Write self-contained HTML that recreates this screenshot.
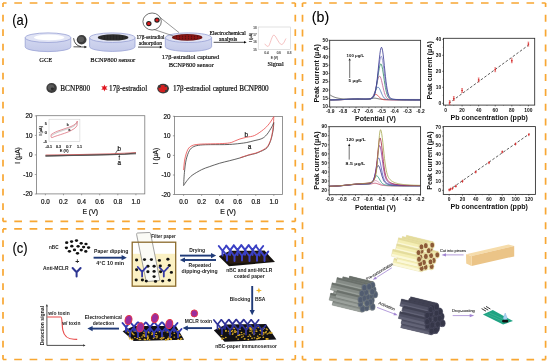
<!DOCTYPE html>
<html><head><meta charset="utf-8"><style>
html,body{margin:0;padding:0;background:#fff;}
body{width:550px;height:363px;overflow:hidden;}
svg{display:block;filter:blur(0.25px);}
.S{font-family:"Liberation Sans", sans-serif;}
.Sb{font-family:"Liberation Sans", sans-serif;font-weight:bold;}
.R{font-family:"Liberation Serif", serif;stroke:#222;stroke-width:0.2px;}
.Rb{font-family:"Liberation Serif", serif;font-weight:bold;}
</style></head><body>
<svg width="550" height="363" viewBox="0 0 550 363">
<defs>
<linearGradient id="side" x1="0" y1="0" x2="0" y2="1">
<stop offset="0" stop-color="#d3d8f0"/><stop offset="1" stop-color="#c3c9e9"/></linearGradient>
<pattern id="grain" width="3" height="2" patternUnits="userSpaceOnUse">
<rect width="3" height="2" fill="#262626"/><circle cx="1" cy="1" r="0.5" fill="#4a4a4a"/></pattern>
<pattern id="redgrain" width="3" height="2" patternUnits="userSpaceOnUse">
<rect width="3" height="2" fill="#7a1212"/><circle cx="1" cy="1" r="0.6" fill="#c01818"/><circle cx="2.4" cy="0.4" r="0.4" fill="#2a0a0a"/></pattern>
</defs>
<rect width="550" height="363" fill="#fff"/>
<line x1="3" y1="3" x2="295.3" y2="3" stroke="#F8A733" stroke-width="1.7" stroke-dasharray="7.7 7.70" stroke-dashoffset="4.1"/>
<line x1="3" y1="221.4" x2="295.3" y2="221.4" stroke="#F8A733" stroke-width="1.7" stroke-dasharray="7.7 7.70" stroke-dashoffset="4.1"/>
<line x1="3" y1="3" x2="3" y2="221.4" stroke="#F8A733" stroke-width="1.7" stroke-dasharray="6.8 7.70" stroke-dashoffset="2.7"/>
<line x1="295.3" y1="3" x2="295.3" y2="221.4" stroke="#F8A733" stroke-width="1.7" stroke-dasharray="6.8 7.70" stroke-dashoffset="2.7"/>
<line x1="3" y1="228.9" x2="295.3" y2="228.9" stroke="#F8A733" stroke-width="1.7" stroke-dasharray="7.7 7.70" stroke-dashoffset="4.2"/>
<line x1="3" y1="359.5" x2="295.3" y2="359.5" stroke="#F8A733" stroke-width="1.7" stroke-dasharray="7.7 7.70" stroke-dashoffset="4.2"/>
<line x1="3" y1="228.9" x2="3" y2="359.5" stroke="#F8A733" stroke-width="1.7" stroke-dasharray="6.8 7.55" stroke-dashoffset="3.05"/>
<line x1="295.3" y1="228.9" x2="295.3" y2="359.5" stroke="#F8A733" stroke-width="1.7" stroke-dasharray="6.8 7.55" stroke-dashoffset="3.05"/>
<line x1="302.5" y1="3" x2="545.6" y2="3" stroke="#F8A733" stroke-width="1.7" stroke-dasharray="7.6 7.58" stroke-dashoffset="3.68"/>
<line x1="302.5" y1="359.6" x2="545.6" y2="359.6" stroke="#F8A733" stroke-width="1.7" stroke-dasharray="7.6 7.58" stroke-dashoffset="3.68"/>
<line x1="302.5" y1="3" x2="302.5" y2="359.6" stroke="#F8A733" stroke-width="1.7" stroke-dasharray="7.0 7.82" stroke-dashoffset="3.02"/>
<line x1="545.6" y1="3" x2="545.6" y2="359.6" stroke="#F8A733" stroke-width="1.7" stroke-dasharray="7.0 7.82" stroke-dashoffset="3.02"/>
<text class="S" x="12.2" y="24.6" font-size="15" textLength="15.8" lengthAdjust="spacingAndGlyphs" stroke="#000" stroke-width="0.12">(a)</text>
<text class="S" x="311.8" y="21.5" font-size="15" textLength="17.4" lengthAdjust="spacingAndGlyphs" stroke="#000" stroke-width="0.12">(b)</text>
<text class="S" x="12.4" y="253.2" font-size="15" textLength="15.2" lengthAdjust="spacingAndGlyphs" stroke="#000" stroke-width="0.12">(c)</text>
<path d="M25.2,37.699999999999996 L25.2,46.800000000000004 A22.799999999999997,4.8 0 0 0 70.8,46.800000000000004 L70.8,37.699999999999996 Z" stroke="#98a1d4" stroke-width="0.8" fill="url(#side)"/>
<ellipse cx="48.00" cy="37.70" rx="22.80" ry="4.80" fill="#e1e4f5" stroke="#98a1d4" stroke-width="0.8"/>
<ellipse cx="49.20" cy="37.40" rx="15.20" ry="2.80" fill="#ffffff" stroke="none" stroke-width="1"/>
<path d="M89.6,37.699999999999996 L89.6,46.6 A22.700000000000003,4.8 0 0 0 135.0,46.6 L135.0,37.699999999999996 Z" stroke="#98a1d4" stroke-width="0.8" fill="url(#side)"/>
<ellipse cx="112.30" cy="37.70" rx="22.70" ry="4.80" fill="#e1e4f5" stroke="#98a1d4" stroke-width="0.8"/>
<ellipse cx="113.10" cy="37.40" rx="15.30" ry="3.20" fill="#2a2a2a" stroke="none" stroke-width="1"/>
<ellipse cx="113.10" cy="37.40" rx="13.00" ry="2.30" fill="url(#grain)" stroke="none" stroke-width="1"/>
<path d="M165.3,37.699999999999996 L165.3,46.6 A23.14999999999999,4.8 0 0 0 211.6,46.6 L211.6,37.699999999999996 Z" stroke="#98a1d4" stroke-width="0.8" fill="url(#side)"/>
<ellipse cx="188.45" cy="37.70" rx="23.15" ry="4.80" fill="#e1e4f5" stroke="#98a1d4" stroke-width="0.8"/>
<ellipse cx="187.20" cy="37.40" rx="15.20" ry="3.30" fill="#6e1414" stroke="none" stroke-width="1"/>
<ellipse cx="187.20" cy="37.40" rx="13.00" ry="2.40" fill="url(#redgrain)" stroke="none" stroke-width="1"/>
<ellipse cx="81.60" cy="39.80" rx="4.90" ry="4.70" fill="#3c3c3c" stroke="none" stroke-width="1"/>
<ellipse cx="81.00" cy="39.30" rx="3.00" ry="2.80" fill="#5a5a5a" stroke="none" stroke-width="1"/>
<path d="M73.6,38.2 Q74.5,45.5 81,46.6" stroke="#000" stroke-width="0.7" fill="none"/>
<line x1="73.50" y1="46.80" x2="84.50" y2="47.00" stroke="#000" stroke-width="0.7"/>
<polygon points="87.00,47.00 84.40,48.30 84.40,45.70" fill="#000" stroke="none" stroke-width="1"/>
<text class="R" x="45.7" y="61.9" font-size="7.0" text-anchor="middle" textLength="13" lengthAdjust="spacingAndGlyphs">GCE</text>
<text class="R" x="112.75" y="61.9" font-size="7.0" text-anchor="middle" textLength="44.9" lengthAdjust="spacingAndGlyphs">BCNP800 sensor</text>
<text class="R" x="190.45" y="59.4" font-size="7.0" text-anchor="middle" textLength="57.3" lengthAdjust="spacingAndGlyphs">17β-estradiol captured</text>
<text class="R" x="191.2" y="66.9" font-size="7.0" text-anchor="middle" textLength="45.1" lengthAdjust="spacingAndGlyphs">BCNP800 sensor</text>
<text class="R" x="150.5" y="39.3" font-size="6.0" text-anchor="middle" textLength="28.2" lengthAdjust="spacingAndGlyphs">17β-estradiol</text>
<text class="R" x="150.35" y="44.9" font-size="6.0" text-anchor="middle" textLength="23.3" lengthAdjust="spacingAndGlyphs">adsorption</text>
<line x1="138.00" y1="47.10" x2="160.00" y2="47.10" stroke="#000" stroke-width="0.7"/>
<polygon points="162.40,47.10 159.80,48.40 159.80,45.80" fill="#000" stroke="none" stroke-width="1"/>
<line x1="153.50" y1="29.30" x2="173.50" y2="36.00" stroke="#333" stroke-width="0.5"/>
<line x1="159.20" y1="16.80" x2="179.00" y2="32.60" stroke="#333" stroke-width="0.5"/>
<ellipse cx="152.10" cy="21.50" rx="9.20" ry="8.50" fill="#ffffff" stroke="#333" stroke-width="0.7"/>
<ellipse cx="148.80" cy="23.60" rx="2.70" ry="2.60" fill="#202020" stroke="none" stroke-width="1"/>
<ellipse cx="148.80" cy="23.60" rx="1.70" ry="1.60" fill="#e0191b" stroke="none" stroke-width="1"/>
<ellipse cx="157.00" cy="20.10" rx="2.70" ry="2.60" fill="#202020" stroke="none" stroke-width="1"/>
<ellipse cx="157.00" cy="20.10" rx="1.60" ry="1.50" fill="#e0191b" stroke="none" stroke-width="1"/>
<text class="R" x="227.7" y="35.2" font-size="5.6" text-anchor="middle" textLength="36.3" lengthAdjust="spacingAndGlyphs">Electrochemical</text>
<text class="R" x="228.2" y="41.4" font-size="5.8" text-anchor="middle" textLength="18.2" lengthAdjust="spacingAndGlyphs">analysis</text>
<line x1="213.60" y1="42.30" x2="244.00" y2="42.30" stroke="#000" stroke-width="0.7"/>
<polygon points="246.60,42.30 244.00,43.60 244.00,41.00" fill="#000" stroke="none" stroke-width="1"/>
<rect x="258.20" y="27.00" width="32.50" height="22.60" fill="#fff" stroke="#c4c4c4" stroke-width="0.5"/>
<path d="M264.8,43.8 C266,45.5 267,46.8 268.4,46.2 C270,45 271.5,37 273.4,35.2 C275.5,34 278.5,44 281.4,44.5 C283.5,44.8 285,40 286,38.5" stroke="#f0a6a6" stroke-width="0.7" fill="none"/>
<text class="S" x="256.6" y="28.5" font-size="3.0" text-anchor="end" fill="#666" stroke="#666" stroke-width="0.2">18</text>
<text class="S" x="256.6" y="35.9" font-size="3.0" text-anchor="end" fill="#666" stroke="#666" stroke-width="0.2">17</text>
<text class="S" x="256.6" y="43.300000000000004" font-size="3.0" text-anchor="end" fill="#666" stroke="#666" stroke-width="0.2">16</text>
<text class="S" x="256.6" y="50.7" font-size="3.0" text-anchor="end" fill="#666" stroke="#666" stroke-width="0.2">15</text>
<text class="S" x="266.5" y="54.2" font-size="3.0" text-anchor="middle" fill="#666" stroke="#666" stroke-width="0.2">0.4</text>
<text class="S" x="278.8" y="54.2" font-size="3.0" text-anchor="middle" fill="#666" stroke="#666" stroke-width="0.2">0.6</text>
<text class="S" x="289.3" y="54.2" font-size="3.0" text-anchor="middle" fill="#666" stroke="#666" stroke-width="0.2">0.8</text>
<text class="S" x="274.4" y="59.0" font-size="3.2" text-anchor="middle" fill="#555" stroke="#555" stroke-width="0.2">E (V)</text>
<text class="S" x="252.3" y="37.4" font-size="3.6" text-anchor="middle" transform="rotate(-90 252.3 37.4)" fill="#333" stroke="#333" stroke-width="0.2">I (μA)</text>
<text class="R" x="275.6" y="65.8" font-size="6.5" text-anchor="middle" textLength="16.1" lengthAdjust="spacingAndGlyphs">Signal</text>
<ellipse cx="51.60" cy="88.00" rx="5.20" ry="5.00" fill="#3c3c3c" stroke="none" stroke-width="1"/>
<ellipse cx="51.00" cy="87.40" rx="3.20" ry="3.00" fill="#5a5a5a" stroke="none" stroke-width="1"/>
<ellipse cx="52.40" cy="88.80" rx="1.60" ry="1.40" fill="#2a2a2a" stroke="none" stroke-width="1"/>
<text class="R" x="60.3" y="90.5" font-size="7.2" textLength="29.7" lengthAdjust="spacingAndGlyphs">BCNP800</text>
<polygon points="104.40,84.40 105.20,86.61 107.52,86.20 106.00,88.00 107.52,89.80 105.20,89.39 104.40,91.60 103.60,89.39 101.28,89.80 102.80,88.00 101.28,86.20 103.60,86.61" fill="#e0141e" stroke="none" stroke-width="1"/>
<text class="R" x="109.1" y="90.9" font-size="7.2" textLength="38.1" lengthAdjust="spacingAndGlyphs">17β-estradiol</text>
<ellipse cx="163.10" cy="88.60" rx="5.90" ry="4.80" fill="#3a3a3a" stroke="none" stroke-width="1"/>
<ellipse cx="162.80" cy="88.60" rx="4.40" ry="3.70" fill="#d42020" stroke="none" stroke-width="1"/>
<ellipse cx="159.50" cy="86.60" rx="1.40" ry="1.30" fill="#3a3a3a" stroke="none" stroke-width="1"/>
<ellipse cx="166.30" cy="91.00" rx="1.40" ry="1.20" fill="#3a3a3a" stroke="none" stroke-width="1"/>
<ellipse cx="165.50" cy="86.00" rx="1.00" ry="0.90" fill="#3a3a3a" stroke="none" stroke-width="1"/>
<text class="R" x="172.9" y="90.9" font-size="7.2" textLength="95.8" lengthAdjust="spacingAndGlyphs">17β-estradiol captured BCNP800</text>
<rect x="36.40" y="115.70" width="108.40" height="78.20" fill="none" stroke="#7a7a7a" stroke-width="0.8"/>
<line x1="34.80" y1="115.90" x2="36.40" y2="115.90" stroke="#7a7a7a" stroke-width="0.7"/>
<text class="S" x="32.4" y="118.15" font-size="6.3" text-anchor="end" fill="#111" stroke="#111" stroke-width="0.2">20</text>
<line x1="34.80" y1="135.40" x2="36.40" y2="135.40" stroke="#7a7a7a" stroke-width="0.7"/>
<text class="S" x="32.4" y="137.65" font-size="6.3" text-anchor="end" fill="#111" stroke="#111" stroke-width="0.2">10</text>
<line x1="34.80" y1="154.90" x2="36.40" y2="154.90" stroke="#7a7a7a" stroke-width="0.7"/>
<text class="S" x="32.4" y="157.15" font-size="6.3" text-anchor="end" fill="#111" stroke="#111" stroke-width="0.2">0</text>
<line x1="34.80" y1="174.50" x2="36.40" y2="174.50" stroke="#7a7a7a" stroke-width="0.7"/>
<text class="S" x="32.4" y="176.75" font-size="6.3" text-anchor="end" fill="#111" stroke="#111" stroke-width="0.2">-10</text>
<line x1="34.80" y1="194.00" x2="36.40" y2="194.00" stroke="#7a7a7a" stroke-width="0.7"/>
<text class="S" x="32.4" y="196.25" font-size="6.3" text-anchor="end" fill="#111" stroke="#111" stroke-width="0.2">-20</text>
<line x1="45.40" y1="193.90" x2="45.40" y2="195.30" stroke="#7a7a7a" stroke-width="0.7"/>
<text class="S" x="45.4" y="203.6" font-size="6.3" text-anchor="middle" fill="#111" stroke="#111" stroke-width="0.2">0.0</text>
<line x1="63.50" y1="193.90" x2="63.50" y2="195.30" stroke="#7a7a7a" stroke-width="0.7"/>
<text class="S" x="63.5" y="203.6" font-size="6.3" text-anchor="middle" fill="#111" stroke="#111" stroke-width="0.2">0.2</text>
<line x1="81.60" y1="193.90" x2="81.60" y2="195.30" stroke="#7a7a7a" stroke-width="0.7"/>
<text class="S" x="81.6" y="203.6" font-size="6.3" text-anchor="middle" fill="#111" stroke="#111" stroke-width="0.2">0.4</text>
<line x1="99.70" y1="193.90" x2="99.70" y2="195.30" stroke="#7a7a7a" stroke-width="0.7"/>
<text class="S" x="99.7" y="203.6" font-size="6.3" text-anchor="middle" fill="#111" stroke="#111" stroke-width="0.2">0.6</text>
<line x1="117.80" y1="193.90" x2="117.80" y2="195.30" stroke="#7a7a7a" stroke-width="0.7"/>
<text class="S" x="117.80000000000001" y="203.6" font-size="6.3" text-anchor="middle" fill="#111" stroke="#111" stroke-width="0.2">0.8</text>
<line x1="135.90" y1="193.90" x2="135.90" y2="195.30" stroke="#7a7a7a" stroke-width="0.7"/>
<text class="S" x="135.9" y="203.6" font-size="6.3" text-anchor="middle" fill="#111" stroke="#111" stroke-width="0.2">1.0</text>
<text class="S" x="90.2" y="214.2" font-size="6.8" text-anchor="middle" fill="#111" stroke="#111" stroke-width="0.2">E (V)</text>
<text class="S" x="20.2" y="155.4" font-size="6.7" text-anchor="middle" transform="rotate(-90 20.2 155.4)" fill="#111" stroke="#111" stroke-width="0.2">I (μA)</text>
<rect x="174.50" y="116.40" width="108.00" height="78.10" fill="none" stroke="#7a7a7a" stroke-width="0.8"/>
<line x1="172.90" y1="116.30" x2="174.50" y2="116.30" stroke="#7a7a7a" stroke-width="0.7"/>
<text class="S" x="170.6" y="118.55" font-size="6.3" text-anchor="end" fill="#111" stroke="#111" stroke-width="0.2">20</text>
<line x1="172.90" y1="135.80" x2="174.50" y2="135.80" stroke="#7a7a7a" stroke-width="0.7"/>
<text class="S" x="170.6" y="138.05" font-size="6.3" text-anchor="end" fill="#111" stroke="#111" stroke-width="0.2">10</text>
<line x1="172.90" y1="155.40" x2="174.50" y2="155.40" stroke="#7a7a7a" stroke-width="0.7"/>
<text class="S" x="170.6" y="157.65" font-size="6.3" text-anchor="end" fill="#111" stroke="#111" stroke-width="0.2">0</text>
<line x1="172.90" y1="175.00" x2="174.50" y2="175.00" stroke="#7a7a7a" stroke-width="0.7"/>
<text class="S" x="170.6" y="177.25" font-size="6.3" text-anchor="end" fill="#111" stroke="#111" stroke-width="0.2">-10</text>
<line x1="172.90" y1="194.50" x2="174.50" y2="194.50" stroke="#7a7a7a" stroke-width="0.7"/>
<text class="S" x="170.6" y="196.75" font-size="6.3" text-anchor="end" fill="#111" stroke="#111" stroke-width="0.2">-20</text>
<line x1="183.60" y1="194.50" x2="183.60" y2="195.90" stroke="#7a7a7a" stroke-width="0.7"/>
<text class="S" x="183.6" y="203.6" font-size="6.3" text-anchor="middle" fill="#111" stroke="#111" stroke-width="0.2">0.0</text>
<line x1="201.64" y1="194.50" x2="201.64" y2="195.90" stroke="#7a7a7a" stroke-width="0.7"/>
<text class="S" x="201.64" y="203.6" font-size="6.3" text-anchor="middle" fill="#111" stroke="#111" stroke-width="0.2">0.2</text>
<line x1="219.68" y1="194.50" x2="219.68" y2="195.90" stroke="#7a7a7a" stroke-width="0.7"/>
<text class="S" x="219.68" y="203.6" font-size="6.3" text-anchor="middle" fill="#111" stroke="#111" stroke-width="0.2">0.4</text>
<line x1="237.72" y1="194.50" x2="237.72" y2="195.90" stroke="#7a7a7a" stroke-width="0.7"/>
<text class="S" x="237.72" y="203.6" font-size="6.3" text-anchor="middle" fill="#111" stroke="#111" stroke-width="0.2">0.6</text>
<line x1="255.76" y1="194.50" x2="255.76" y2="195.90" stroke="#7a7a7a" stroke-width="0.7"/>
<text class="S" x="255.76" y="203.6" font-size="6.3" text-anchor="middle" fill="#111" stroke="#111" stroke-width="0.2">0.8</text>
<line x1="273.80" y1="194.50" x2="273.80" y2="195.90" stroke="#7a7a7a" stroke-width="0.7"/>
<text class="S" x="273.79999999999995" y="203.6" font-size="6.3" text-anchor="middle" fill="#111" stroke="#111" stroke-width="0.2">1.0</text>
<text class="S" x="228.1" y="214.2" font-size="6.8" text-anchor="middle" fill="#111" stroke="#111" stroke-width="0.2">E (V)</text>
<text class="S" x="158.2" y="156.04999999999998" font-size="6.7" text-anchor="middle" transform="rotate(-90 158.2 156.04999999999998)" fill="#111" stroke="#111" stroke-width="0.2">I (μA)</text>
<path d="M45.5,155.8 L80,155.2 L110,154.5 L125,154.0 L136,153.0" stroke="#3a3a3a" stroke-width="1.2" fill="none"/>
<path d="M45.5,155.0 L80,154.5 L110,153.8 L125,153.2 L136,152.6" stroke="#c85050" stroke-width="0.8" fill="none"/>
<path d="M136,153.8 L110,154.8 L80,155.4 L45.5,156.0" stroke="#555" stroke-width="0.9" fill="none"/>
<text class="S" x="119.3" y="150.8" font-size="6.3" text-anchor="middle" fill="#111" stroke="#111" stroke-width="0.2">b</text>
<path d="M117.8,149.8 L115.5,153.3" stroke="#111" stroke-width="0.6" fill="none"/>
<text class="S" x="119.3" y="165.0" font-size="6.3" text-anchor="middle" fill="#111" stroke="#111" stroke-width="0.2">a</text>
<line x1="119.30" y1="160.00" x2="119.30" y2="156.40" stroke="#111" stroke-width="0.6"/>
<polygon points="119.30,155.00 120.30,156.80 118.30,156.80" fill="#111" stroke="none" stroke-width="1"/>
<rect x="49.00" y="119.20" width="30.90" height="22.40" fill="#fff" stroke="#c8c8c8" stroke-width="0.5"/>
<path d="M51.2,134.5 C54,132.5 57,131.3 60,130.3 C64,129 68,127.6 71,126.5 C74,125.3 76.5,123.5 77.3,121.1 L77.0,125.5 C76,128 73,129.6 68.3,131.9 C63,134 58,135.3 54.2,136.7 C52.5,137.4 51.4,138.2 51.1,137 C51,136 51.1,135 51.2,134.5 Z" stroke="#d8606e" stroke-width="0.7" fill="none"/>
<path d="M51.6,135.6 C54.5,133.6 57.5,132.3 60.5,131.3 C64.5,130 68.5,128.6 71.5,127.4 C74.5,126.2 76.5,124.3 77.1,122.5" stroke="#6a6a6a" stroke-width="0.35" fill="none"/>
<text class="S" x="46.8" y="124.9" font-size="3.7" text-anchor="end" fill="#222" stroke="#222" stroke-width="0.2">5</text>
<text class="S" x="46.8" y="134.0" font-size="3.7" text-anchor="end" fill="#222" stroke="#222" stroke-width="0.2">0</text>
<text class="S" x="46.8" y="143.0" font-size="3.7" text-anchor="end" fill="#222" stroke="#222" stroke-width="0.2">-5</text>
<text class="S" x="48.8" y="147.5" font-size="3.7" text-anchor="middle" fill="#222" stroke="#222" stroke-width="0.2">-0.1</text>
<text class="S" x="58.6" y="147.5" font-size="3.7" text-anchor="middle" fill="#222" stroke="#222" stroke-width="0.2">0.3</text>
<text class="S" x="68.9" y="147.5" font-size="3.7" text-anchor="middle" fill="#222" stroke="#222" stroke-width="0.2">0.7</text>
<text class="S" x="79.5" y="147.5" font-size="3.7" text-anchor="middle" fill="#222" stroke="#222" stroke-width="0.2">1.1</text>
<text class="S" x="64.2" y="151.6" font-size="3.9" text-anchor="middle" fill="#222" stroke="#222" stroke-width="0.2">E (V)</text>
<text class="S" x="42.2" y="130.8" font-size="3.9" text-anchor="middle" transform="rotate(-90 42.2 130.8)" fill="#222" stroke="#222" stroke-width="0.2">I (μA)</text>
<text class="S" x="67.6" y="126.0" font-size="3.3" text-anchor="middle" fill="#222" stroke="#222" stroke-width="0.2">b</text>
<text class="S" x="69.4" y="131.2" font-size="3.3" text-anchor="middle" fill="#222" stroke="#222" stroke-width="0.2">a</text>
<path d="M273.80,122.56 C273.69,123.79 273.57,127.35 273.17,129.99 C272.76,132.62 272.01,136.05 271.36,138.39 C270.72,140.74 270.01,142.50 269.29,144.06 C268.57,145.62 267.94,146.80 267.03,147.78 C266.13,148.75 264.96,149.31 263.88,149.93 C262.80,150.55 261.89,150.90 260.54,151.49 C259.19,152.08 257.71,152.84 255.76,153.44 C253.81,154.05 251.45,154.36 248.81,155.11 C246.18,155.86 243.16,157.01 239.97,157.94 C236.79,158.87 233.07,159.80 229.69,160.68 C226.31,161.56 223.09,162.21 219.68,163.22 C216.27,164.23 212.22,165.66 209.22,166.74 C206.21,167.81 204.50,168.24 201.64,169.67 C198.78,171.11 194.48,173.55 192.08,175.34 C189.67,177.13 188.62,178.73 187.21,180.42 C185.79,182.12 184.20,184.66 183.60,185.51" stroke="#3a3a3a" stroke-width="0.8" fill="none"/>
<path d="M273.80,116.69 C273.69,118.42 273.57,123.60 273.17,127.05 C272.76,130.51 272.01,134.71 271.36,137.41 C270.72,140.12 270.01,141.68 269.29,143.28 C268.57,144.88 267.94,145.98 267.03,146.99 C266.13,148.00 264.96,148.66 263.88,149.34 C262.80,150.02 261.89,150.48 260.54,151.10 C259.19,151.72 257.71,152.43 255.76,153.05 C253.81,153.67 251.45,154.03 248.81,154.81 C246.18,155.60 241.45,157.26 239.97,157.75" stroke="#e05050" stroke-width="0.8" fill="none"/>
<path d="M183.60,185.51 C183.74,183.36 183.99,176.87 184.41,172.60 C184.83,168.34 185.28,163.58 186.13,159.90 C186.97,156.21 188.19,152.73 189.46,150.51 C190.74,148.30 191.94,147.51 193.79,146.60 C195.64,145.69 197.75,145.36 200.56,145.04 C203.37,144.71 207.47,144.71 210.66,144.65 C213.85,144.58 216.51,144.68 219.68,144.65 C222.85,144.61 226.31,144.65 229.69,144.45 C233.07,144.26 237.13,143.80 239.97,143.47 C242.82,143.15 244.41,142.95 246.74,142.50 C249.07,142.04 251.43,141.39 253.96,140.74 C256.48,140.09 259.79,139.56 261.89,138.59 C264.00,137.61 265.28,136.24 266.58,134.87 C267.89,133.50 268.84,131.78 269.74,130.38 C270.64,128.97 271.32,127.77 272.00,126.47 C272.67,125.16 273.50,123.21 273.80,122.56" stroke="#3a3a3a" stroke-width="0.8" fill="none"/>
<path d="M183.60,170.06 C183.81,168.21 184.16,162.34 184.86,158.92 C185.57,155.50 186.64,151.75 187.84,149.53 C189.04,147.32 190.23,146.50 192.08,145.62 C193.93,144.75 195.84,144.55 198.93,144.26 C202.03,143.96 207.20,143.96 210.66,143.87 C214.12,143.77 216.51,143.83 219.68,143.67 C222.85,143.51 226.99,143.41 229.69,142.89 C232.40,142.37 234.20,141.19 235.92,140.54 C237.63,139.89 238.17,139.53 239.97,138.98 C241.78,138.42 244.30,137.81 246.74,137.22 C249.18,136.63 251.81,136.73 254.59,135.46 C257.37,134.19 260.99,131.55 263.43,129.59 C265.86,127.64 267.47,125.88 269.20,123.73 C270.93,121.58 273.03,117.86 273.80,116.69" stroke="#e84848" stroke-width="0.8" fill="none"/>
<text class="S" x="246.2" y="136.6" font-size="6.4" text-anchor="middle" fill="#111" stroke="#111" stroke-width="0.2">b</text>
<text class="S" x="249.5" y="149.0" font-size="6.4" text-anchor="middle" fill="#111" stroke="#111" stroke-width="0.2">a</text>
<polyline points="330.20,95.00 330.84,95.42 331.49,95.81 332.13,96.16 332.78,96.47 333.42,96.76 334.07,97.02 334.71,97.25 335.35,97.46 336.00,97.65 336.64,97.83 337.29,97.98 337.93,98.12 338.58,98.25 339.22,98.37 339.86,98.47 340.51,98.57 341.15,98.66 341.80,98.73 342.44,98.80 343.09,98.87 343.73,98.92 344.37,98.98 345.02,99.02 345.66,99.07 346.31,99.11 346.95,99.14 347.60,99.17 348.24,99.20 348.88,99.23 349.53,99.25 350.17,99.27 350.82,99.29 351.46,99.31 352.11,99.32 352.75,99.34 353.39,99.35 354.04,99.36 354.68,99.37 355.33,99.38 355.97,99.39 356.62,99.40 357.26,99.41 357.90,99.41 358.55,99.42 359.19,99.42 359.84,99.43 360.48,99.43 361.13,99.43 361.77,99.43 362.41,99.43 363.06,99.42 363.70,99.41 364.35,99.39 364.99,99.37 365.64,99.33 366.28,99.28 366.92,99.21 367.57,99.13 368.21,99.03 368.86,98.92 369.50,98.79 370.15,98.66 370.79,98.53 371.43,98.40 372.08,98.30 372.72,98.21 373.37,98.16 374.01,98.14 374.66,98.16 375.30,98.21 375.94,98.30 376.59,98.41 377.23,98.53 377.88,98.67 378.52,98.80 379.17,98.93 379.81,99.04 380.45,99.14 381.10,99.22 381.74,99.29 382.39,99.34 383.03,99.38 383.68,99.41 384.32,99.43 384.96,99.45 385.61,99.46 386.25,99.46 386.90,99.47 387.54,99.47 388.19,99.47 388.83,99.47 389.47,99.47 390.12,99.47 390.76,99.47 391.41,99.47 392.05,99.47 392.70,99.47 393.34,99.47 393.98,99.47 394.63,99.47 395.27,99.47 395.92,99.47 396.56,99.47 397.21,99.47 397.85,99.47 398.49,99.47 399.14,99.47 399.78,99.47 400.43,99.47 401.07,99.47 401.72,99.47 402.36,99.47 403.00,99.47 403.65,99.47 404.29,99.47 404.94,99.47 405.58,99.47 406.23,99.47 406.87,99.47 407.51,99.47 408.16,99.47 408.80,99.47 409.45,99.47 410.09,99.47 410.74,99.47 411.38,99.47 412.02,99.47 412.67,99.47 413.31,99.47 413.96,99.47 414.60,99.47 415.25,99.47 415.89,99.47 416.53,99.47 417.18,99.47 417.82,99.47 418.47,99.47 419.11,99.47 419.76,99.47 420.40,99.47" fill="none" stroke="#333" stroke-width="0.7" stroke-linejoin="round"/>
<polyline points="330.20,99.93 330.76,99.92 331.33,99.92 331.89,99.91 332.45,99.90 333.02,99.89 333.58,99.88 334.15,99.88 334.71,99.86 335.27,99.85 335.84,99.84 336.40,99.83 336.96,99.81 337.53,99.79 338.09,99.78 338.66,99.76 339.22,99.74 339.78,99.72 340.35,99.70 340.91,99.68 341.47,99.65 342.04,99.63 342.60,99.60 343.17,99.58 343.73,99.55 344.29,99.52 344.86,99.50 345.42,99.47 345.98,99.44 346.55,99.41 347.11,99.38 347.68,99.36 348.24,99.33 348.80,99.30 349.37,99.28 349.93,99.26 350.50,99.23 351.06,99.21 351.62,99.19 352.19,99.18 352.75,99.16 353.31,99.15 353.88,99.14 354.44,99.13 355.00,99.12 355.57,99.12 356.13,99.12 356.70,99.12 357.26,99.12 357.82,99.12 358.39,99.13 358.95,99.14 359.51,99.15 360.08,99.16 360.64,99.18 361.21,99.20 361.77,99.21 362.33,99.23 362.90,99.25 363.46,99.27 364.02,99.29 364.59,99.31 365.15,99.33 365.72,99.34 366.28,99.35 366.84,99.36 367.41,99.35 367.97,99.32 368.53,99.27 369.10,99.18 369.66,99.04 370.23,98.84 370.79,98.55 371.35,98.18 371.92,97.73 372.48,97.19 373.04,96.60 373.61,96.00 374.17,95.44 374.74,94.96 375.30,94.64 375.86,94.50 376.43,94.58 376.99,94.86 377.56,95.30 378.12,95.86 378.68,96.48 379.25,97.11 379.81,97.69 380.37,98.21 380.94,98.64 381.50,98.99 382.06,99.25 382.63,99.45 383.19,99.59 383.76,99.68 384.32,99.75 384.88,99.79 385.45,99.82 386.01,99.84 386.57,99.86 387.14,99.87 387.70,99.88 388.27,99.89 388.83,99.90 389.39,99.90 389.96,99.91 390.52,99.91 391.08,99.92 391.65,99.92 392.21,99.92 392.78,99.93 393.34,99.93 393.90,99.93 394.47,99.93 395.03,99.94 395.59,99.94 396.16,99.94 396.72,99.94 397.29,99.94 397.85,99.95 398.41,99.95 398.98,99.95 399.54,99.95 400.11,99.95 400.67,99.95 401.23,99.95 401.80,99.95 402.36,99.95 402.92,99.95 403.49,99.95 404.05,99.95 404.62,99.96 405.18,99.96 405.74,99.96 406.31,99.96 406.87,99.96 407.43,99.96 408.00,99.96 408.56,99.96 409.12,99.96 409.69,99.96 410.25,99.96 410.82,99.96 411.38,99.96 411.94,99.96 412.51,99.96 413.07,99.96 413.63,99.96 414.20,99.96 414.76,99.96 415.33,99.96 415.89,99.96 416.45,99.96 417.02,99.96 417.58,99.96 418.14,99.96 418.71,99.96 419.27,99.96 419.84,99.96 420.40,99.96" fill="none" stroke="#d83434" stroke-width="0.8" stroke-linejoin="round"/>
<polyline points="330.20,99.92 330.76,99.92 331.33,99.91 331.89,99.90 332.45,99.89 333.02,99.89 333.58,99.88 334.15,99.87 334.71,99.86 335.27,99.84 335.84,99.83 336.40,99.82 336.96,99.80 337.53,99.79 338.09,99.77 338.66,99.75 339.22,99.73 339.78,99.71 340.35,99.69 340.91,99.66 341.47,99.64 342.04,99.62 342.60,99.59 343.17,99.56 343.73,99.54 344.29,99.51 344.86,99.48 345.42,99.45 345.98,99.43 346.55,99.40 347.11,99.37 347.68,99.34 348.24,99.31 348.80,99.29 349.37,99.26 349.93,99.24 350.50,99.22 351.06,99.19 351.62,99.17 352.19,99.16 352.75,99.14 353.31,99.13 353.88,99.11 354.44,99.10 355.00,99.10 355.57,99.09 356.13,99.09 356.70,99.09 357.26,99.09 357.82,99.09 358.39,99.10 358.95,99.10 359.51,99.11 360.08,99.12 360.64,99.14 361.21,99.15 361.77,99.17 362.33,99.18 362.90,99.20 363.46,99.21 364.02,99.23 364.59,99.24 365.15,99.26 365.72,99.27 366.28,99.28 366.84,99.28 367.41,99.28 367.97,99.26 368.53,99.21 369.10,99.14 369.66,99.02 370.23,98.83 370.79,98.56 371.35,98.17 371.92,97.65 372.48,96.96 373.04,96.10 373.61,95.07 374.17,93.88 374.74,92.58 375.30,91.24 375.86,89.94 376.43,88.79 376.99,87.89 377.56,87.35 378.12,87.22 378.68,87.52 379.25,88.22 379.81,89.24 380.37,90.47 380.94,91.82 381.50,93.17 382.06,94.46 382.63,95.61 383.19,96.61 383.76,97.43 384.32,98.08 384.88,98.58 385.45,98.95 386.01,99.22 386.57,99.40 387.14,99.53 387.70,99.62 388.27,99.68 388.83,99.72 389.39,99.76 389.96,99.78 390.52,99.80 391.08,99.81 391.65,99.83 392.21,99.84 392.78,99.85 393.34,99.85 393.90,99.86 394.47,99.87 395.03,99.88 395.59,99.88 396.16,99.89 396.72,99.89 397.29,99.90 397.85,99.90 398.41,99.90 398.98,99.91 399.54,99.91 400.11,99.91 400.67,99.92 401.23,99.92 401.80,99.92 402.36,99.92 402.92,99.92 403.49,99.93 404.05,99.93 404.62,99.93 405.18,99.93 405.74,99.93 406.31,99.93 406.87,99.94 407.43,99.94 408.00,99.94 408.56,99.94 409.12,99.94 409.69,99.94 410.25,99.94 410.82,99.94 411.38,99.94 411.94,99.95 412.51,99.95 413.07,99.95 413.63,99.95 414.20,99.95 414.76,99.95 415.33,99.95 415.89,99.95 416.45,99.95 417.02,99.95 417.58,99.95 418.14,99.95 418.71,99.95 419.27,99.95 419.84,99.95 420.40,99.95" fill="none" stroke="#4a74b4" stroke-width="0.8" stroke-linejoin="round"/>
<polyline points="330.20,99.91 330.76,99.91 331.33,99.90 331.89,99.89 332.45,99.88 333.02,99.88 333.58,99.87 334.15,99.86 334.71,99.84 335.27,99.83 335.84,99.82 336.40,99.80 336.96,99.79 337.53,99.77 338.09,99.76 338.66,99.74 339.22,99.72 339.78,99.70 340.35,99.67 340.91,99.65 341.47,99.63 342.04,99.60 342.60,99.57 343.17,99.55 343.73,99.52 344.29,99.49 344.86,99.46 345.42,99.43 345.98,99.41 346.55,99.38 347.11,99.35 347.68,99.32 348.24,99.29 348.80,99.27 349.37,99.24 349.93,99.21 350.50,99.19 351.06,99.17 351.62,99.15 352.19,99.13 352.75,99.11 353.31,99.09 353.88,99.08 354.44,99.07 355.00,99.06 355.57,99.05 356.13,99.05 356.70,99.05 357.26,99.05 357.82,99.05 358.39,99.05 358.95,99.06 359.51,99.06 360.08,99.07 360.64,99.08 361.21,99.09 361.77,99.11 362.33,99.12 362.90,99.13 363.46,99.14 364.02,99.16 364.59,99.17 365.15,99.18 365.72,99.19 366.28,99.19 366.84,99.19 367.41,99.19 367.97,99.18 368.53,99.15 369.10,99.11 369.66,99.04 370.23,98.92 370.79,98.74 371.35,98.46 371.92,98.04 372.48,97.45 373.04,96.64 373.61,95.55 374.17,94.15 374.74,92.42 375.30,90.38 375.86,88.07 376.43,85.58 376.99,83.05 377.56,80.66 378.12,78.59 378.68,77.06 379.25,76.22 379.81,76.19 380.37,76.96 380.94,78.44 381.50,80.47 382.06,82.86 382.63,85.40 383.19,87.91 383.76,90.26 384.32,92.35 384.88,94.13 385.45,95.58 386.01,96.72 386.57,97.59 387.14,98.22 387.70,98.68 388.27,98.99 388.83,99.21 389.39,99.36 389.96,99.46 390.52,99.53 391.08,99.59 391.65,99.63 392.21,99.66 392.78,99.68 393.34,99.71 393.90,99.73 394.47,99.74 395.03,99.76 395.59,99.77 396.16,99.79 396.72,99.80 397.29,99.81 397.85,99.82 398.41,99.83 398.98,99.83 399.54,99.84 400.11,99.85 400.67,99.85 401.23,99.86 401.80,99.86 402.36,99.87 402.92,99.87 403.49,99.88 404.05,99.88 404.62,99.89 405.18,99.89 405.74,99.89 406.31,99.90 406.87,99.90 407.43,99.90 408.00,99.91 408.56,99.91 409.12,99.91 409.69,99.91 410.25,99.91 410.82,99.92 411.38,99.92 411.94,99.92 412.51,99.92 413.07,99.92 413.63,99.92 414.20,99.93 414.76,99.93 415.33,99.93 415.89,99.93 416.45,99.93 417.02,99.93 417.58,99.93 418.14,99.93 418.71,99.94 419.27,99.94 419.84,99.94 420.40,99.94" fill="none" stroke="#c0608e" stroke-width="0.8" stroke-linejoin="round"/>
<polyline points="330.20,99.90 330.76,99.90 331.33,99.89 331.89,99.88 332.45,99.87 333.02,99.87 333.58,99.86 334.15,99.85 334.71,99.83 335.27,99.82 335.84,99.81 336.40,99.79 336.96,99.78 337.53,99.76 338.09,99.74 338.66,99.72 339.22,99.70 339.78,99.68 340.35,99.66 340.91,99.63 341.47,99.61 342.04,99.58 342.60,99.56 343.17,99.53 343.73,99.50 344.29,99.47 344.86,99.45 345.42,99.42 345.98,99.39 346.55,99.36 347.11,99.33 347.68,99.30 348.24,99.27 348.80,99.24 349.37,99.22 349.93,99.19 350.50,99.17 351.06,99.14 351.62,99.12 352.19,99.10 352.75,99.08 353.31,99.07 353.88,99.05 354.44,99.04 355.00,99.03 355.57,99.02 356.13,99.01 356.70,99.01 357.26,99.01 357.82,99.01 358.39,99.01 358.95,99.01 359.51,99.02 360.08,99.03 360.64,99.03 361.21,99.04 361.77,99.05 362.33,99.06 362.90,99.07 363.46,99.08 364.02,99.09 364.59,99.10 365.15,99.11 365.72,99.11 366.28,99.11 366.84,99.11 367.41,99.11 367.97,99.10 368.53,99.08 369.10,99.05 369.66,99.01 370.23,98.94 370.79,98.83 371.35,98.66 371.92,98.39 372.48,98.00 373.04,97.42 373.61,96.60 374.17,95.45 374.74,93.91 375.30,91.91 375.86,89.43 376.43,86.45 376.99,83.04 377.56,79.32 378.12,75.47 378.68,71.75 379.25,68.44 379.81,65.85 380.37,64.26 380.94,63.85 381.50,64.68 382.06,66.64 382.63,69.51 383.19,73.01 383.76,76.81 384.32,80.65 384.88,84.30 385.45,87.59 386.01,90.43 386.57,92.76 387.14,94.62 387.70,96.04 388.27,97.09 388.83,97.85 389.39,98.38 389.96,98.74 390.52,98.99 391.08,99.16 391.65,99.28 392.21,99.37 392.78,99.44 393.34,99.49 393.90,99.53 394.47,99.56 395.03,99.59 395.59,99.62 396.16,99.64 396.72,99.67 397.29,99.69 397.85,99.70 398.41,99.72 398.98,99.73 399.54,99.75 400.11,99.76 400.67,99.77 401.23,99.78 401.80,99.79 402.36,99.80 402.92,99.81 403.49,99.82 404.05,99.82 404.62,99.83 405.18,99.84 405.74,99.84 406.31,99.85 406.87,99.85 407.43,99.86 408.00,99.86 408.56,99.87 409.12,99.87 409.69,99.87 410.25,99.88 410.82,99.88 411.38,99.88 411.94,99.89 412.51,99.89 413.07,99.89 413.63,99.90 414.20,99.90 414.76,99.90 415.33,99.90 415.89,99.90 416.45,99.91 417.02,99.91 417.58,99.91 418.14,99.91 418.71,99.91 419.27,99.92 419.84,99.92 420.40,99.92" fill="none" stroke="#2b8a5a" stroke-width="0.8" stroke-linejoin="round"/>
<polyline points="330.20,99.90 330.76,99.89 331.33,99.88 331.89,99.88 332.45,99.87 333.02,99.86 333.58,99.85 334.15,99.84 334.71,99.83 335.27,99.81 335.84,99.80 336.40,99.78 336.96,99.77 337.53,99.75 338.09,99.73 338.66,99.71 339.22,99.69 339.78,99.67 340.35,99.65 340.91,99.63 341.47,99.60 342.04,99.57 342.60,99.55 343.17,99.52 343.73,99.49 344.29,99.46 344.86,99.43 345.42,99.40 345.98,99.37 346.55,99.34 347.11,99.32 347.68,99.29 348.24,99.26 348.80,99.23 349.37,99.20 349.93,99.17 350.50,99.15 351.06,99.13 351.62,99.10 352.19,99.08 352.75,99.06 353.31,99.05 353.88,99.03 354.44,99.02 355.00,99.01 355.57,99.00 356.13,98.99 356.70,98.99 357.26,98.98 357.82,98.98 358.39,98.98 358.95,98.99 359.51,98.99 360.08,99.00 360.64,99.00 361.21,99.01 361.77,99.02 362.33,99.03 362.90,99.03 363.46,99.04 364.02,99.05 364.59,99.05 365.15,99.06 365.72,99.06 366.28,99.06 366.84,99.06 367.41,99.05 367.97,99.04 368.53,99.02 369.10,98.98 369.66,98.94 370.23,98.87 370.79,98.76 371.35,98.60 371.92,98.36 372.48,97.99 373.04,97.45 373.61,96.66 374.17,95.54 374.74,94.00 375.30,91.97 375.86,89.36 376.43,86.16 376.99,82.37 377.56,78.10 378.12,73.51 378.68,68.86 379.25,64.47 379.81,60.69 380.37,57.91 380.94,56.41 381.50,56.39 382.06,57.84 382.63,60.60 383.19,64.35 383.76,68.74 384.32,73.40 384.88,78.01 385.45,82.31 386.01,86.13 386.57,89.37 387.14,92.01 387.70,94.08 388.27,95.65 388.83,96.80 389.39,97.63 389.96,98.20 390.52,98.59 391.08,98.86 391.65,99.05 392.21,99.18 392.78,99.27 393.34,99.34 393.90,99.40 394.47,99.45 395.03,99.49 395.59,99.53 396.16,99.56 396.72,99.58 397.29,99.61 397.85,99.63 398.41,99.65 398.98,99.67 399.54,99.69 400.11,99.71 400.67,99.72 401.23,99.73 401.80,99.75 402.36,99.76 402.92,99.77 403.49,99.78 404.05,99.79 404.62,99.80 405.18,99.80 405.74,99.81 406.31,99.82 406.87,99.82 407.43,99.83 408.00,99.84 408.56,99.84 409.12,99.85 409.69,99.85 410.25,99.86 410.82,99.86 411.38,99.86 411.94,99.87 412.51,99.87 413.07,99.87 413.63,99.88 414.20,99.88 414.76,99.88 415.33,99.89 415.89,99.89 416.45,99.89 417.02,99.89 417.58,99.90 418.14,99.90 418.71,99.90 419.27,99.90 419.84,99.90 420.40,99.91" fill="none" stroke="#8282c4" stroke-width="0.8" stroke-linejoin="round"/>
<polyline points="330.20,99.89 330.76,99.88 331.33,99.88 331.89,99.87 332.45,99.86 333.02,99.85 333.58,99.84 334.15,99.83 334.71,99.82 335.27,99.80 335.84,99.79 336.40,99.78 336.96,99.76 337.53,99.74 338.09,99.72 338.66,99.70 339.22,99.68 339.78,99.66 340.35,99.64 340.91,99.61 341.47,99.59 342.04,99.56 342.60,99.54 343.17,99.51 343.73,99.48 344.29,99.45 344.86,99.42 345.42,99.39 345.98,99.36 346.55,99.33 347.11,99.30 347.68,99.27 348.24,99.24 348.80,99.21 349.37,99.18 349.93,99.16 350.50,99.13 351.06,99.11 351.62,99.08 352.19,99.06 352.75,99.04 353.31,99.02 353.88,99.01 354.44,98.99 355.00,98.98 355.57,98.97 356.13,98.96 356.70,98.96 357.26,98.95 357.82,98.95 358.39,98.95 358.95,98.95 359.51,98.95 360.08,98.96 360.64,98.96 361.21,98.97 361.77,98.97 362.33,98.98 362.90,98.99 363.46,98.99 364.02,98.99 364.59,99.00 365.15,99.00 365.72,99.00 366.28,98.99 366.84,98.98 367.41,98.97 367.97,98.95 368.53,98.93 369.10,98.89 369.66,98.84 370.23,98.76 370.79,98.65 371.35,98.49 371.92,98.24 372.48,97.87 373.04,97.32 373.61,96.51 374.17,95.35 374.74,93.74 375.30,91.57 375.86,88.74 376.43,85.21 376.99,80.95 377.56,76.05 378.12,70.66 378.68,65.05 379.25,59.56 379.81,54.62 380.37,50.66 380.94,48.11 381.50,47.26 382.06,48.22 382.63,50.86 383.19,54.88 383.76,59.87 384.32,65.39 384.88,71.01 385.45,76.39 386.01,81.28 386.57,85.51 387.14,89.02 387.70,91.82 388.27,93.98 388.83,95.58 389.39,96.74 389.96,97.55 390.52,98.12 391.08,98.50 391.65,98.77 392.21,98.95 392.78,99.08 393.34,99.18 393.90,99.26 394.47,99.32 395.03,99.37 395.59,99.42 396.16,99.46 396.72,99.49 397.29,99.52 397.85,99.55 398.41,99.58 398.98,99.60 399.54,99.62 400.11,99.64 400.67,99.66 401.23,99.68 401.80,99.69 402.36,99.71 402.92,99.72 403.49,99.73 404.05,99.74 404.62,99.76 405.18,99.76 405.74,99.77 406.31,99.78 406.87,99.79 407.43,99.80 408.00,99.81 408.56,99.81 409.12,99.82 409.69,99.82 410.25,99.83 410.82,99.84 411.38,99.84 411.94,99.84 412.51,99.85 413.07,99.85 413.63,99.86 414.20,99.86 414.76,99.86 415.33,99.87 415.89,99.87 416.45,99.87 417.02,99.88 417.58,99.88 418.14,99.88 418.71,99.89 419.27,99.89 419.84,99.89 420.40,99.89" fill="none" stroke="#34348e" stroke-width="0.8" stroke-linejoin="round"/>
<rect x="329.70" y="40.30" width="90.90" height="66.70" fill="none" stroke="#2a2a2a" stroke-width="0.85"/>
<line x1="328.40" y1="106.60" x2="329.70" y2="106.60" stroke="#222" stroke-width="0.6"/>
<text class="Sb" x="327.9" y="108.35" font-size="4.9" text-anchor="end" fill="#111">10</text>
<line x1="328.40" y1="98.31" x2="329.70" y2="98.31" stroke="#222" stroke-width="0.6"/>
<text class="Sb" x="327.9" y="100.0625" font-size="4.9" text-anchor="end" fill="#111">15</text>
<line x1="328.40" y1="90.02" x2="329.70" y2="90.02" stroke="#222" stroke-width="0.6"/>
<text class="Sb" x="327.9" y="91.77499999999999" font-size="4.9" text-anchor="end" fill="#111">20</text>
<line x1="328.40" y1="81.74" x2="329.70" y2="81.74" stroke="#222" stroke-width="0.6"/>
<text class="Sb" x="327.9" y="83.4875" font-size="4.9" text-anchor="end" fill="#111">25</text>
<line x1="328.40" y1="73.45" x2="329.70" y2="73.45" stroke="#222" stroke-width="0.6"/>
<text class="Sb" x="327.9" y="75.19999999999999" font-size="4.9" text-anchor="end" fill="#111">30</text>
<line x1="328.40" y1="65.16" x2="329.70" y2="65.16" stroke="#222" stroke-width="0.6"/>
<text class="Sb" x="327.9" y="66.9125" font-size="4.9" text-anchor="end" fill="#111">35</text>
<line x1="328.40" y1="56.87" x2="329.70" y2="56.87" stroke="#222" stroke-width="0.6"/>
<text class="Sb" x="327.9" y="58.62499999999999" font-size="4.9" text-anchor="end" fill="#111">40</text>
<line x1="328.40" y1="48.59" x2="329.70" y2="48.59" stroke="#222" stroke-width="0.6"/>
<text class="Sb" x="327.9" y="50.3375" font-size="4.9" text-anchor="end" fill="#111">45</text>
<line x1="328.40" y1="40.30" x2="329.70" y2="40.30" stroke="#222" stroke-width="0.6"/>
<text class="Sb" x="327.9" y="42.05" font-size="4.9" text-anchor="end" fill="#111">50</text>
<line x1="330.20" y1="107.00" x2="330.20" y2="108.30" stroke="#222" stroke-width="0.6"/>
<text class="Sb" x="330.2" y="113.35" font-size="4.9" text-anchor="middle" fill="#111">-0.9</text>
<line x1="343.09" y1="107.00" x2="343.09" y2="108.30" stroke="#222" stroke-width="0.6"/>
<text class="Sb" x="343.0857142857143" y="113.35" font-size="4.9" text-anchor="middle" fill="#111">-0.8</text>
<line x1="355.97" y1="107.00" x2="355.97" y2="108.30" stroke="#222" stroke-width="0.6"/>
<text class="Sb" x="355.9714285714286" y="113.35" font-size="4.9" text-anchor="middle" fill="#111">-0.7</text>
<line x1="368.86" y1="107.00" x2="368.86" y2="108.30" stroke="#222" stroke-width="0.6"/>
<text class="Sb" x="368.85714285714283" y="113.35" font-size="4.9" text-anchor="middle" fill="#111">-0.6</text>
<line x1="381.74" y1="107.00" x2="381.74" y2="108.30" stroke="#222" stroke-width="0.6"/>
<text class="Sb" x="381.74285714285713" y="113.35" font-size="4.9" text-anchor="middle" fill="#111">-0.5</text>
<line x1="394.63" y1="107.00" x2="394.63" y2="108.30" stroke="#222" stroke-width="0.6"/>
<text class="Sb" x="394.62857142857143" y="113.35" font-size="4.9" text-anchor="middle" fill="#111">-0.4</text>
<line x1="407.51" y1="107.00" x2="407.51" y2="108.30" stroke="#222" stroke-width="0.6"/>
<text class="Sb" x="407.51428571428573" y="113.35" font-size="4.9" text-anchor="middle" fill="#111">-0.3</text>
<line x1="420.40" y1="107.00" x2="420.40" y2="108.30" stroke="#222" stroke-width="0.6"/>
<text class="Sb" x="420.4" y="113.35" font-size="4.9" text-anchor="middle" fill="#111">-0.2</text>
<line x1="336.64" y1="107.00" x2="336.64" y2="107.80" stroke="#444" stroke-width="0.5"/>
<line x1="349.53" y1="107.00" x2="349.53" y2="107.80" stroke="#444" stroke-width="0.5"/>
<line x1="362.41" y1="107.00" x2="362.41" y2="107.80" stroke="#444" stroke-width="0.5"/>
<line x1="375.30" y1="107.00" x2="375.30" y2="107.80" stroke="#444" stroke-width="0.5"/>
<line x1="388.19" y1="107.00" x2="388.19" y2="107.80" stroke="#444" stroke-width="0.5"/>
<line x1="401.07" y1="107.00" x2="401.07" y2="107.80" stroke="#444" stroke-width="0.5"/>
<line x1="413.96" y1="107.00" x2="413.96" y2="107.80" stroke="#444" stroke-width="0.5"/>
<text class="Sb" x="375.5" y="121.0" font-size="7.0" text-anchor="middle" fill="#111">Potential (V)</text>
<text class="Sb" x="319.0" y="73.4" font-size="7.0" text-anchor="middle" transform="rotate(-90 319.0 73.4)" fill="#111">Peak current (μA)</text>
<text class="Sb" x="346.6" y="57.2" font-size="4.0" textLength="17.6" lengthAdjust="spacingAndGlyphs" fill="#111">100 μg/L</text>
<line x1="349.70" y1="78.00" x2="349.70" y2="60.50" stroke="#111" stroke-width="0.6"/>
<polygon points="349.70,58.20 350.80,60.60 348.60,60.60" fill="#111" stroke="none" stroke-width="1"/>
<text class="Sb" x="348.6" y="82.0" font-size="4.0" textLength="13.4" lengthAdjust="spacingAndGlyphs" fill="#111">5 μg/L</text>
<polyline points="329.60,186.35 330.17,186.34 330.73,186.32 331.30,186.30 331.87,186.28 332.43,186.26 333.00,186.24 333.56,186.21 334.13,186.19 334.70,186.16 335.26,186.13 335.83,186.10 336.40,186.07 336.96,186.04 337.53,186.00 338.09,185.97 338.66,185.93 339.23,185.89 339.79,185.85 340.36,185.81 340.93,185.76 341.49,185.71 342.06,185.67 342.62,185.62 343.19,185.57 343.76,185.51 344.32,185.46 344.89,185.41 345.46,185.35 346.02,185.29 346.59,185.24 347.15,185.18 347.72,185.12 348.29,185.07 348.85,185.01 349.42,184.95 349.99,184.90 350.55,184.84 351.12,184.79 351.68,184.74 352.25,184.69 352.82,184.64 353.38,184.59 353.95,184.55 354.52,184.50 355.08,184.46 355.65,184.43 356.21,184.39 356.78,184.36 357.35,184.33 357.91,184.31 358.48,184.29 359.05,184.27 359.61,184.25 360.18,184.24 360.74,184.24 361.31,184.23 361.88,184.23 362.44,184.23 363.01,184.24 363.58,184.25 364.14,184.26 364.71,184.27 365.27,184.28 365.84,184.30 366.41,184.31 366.97,184.31 367.54,184.31 368.11,184.30 368.67,184.27 369.24,184.23 369.80,184.16 370.37,184.08 370.94,183.97 371.50,183.85 372.07,183.71 372.63,183.57 373.20,183.43 373.77,183.32 374.33,183.24 374.90,183.21 375.47,183.24 376.03,183.32 376.60,183.45 377.17,183.62 377.73,183.82 378.30,184.04 378.86,184.26 379.43,184.47 380.00,184.67 380.56,184.85 381.13,185.00 381.69,185.14 382.26,185.25 382.83,185.34 383.39,185.42 383.96,185.48 384.53,185.54 385.09,185.58 385.66,185.62 386.23,185.66 386.79,185.69 387.36,185.72 387.92,185.74 388.49,185.77 389.06,185.79 389.62,185.80 390.19,185.82 390.75,185.84 391.32,185.85 391.89,185.86 392.45,185.87 393.02,185.88 393.59,185.89 394.15,185.90 394.72,185.91 395.29,185.91 395.85,185.92 396.42,185.92 396.98,185.92 397.55,185.93 398.12,185.93 398.68,185.93 399.25,185.93 399.82,185.93 400.38,185.93 400.95,185.93 401.51,185.93 402.08,185.93 402.65,185.93 403.21,185.93 403.78,185.92 404.35,185.92 404.91,185.92 405.48,185.92 406.04,185.91 406.61,185.91 407.18,185.91 407.74,185.91 408.31,185.90 408.88,185.90 409.44,185.90 410.01,185.89 410.57,185.89 411.14,185.89 411.71,185.88 412.27,185.88 412.84,185.88 413.41,185.87 413.97,185.87 414.54,185.87 415.10,185.86 415.67,185.86 416.24,185.86 416.80,185.85 417.37,185.85 417.94,185.85 418.50,185.84 419.07,185.84 419.63,185.84 420.20,185.83" fill="none" stroke="#c04060" stroke-width="0.8" stroke-linejoin="round"/>
<polyline points="329.60,186.35 330.17,186.33 330.73,186.32 331.30,186.30 331.87,186.28 332.43,186.26 333.00,186.23 333.56,186.21 334.13,186.18 334.70,186.16 335.26,186.13 335.83,186.10 336.40,186.07 336.96,186.03 337.53,186.00 338.09,185.96 338.66,185.92 339.23,185.88 339.79,185.84 340.36,185.80 340.93,185.75 341.49,185.70 342.06,185.66 342.62,185.61 343.19,185.56 343.76,185.50 344.32,185.45 344.89,185.39 345.46,185.34 346.02,185.28 346.59,185.23 347.15,185.17 347.72,185.11 348.29,185.05 348.85,185.00 349.42,184.94 349.99,184.88 350.55,184.83 351.12,184.77 351.68,184.72 352.25,184.67 352.82,184.62 353.38,184.57 353.95,184.52 354.52,184.48 355.08,184.44 355.65,184.40 356.21,184.36 356.78,184.33 357.35,184.30 357.91,184.27 358.48,184.25 359.05,184.23 359.61,184.21 360.18,184.20 360.74,184.18 361.31,184.18 361.88,184.17 362.44,184.17 363.01,184.17 363.58,184.18 364.14,184.18 364.71,184.19 365.27,184.19 365.84,184.20 366.41,184.20 366.97,184.20 367.54,184.18 368.11,184.15 368.67,184.09 369.24,183.99 369.80,183.85 370.37,183.66 370.94,183.39 371.50,183.07 372.07,182.67 372.63,182.24 373.20,181.78 373.77,181.34 374.33,180.96 374.90,180.70 375.47,180.59 376.03,180.64 376.60,180.82 377.17,181.13 377.73,181.52 378.30,181.98 378.86,182.47 379.43,182.95 380.00,183.40 380.56,183.81 381.13,184.17 381.69,184.46 382.26,184.71 382.83,184.91 383.39,185.06 383.96,185.19 384.53,185.29 385.09,185.37 385.66,185.43 386.23,185.49 386.79,185.54 387.36,185.58 387.92,185.61 388.49,185.65 389.06,185.68 389.62,185.70 390.19,185.73 390.75,185.75 391.32,185.77 391.89,185.79 392.45,185.80 393.02,185.81 393.59,185.83 394.15,185.84 394.72,185.85 395.29,185.86 395.85,185.86 396.42,185.87 396.98,185.88 397.55,185.88 398.12,185.89 398.68,185.89 399.25,185.89 399.82,185.89 400.38,185.90 400.95,185.90 401.51,185.90 402.08,185.90 402.65,185.90 403.21,185.90 403.78,185.90 404.35,185.90 404.91,185.89 405.48,185.89 406.04,185.89 406.61,185.89 407.18,185.89 407.74,185.89 408.31,185.88 408.88,185.88 409.44,185.88 410.01,185.88 410.57,185.87 411.14,185.87 411.71,185.87 412.27,185.87 412.84,185.86 413.41,185.86 413.97,185.86 414.54,185.85 415.10,185.85 415.67,185.85 416.24,185.84 416.80,185.84 417.37,185.84 417.94,185.83 418.50,185.83 419.07,185.83 419.63,185.82 420.20,185.82" fill="none" stroke="#d08cb0" stroke-width="0.8" stroke-linejoin="round"/>
<polyline points="329.60,186.34 330.17,186.33 330.73,186.31 331.30,186.29 331.87,186.27 332.43,186.25 333.00,186.22 333.56,186.20 334.13,186.17 334.70,186.15 335.26,186.12 335.83,186.09 336.40,186.06 336.96,186.02 337.53,185.99 338.09,185.95 338.66,185.91 339.23,185.87 339.79,185.83 340.36,185.78 340.93,185.74 341.49,185.69 342.06,185.64 342.62,185.59 343.19,185.54 343.76,185.49 344.32,185.43 344.89,185.38 345.46,185.32 346.02,185.26 346.59,185.21 347.15,185.15 347.72,185.09 348.29,185.03 348.85,184.97 349.42,184.92 349.99,184.86 350.55,184.80 351.12,184.75 351.68,184.69 352.25,184.64 352.82,184.59 353.38,184.54 353.95,184.49 354.52,184.44 355.08,184.40 355.65,184.36 356.21,184.32 356.78,184.28 357.35,184.25 357.91,184.22 358.48,184.20 359.05,184.17 359.61,184.15 360.18,184.14 360.74,184.12 361.31,184.11 361.88,184.10 362.44,184.09 363.01,184.09 363.58,184.09 364.14,184.08 364.71,184.08 365.27,184.08 365.84,184.08 366.41,184.08 366.97,184.07 367.54,184.06 368.11,184.03 368.67,183.99 369.24,183.91 369.80,183.78 370.37,183.59 370.94,183.29 371.50,182.87 372.07,182.29 372.63,181.55 373.20,180.64 373.77,179.61 374.33,178.51 374.90,177.46 375.47,176.58 376.03,175.99 376.60,175.79 377.17,175.96 377.73,176.44 378.30,177.18 378.86,178.10 379.43,179.11 380.00,180.14 380.56,181.11 381.13,181.98 381.69,182.72 382.26,183.33 382.83,183.82 383.39,184.19 383.96,184.48 384.53,184.70 385.09,184.86 385.66,185.00 386.23,185.10 386.79,185.19 387.36,185.26 387.92,185.33 388.49,185.38 389.06,185.43 389.62,185.48 390.19,185.52 390.75,185.56 391.32,185.59 391.89,185.62 392.45,185.65 393.02,185.67 393.59,185.69 394.15,185.71 394.72,185.73 395.29,185.74 395.85,185.76 396.42,185.77 396.98,185.78 397.55,185.79 398.12,185.80 398.68,185.81 399.25,185.81 399.82,185.82 400.38,185.82 400.95,185.83 401.51,185.83 402.08,185.84 402.65,185.84 403.21,185.84 403.78,185.84 404.35,185.84 404.91,185.84 405.48,185.85 406.04,185.85 406.61,185.85 407.18,185.85 407.74,185.84 408.31,185.84 408.88,185.84 409.44,185.84 410.01,185.84 410.57,185.84 411.14,185.84 411.71,185.84 412.27,185.83 412.84,185.83 413.41,185.83 413.97,185.83 414.54,185.83 415.10,185.82 415.67,185.82 416.24,185.82 416.80,185.82 417.37,185.81 417.94,185.81 418.50,185.81 419.07,185.81 419.63,185.80 420.20,185.80" fill="none" stroke="#2a9a80" stroke-width="0.8" stroke-linejoin="round"/>
<polyline points="329.60,186.32 330.17,186.30 330.73,186.28 331.30,186.26 331.87,186.24 332.43,186.22 333.00,186.20 333.56,186.17 334.13,186.14 334.70,186.12 335.26,186.09 335.83,186.06 336.40,186.02 336.96,185.99 337.53,185.95 338.09,185.91 338.66,185.87 339.23,185.83 339.79,185.79 340.36,185.74 340.93,185.70 341.49,185.65 342.06,185.60 342.62,185.55 343.19,185.49 343.76,185.44 344.32,185.38 344.89,185.33 345.46,185.27 346.02,185.21 346.59,185.15 347.15,185.09 347.72,185.03 348.29,184.97 348.85,184.91 349.42,184.85 349.99,184.79 350.55,184.73 351.12,184.67 351.68,184.61 352.25,184.56 352.82,184.50 353.38,184.45 353.95,184.40 354.52,184.35 355.08,184.30 355.65,184.25 356.21,184.21 356.78,184.17 357.35,184.13 357.91,184.10 358.48,184.06 359.05,184.03 359.61,184.00 360.18,183.98 360.74,183.95 361.31,183.93 361.88,183.91 362.44,183.89 363.01,183.88 363.58,183.86 364.14,183.84 364.71,183.82 365.27,183.81 365.84,183.78 366.41,183.76 366.97,183.73 367.54,183.69 368.11,183.64 368.67,183.58 369.24,183.50 369.80,183.38 370.37,183.21 370.94,182.96 371.50,182.59 372.07,182.06 372.63,181.31 373.20,180.28 373.77,178.93 374.33,177.24 374.90,175.23 375.47,172.99 376.03,170.69 376.60,168.55 377.17,166.82 377.73,165.78 378.30,165.57 378.86,166.10 379.43,167.23 380.00,168.83 380.56,170.76 381.13,172.82 381.69,174.86 382.26,176.75 382.83,178.42 383.39,179.83 383.96,180.97 384.53,181.87 385.09,182.57 385.66,183.10 386.23,183.50 386.79,183.82 387.36,184.06 387.92,184.26 388.49,184.43 389.06,184.57 389.62,184.69 390.19,184.79 390.75,184.89 391.32,184.97 391.89,185.05 392.45,185.11 393.02,185.17 393.59,185.23 394.15,185.28 394.72,185.32 395.29,185.36 395.85,185.40 396.42,185.43 396.98,185.46 397.55,185.49 398.12,185.52 398.68,185.54 399.25,185.56 399.82,185.58 400.38,185.60 400.95,185.61 401.51,185.62 402.08,185.64 402.65,185.65 403.21,185.66 403.78,185.67 404.35,185.68 404.91,185.69 405.48,185.69 406.04,185.70 406.61,185.70 407.18,185.71 407.74,185.71 408.31,185.72 408.88,185.72 409.44,185.73 410.01,185.73 410.57,185.73 411.14,185.73 411.71,185.73 412.27,185.74 412.84,185.74 413.41,185.74 413.97,185.74 414.54,185.74 415.10,185.74 415.67,185.74 416.24,185.74 416.80,185.74 417.37,185.74 417.94,185.74 418.50,185.74 419.07,185.74 419.63,185.74 420.20,185.74" fill="none" stroke="#2e2e7e" stroke-width="0.8" stroke-linejoin="round"/>
<polyline points="329.60,186.31 330.17,186.29 330.73,186.27 331.30,186.25 331.87,186.23 332.43,186.21 333.00,186.19 333.56,186.16 334.13,186.13 334.70,186.11 335.26,186.08 335.83,186.05 336.40,186.01 336.96,185.98 337.53,185.94 338.09,185.90 338.66,185.86 339.23,185.82 339.79,185.78 340.36,185.73 340.93,185.68 341.49,185.63 342.06,185.58 342.62,185.53 343.19,185.48 343.76,185.42 344.32,185.37 344.89,185.31 345.46,185.25 346.02,185.19 346.59,185.13 347.15,185.07 347.72,185.01 348.29,184.95 348.85,184.89 349.42,184.83 349.99,184.76 350.55,184.70 351.12,184.64 351.68,184.59 352.25,184.53 352.82,184.47 353.38,184.42 353.95,184.36 354.52,184.31 355.08,184.26 355.65,184.22 356.21,184.17 356.78,184.13 357.35,184.09 357.91,184.05 358.48,184.02 359.05,183.98 359.61,183.95 360.18,183.92 360.74,183.90 361.31,183.87 361.88,183.85 362.44,183.82 363.01,183.80 363.58,183.78 364.14,183.76 364.71,183.74 365.27,183.71 365.84,183.68 366.41,183.65 366.97,183.61 367.54,183.56 368.11,183.51 368.67,183.44 369.24,183.35 369.80,183.24 370.37,183.10 370.94,182.90 371.50,182.61 372.07,182.19 372.63,181.56 373.20,180.63 373.77,179.29 374.33,177.45 374.90,175.03 375.47,172.05 376.03,168.65 376.60,165.10 377.17,161.82 377.73,159.29 378.30,157.97 378.86,158.04 379.43,159.20 380.00,161.25 380.56,163.94 381.13,166.96 381.69,170.01 382.26,172.86 382.83,175.35 383.39,177.42 383.96,179.07 384.53,180.33 385.09,181.28 385.66,182.00 386.23,182.53 386.79,182.95 387.36,183.28 387.92,183.54 388.49,183.77 389.06,183.97 389.62,184.14 390.19,184.29 390.75,184.42 391.32,184.54 391.89,184.65 392.45,184.75 393.02,184.83 393.59,184.91 394.15,184.98 394.72,185.05 395.29,185.10 395.85,185.16 396.42,185.20 396.98,185.25 397.55,185.29 398.12,185.32 398.68,185.36 399.25,185.39 399.82,185.41 400.38,185.44 400.95,185.46 401.51,185.48 402.08,185.50 402.65,185.52 403.21,185.54 403.78,185.55 404.35,185.57 404.91,185.58 405.48,185.59 406.04,185.60 406.61,185.61 407.18,185.62 407.74,185.63 408.31,185.63 408.88,185.64 409.44,185.65 410.01,185.65 410.57,185.66 411.14,185.66 411.71,185.67 412.27,185.67 412.84,185.67 413.41,185.68 413.97,185.68 414.54,185.68 415.10,185.68 415.67,185.69 416.24,185.69 416.80,185.69 417.37,185.69 417.94,185.69 418.50,185.69 419.07,185.69 419.63,185.69 420.20,185.69" fill="none" stroke="#5a5ac0" stroke-width="0.8" stroke-linejoin="round"/>
<polyline points="329.60,186.29 330.17,186.27 330.73,186.25 331.30,186.23 331.87,186.21 332.43,186.19 333.00,186.16 333.56,186.14 334.13,186.11 334.70,186.08 335.26,186.05 335.83,186.02 336.40,185.99 336.96,185.95 337.53,185.91 338.09,185.87 338.66,185.83 339.23,185.79 339.79,185.75 340.36,185.70 340.93,185.65 341.49,185.60 342.06,185.55 342.62,185.50 343.19,185.44 343.76,185.39 344.32,185.33 344.89,185.27 345.46,185.21 346.02,185.15 346.59,185.09 347.15,185.03 347.72,184.96 348.29,184.90 348.85,184.84 349.42,184.77 349.99,184.71 350.55,184.65 351.12,184.59 351.68,184.53 352.25,184.47 352.82,184.41 353.38,184.35 353.95,184.30 354.52,184.24 355.08,184.19 355.65,184.14 356.21,184.09 356.78,184.04 357.35,184.00 357.91,183.96 358.48,183.92 359.05,183.88 359.61,183.85 360.18,183.81 360.74,183.78 361.31,183.75 361.88,183.72 362.44,183.69 363.01,183.66 363.58,183.63 364.14,183.60 364.71,183.57 365.27,183.53 365.84,183.50 366.41,183.45 366.97,183.40 367.54,183.34 368.11,183.28 368.67,183.19 369.24,183.10 369.80,182.98 370.37,182.83 370.94,182.65 371.50,182.40 372.07,182.07 372.63,181.61 373.20,180.92 373.77,179.92 374.33,178.46 374.90,176.37 375.47,173.53 376.03,169.85 376.60,165.38 377.17,160.35 377.73,155.20 378.30,150.56 378.86,147.15 379.43,145.58 380.00,145.99 380.56,147.91 381.13,151.07 381.69,155.07 382.26,159.47 382.83,163.85 383.39,167.89 383.96,171.38 384.53,174.25 385.09,176.52 385.66,178.25 386.23,179.54 386.79,180.51 387.36,181.24 387.92,181.80 388.49,182.25 389.06,182.61 389.62,182.92 390.19,183.19 390.75,183.42 391.32,183.63 391.89,183.81 392.45,183.97 393.02,184.12 393.59,184.25 394.15,184.37 394.72,184.48 395.29,184.58 395.85,184.66 396.42,184.74 396.98,184.82 397.55,184.88 398.12,184.94 398.68,185.00 399.25,185.05 399.82,185.10 400.38,185.14 400.95,185.18 401.51,185.21 402.08,185.25 402.65,185.28 403.21,185.30 403.78,185.33 404.35,185.35 404.91,185.38 405.48,185.40 406.04,185.42 406.61,185.43 407.18,185.45 407.74,185.46 408.31,185.48 408.88,185.49 409.44,185.50 410.01,185.51 410.57,185.52 411.14,185.53 411.71,185.54 412.27,185.55 412.84,185.56 413.41,185.57 413.97,185.57 414.54,185.58 415.10,185.58 415.67,185.59 416.24,185.59 416.80,185.60 417.37,185.60 417.94,185.61 418.50,185.61 419.07,185.61 419.63,185.61 420.20,185.62" fill="none" stroke="#8c3ca4" stroke-width="0.8" stroke-linejoin="round"/>
<polyline points="329.60,186.28 330.17,186.26 330.73,186.24 331.30,186.22 331.87,186.20 332.43,186.17 333.00,186.15 333.56,186.12 334.13,186.10 334.70,186.07 335.26,186.04 335.83,186.00 336.40,185.97 336.96,185.93 337.53,185.90 338.09,185.86 338.66,185.81 339.23,185.77 339.79,185.73 340.36,185.68 340.93,185.63 341.49,185.58 342.06,185.53 342.62,185.47 343.19,185.42 343.76,185.36 344.32,185.30 344.89,185.24 345.46,185.18 346.02,185.12 346.59,185.06 347.15,185.00 347.72,184.93 348.29,184.87 348.85,184.81 349.42,184.74 349.99,184.68 350.55,184.61 351.12,184.55 351.68,184.49 352.25,184.43 352.82,184.37 353.38,184.31 353.95,184.25 354.52,184.20 355.08,184.14 355.65,184.09 356.21,184.04 356.78,183.99 357.35,183.95 357.91,183.90 358.48,183.86 359.05,183.82 359.61,183.78 360.18,183.74 360.74,183.71 361.31,183.67 361.88,183.64 362.44,183.60 363.01,183.57 363.58,183.54 364.14,183.50 364.71,183.46 365.27,183.42 365.84,183.38 366.41,183.32 366.97,183.27 367.54,183.20 368.11,183.12 368.67,183.03 369.24,182.92 369.80,182.79 370.37,182.63 370.94,182.44 371.50,182.21 372.07,181.91 372.63,181.51 373.20,180.96 373.77,180.17 374.33,178.99 374.90,177.25 375.47,174.73 376.03,171.23 376.60,166.63 377.17,161.00 377.73,154.69 378.30,148.32 378.86,142.81 379.43,139.09 380.00,137.92 380.56,139.01 381.13,141.80 381.69,145.93 382.26,150.90 382.83,156.18 383.39,161.29 383.96,165.91 384.53,169.83 385.09,173.01 385.66,175.49 386.23,177.37 386.79,178.77 387.36,179.81 387.92,180.61 388.49,181.22 389.06,181.72 389.62,182.13 390.19,182.47 390.75,182.77 391.32,183.04 391.89,183.27 392.45,183.48 393.02,183.67 393.59,183.83 394.15,183.98 394.72,184.12 395.29,184.24 395.85,184.35 396.42,184.45 396.98,184.54 397.55,184.63 398.12,184.70 398.68,184.77 399.25,184.84 399.82,184.89 400.38,184.95 400.95,185.00 401.51,185.04 402.08,185.08 402.65,185.12 403.21,185.16 403.78,185.19 404.35,185.22 404.91,185.25 405.48,185.28 406.04,185.30 406.61,185.32 407.18,185.34 407.74,185.36 408.31,185.38 408.88,185.40 409.44,185.41 410.01,185.43 410.57,185.44 411.14,185.45 411.71,185.47 412.27,185.48 412.84,185.49 413.41,185.50 413.97,185.51 414.54,185.51 415.10,185.52 415.67,185.53 416.24,185.53 416.80,185.54 417.37,185.55 417.94,185.55 418.50,185.56 419.07,185.56 419.63,185.56 420.20,185.57" fill="none" stroke="#a0203e" stroke-width="0.8" stroke-linejoin="round"/>
<polyline points="329.60,186.26 330.17,186.25 330.73,186.23 331.30,186.20 331.87,186.18 332.43,186.16 333.00,186.13 333.56,186.11 334.13,186.08 334.70,186.05 335.26,186.02 335.83,185.99 336.40,185.95 336.96,185.92 337.53,185.88 338.09,185.84 338.66,185.80 339.23,185.75 339.79,185.71 340.36,185.66 340.93,185.61 341.49,185.56 342.06,185.51 342.62,185.45 343.19,185.40 343.76,185.34 344.32,185.28 344.89,185.22 345.46,185.16 346.02,185.10 346.59,185.03 347.15,184.97 347.72,184.91 348.29,184.84 348.85,184.78 349.42,184.71 349.99,184.65 350.55,184.58 351.12,184.52 351.68,184.45 352.25,184.39 352.82,184.33 353.38,184.27 353.95,184.21 354.52,184.15 355.08,184.10 355.65,184.04 356.21,183.99 356.78,183.94 357.35,183.89 357.91,183.85 358.48,183.80 359.05,183.76 359.61,183.72 360.18,183.68 360.74,183.64 361.31,183.60 361.88,183.57 362.44,183.53 363.01,183.49 363.58,183.45 364.14,183.41 364.71,183.37 365.27,183.33 365.84,183.27 366.41,183.22 366.97,183.15 367.54,183.08 368.11,183.00 368.67,182.90 369.24,182.78 369.80,182.65 370.37,182.49 370.94,182.30 371.50,182.07 372.07,181.79 372.63,181.44 373.20,180.99 373.77,180.40 374.33,179.56 374.90,178.32 375.47,176.48 376.03,173.74 376.60,169.81 377.17,164.48 377.73,157.77 378.30,150.07 378.86,142.22 379.43,135.40 380.00,130.91 380.56,129.70 381.13,130.85 381.69,133.59 382.26,137.63 382.83,142.56 383.39,147.95 383.96,153.37 384.53,158.47 385.09,163.03 385.66,166.92 386.23,170.12 386.79,172.67 387.36,174.67 387.92,176.22 388.49,177.43 389.06,178.37 389.62,179.13 390.19,179.75 390.75,180.28 391.32,180.74 391.89,181.13 392.45,181.49 393.02,181.81 393.59,182.09 394.15,182.35 394.72,182.59 395.29,182.81 395.85,183.00 396.42,183.18 396.98,183.34 397.55,183.49 398.12,183.63 398.68,183.76 399.25,183.87 399.82,183.98 400.38,184.08 400.95,184.17 401.51,184.26 402.08,184.34 402.65,184.41 403.21,184.48 403.78,184.54 404.35,184.60 404.91,184.65 405.48,184.70 406.04,184.75 406.61,184.80 407.18,184.84 407.74,184.88 408.31,184.91 408.88,184.95 409.44,184.98 410.01,185.01 410.57,185.04 411.14,185.07 411.71,185.09 412.27,185.11 412.84,185.14 413.41,185.16 413.97,185.18 414.54,185.20 415.10,185.21 415.67,185.23 416.24,185.25 416.80,185.26 417.37,185.27 417.94,185.29 418.50,185.30 419.07,185.31 419.63,185.32 420.20,185.33" fill="none" stroke="#a6a64c" stroke-width="0.8" stroke-linejoin="round"/>
<rect x="329.10" y="126.70" width="91.50" height="68.00" fill="none" stroke="#2a2a2a" stroke-width="0.85"/>
<line x1="327.80" y1="190.10" x2="329.10" y2="190.10" stroke="#222" stroke-width="0.6"/>
<text class="Sb" x="327.0" y="191.85" font-size="4.9" text-anchor="end" fill="#111">20</text>
<line x1="327.80" y1="181.04" x2="329.10" y2="181.04" stroke="#222" stroke-width="0.6"/>
<text class="Sb" x="327.0" y="182.79" font-size="4.9" text-anchor="end" fill="#111">30</text>
<line x1="327.80" y1="171.98" x2="329.10" y2="171.98" stroke="#222" stroke-width="0.6"/>
<text class="Sb" x="327.0" y="173.73" font-size="4.9" text-anchor="end" fill="#111">40</text>
<line x1="327.80" y1="162.92" x2="329.10" y2="162.92" stroke="#222" stroke-width="0.6"/>
<text class="Sb" x="327.0" y="164.67" font-size="4.9" text-anchor="end" fill="#111">50</text>
<line x1="327.80" y1="153.86" x2="329.10" y2="153.86" stroke="#222" stroke-width="0.6"/>
<text class="Sb" x="327.0" y="155.60999999999999" font-size="4.9" text-anchor="end" fill="#111">60</text>
<line x1="327.80" y1="144.80" x2="329.10" y2="144.80" stroke="#222" stroke-width="0.6"/>
<text class="Sb" x="327.0" y="146.54999999999998" font-size="4.9" text-anchor="end" fill="#111">70</text>
<line x1="327.80" y1="135.74" x2="329.10" y2="135.74" stroke="#222" stroke-width="0.6"/>
<text class="Sb" x="327.0" y="137.49" font-size="4.9" text-anchor="end" fill="#111">80</text>
<line x1="327.80" y1="126.68" x2="329.10" y2="126.68" stroke="#222" stroke-width="0.6"/>
<text class="Sb" x="327.0" y="128.43" font-size="4.9" text-anchor="end" fill="#111">90</text>
<line x1="328.30" y1="185.57" x2="329.10" y2="185.57" stroke="#444" stroke-width="0.5"/>
<line x1="328.30" y1="176.51" x2="329.10" y2="176.51" stroke="#444" stroke-width="0.5"/>
<line x1="328.30" y1="167.45" x2="329.10" y2="167.45" stroke="#444" stroke-width="0.5"/>
<line x1="328.30" y1="158.39" x2="329.10" y2="158.39" stroke="#444" stroke-width="0.5"/>
<line x1="328.30" y1="149.33" x2="329.10" y2="149.33" stroke="#444" stroke-width="0.5"/>
<line x1="328.30" y1="140.27" x2="329.10" y2="140.27" stroke="#444" stroke-width="0.5"/>
<line x1="328.30" y1="131.21" x2="329.10" y2="131.21" stroke="#444" stroke-width="0.5"/>
<line x1="329.60" y1="194.70" x2="329.60" y2="196.00" stroke="#222" stroke-width="0.6"/>
<text class="Sb" x="329.6" y="200.85" font-size="4.9" text-anchor="middle" fill="#111">-0.9</text>
<line x1="342.54" y1="194.70" x2="342.54" y2="196.00" stroke="#222" stroke-width="0.6"/>
<text class="Sb" x="342.54285714285714" y="200.85" font-size="4.9" text-anchor="middle" fill="#111">-0.8</text>
<line x1="355.49" y1="194.70" x2="355.49" y2="196.00" stroke="#222" stroke-width="0.6"/>
<text class="Sb" x="355.4857142857143" y="200.85" font-size="4.9" text-anchor="middle" fill="#111">-0.7</text>
<line x1="368.43" y1="194.70" x2="368.43" y2="196.00" stroke="#222" stroke-width="0.6"/>
<text class="Sb" x="368.42857142857144" y="200.85" font-size="4.9" text-anchor="middle" fill="#111">-0.6</text>
<line x1="381.37" y1="194.70" x2="381.37" y2="196.00" stroke="#222" stroke-width="0.6"/>
<text class="Sb" x="381.3714285714286" y="200.85" font-size="4.9" text-anchor="middle" fill="#111">-0.5</text>
<line x1="394.31" y1="194.70" x2="394.31" y2="196.00" stroke="#222" stroke-width="0.6"/>
<text class="Sb" x="394.31428571428575" y="200.85" font-size="4.9" text-anchor="middle" fill="#111">-0.4</text>
<line x1="407.26" y1="194.70" x2="407.26" y2="196.00" stroke="#222" stroke-width="0.6"/>
<text class="Sb" x="407.25714285714287" y="200.85" font-size="4.9" text-anchor="middle" fill="#111">-0.3</text>
<line x1="420.20" y1="194.70" x2="420.20" y2="196.00" stroke="#222" stroke-width="0.6"/>
<text class="Sb" x="420.20000000000005" y="200.85" font-size="4.9" text-anchor="middle" fill="#111">-0.2</text>
<line x1="336.07" y1="194.70" x2="336.07" y2="195.50" stroke="#444" stroke-width="0.5"/>
<line x1="349.01" y1="194.70" x2="349.01" y2="195.50" stroke="#444" stroke-width="0.5"/>
<line x1="361.96" y1="194.70" x2="361.96" y2="195.50" stroke="#444" stroke-width="0.5"/>
<line x1="374.90" y1="194.70" x2="374.90" y2="195.50" stroke="#444" stroke-width="0.5"/>
<line x1="387.84" y1="194.70" x2="387.84" y2="195.50" stroke="#444" stroke-width="0.5"/>
<line x1="400.79" y1="194.70" x2="400.79" y2="195.50" stroke="#444" stroke-width="0.5"/>
<line x1="413.73" y1="194.70" x2="413.73" y2="195.50" stroke="#444" stroke-width="0.5"/>
<text class="Sb" x="375.5" y="210.0" font-size="7.0" text-anchor="middle" fill="#111">Potential (V)</text>
<text class="Sb" x="319.0" y="160.6" font-size="7.0" text-anchor="middle" transform="rotate(-90 319.0 160.6)" fill="#111">Peak current (μA)</text>
<text class="Sb" x="346.0" y="140.8" font-size="4.0" textLength="19.6" lengthAdjust="spacingAndGlyphs" fill="#111">120 μg/L</text>
<line x1="349.20" y1="159.60" x2="349.20" y2="146.00" stroke="#111" stroke-width="0.6"/>
<polygon points="349.20,143.60 350.30,146.00 348.10,146.00" fill="#111" stroke="none" stroke-width="1"/>
<text class="Sb" x="345.6" y="164.8" font-size="4.0" textLength="19.6" lengthAdjust="spacingAndGlyphs" fill="#111">8.5 μg/L</text>
<rect x="443.50" y="38.30" width="91.20" height="66.80" fill="none" stroke="#2a2a2a" stroke-width="0.85"/>
<line x1="442.20" y1="103.30" x2="443.50" y2="103.30" stroke="#222" stroke-width="0.6"/>
<text class="Sb" x="441.3" y="105.05" font-size="4.9" text-anchor="end" fill="#111">0</text>
<line x1="442.20" y1="87.30" x2="443.50" y2="87.30" stroke="#222" stroke-width="0.6"/>
<text class="Sb" x="441.3" y="89.05" font-size="4.9" text-anchor="end" fill="#111">10</text>
<line x1="442.20" y1="71.30" x2="443.50" y2="71.30" stroke="#222" stroke-width="0.6"/>
<text class="Sb" x="441.3" y="73.05" font-size="4.9" text-anchor="end" fill="#111">20</text>
<line x1="442.20" y1="55.30" x2="443.50" y2="55.30" stroke="#222" stroke-width="0.6"/>
<text class="Sb" x="441.3" y="57.05" font-size="4.9" text-anchor="end" fill="#111">30</text>
<line x1="442.20" y1="39.30" x2="443.50" y2="39.30" stroke="#222" stroke-width="0.6"/>
<text class="Sb" x="441.3" y="41.05" font-size="4.9" text-anchor="end" fill="#111">40</text>
<line x1="442.70" y1="95.30" x2="443.50" y2="95.30" stroke="#444" stroke-width="0.5"/>
<line x1="442.70" y1="79.30" x2="443.50" y2="79.30" stroke="#444" stroke-width="0.5"/>
<line x1="442.70" y1="63.30" x2="443.50" y2="63.30" stroke="#444" stroke-width="0.5"/>
<line x1="442.70" y1="47.30" x2="443.50" y2="47.30" stroke="#444" stroke-width="0.5"/>
<line x1="445.50" y1="105.10" x2="445.50" y2="106.40" stroke="#222" stroke-width="0.6"/>
<text class="Sb" x="445.5" y="111.65" font-size="4.9" text-anchor="middle" fill="#111">0</text>
<line x1="462.08" y1="105.10" x2="462.08" y2="106.40" stroke="#222" stroke-width="0.6"/>
<text class="Sb" x="462.08" y="111.65" font-size="4.9" text-anchor="middle" fill="#111">20</text>
<line x1="478.66" y1="105.10" x2="478.66" y2="106.40" stroke="#222" stroke-width="0.6"/>
<text class="Sb" x="478.65999999999997" y="111.65" font-size="4.9" text-anchor="middle" fill="#111">40</text>
<line x1="495.24" y1="105.10" x2="495.24" y2="106.40" stroke="#222" stroke-width="0.6"/>
<text class="Sb" x="495.24" y="111.65" font-size="4.9" text-anchor="middle" fill="#111">60</text>
<line x1="511.82" y1="105.10" x2="511.82" y2="106.40" stroke="#222" stroke-width="0.6"/>
<text class="Sb" x="511.82" y="111.65" font-size="4.9" text-anchor="middle" fill="#111">80</text>
<line x1="528.40" y1="105.10" x2="528.40" y2="106.40" stroke="#222" stroke-width="0.6"/>
<text class="Sb" x="528.4" y="111.65" font-size="4.9" text-anchor="middle" fill="#111">100</text>
<line x1="453.79" y1="105.10" x2="453.79" y2="105.90" stroke="#444" stroke-width="0.5"/>
<line x1="470.37" y1="105.10" x2="470.37" y2="105.90" stroke="#444" stroke-width="0.5"/>
<line x1="486.95" y1="105.10" x2="486.95" y2="105.90" stroke="#444" stroke-width="0.5"/>
<line x1="503.53" y1="105.10" x2="503.53" y2="105.90" stroke="#444" stroke-width="0.5"/>
<line x1="520.11" y1="105.10" x2="520.11" y2="105.90" stroke="#444" stroke-width="0.5"/>
<line x1="448.82" y1="103.30" x2="528.40" y2="45.22" stroke="#333" stroke-width="0.8" stroke-dasharray="2.6 1.8"/>
<line x1="449.64" y1="100.50" x2="449.64" y2="104.50" stroke="#d83030" stroke-width="0.6"/>
<line x1="448.75" y1="100.50" x2="450.54" y2="100.50" stroke="#d83030" stroke-width="0.5"/>
<line x1="448.75" y1="104.50" x2="450.54" y2="104.50" stroke="#d83030" stroke-width="0.5"/>
<ellipse cx="449.64" cy="102.50" rx="0.90" ry="0.90" fill="#d83030" stroke="none" stroke-width="1"/>
<line x1="453.79" y1="96.50" x2="453.79" y2="100.50" stroke="#d83030" stroke-width="0.6"/>
<line x1="452.89" y1="96.50" x2="454.69" y2="96.50" stroke="#d83030" stroke-width="0.5"/>
<line x1="452.89" y1="100.50" x2="454.69" y2="100.50" stroke="#d83030" stroke-width="0.5"/>
<ellipse cx="453.79" cy="98.50" rx="0.90" ry="0.90" fill="#d83030" stroke="none" stroke-width="1"/>
<line x1="462.08" y1="88.50" x2="462.08" y2="92.50" stroke="#d83030" stroke-width="0.6"/>
<line x1="461.18" y1="88.50" x2="462.98" y2="88.50" stroke="#d83030" stroke-width="0.5"/>
<line x1="461.18" y1="92.50" x2="462.98" y2="92.50" stroke="#d83030" stroke-width="0.5"/>
<ellipse cx="462.08" cy="90.50" rx="0.90" ry="0.90" fill="#d83030" stroke="none" stroke-width="1"/>
<line x1="478.66" y1="77.94" x2="478.66" y2="81.94" stroke="#d83030" stroke-width="0.6"/>
<line x1="477.76" y1="77.94" x2="479.56" y2="77.94" stroke="#d83030" stroke-width="0.5"/>
<line x1="477.76" y1="81.94" x2="479.56" y2="81.94" stroke="#d83030" stroke-width="0.5"/>
<ellipse cx="478.66" cy="79.94" rx="0.90" ry="0.90" fill="#d83030" stroke="none" stroke-width="1"/>
<line x1="495.24" y1="67.70" x2="495.24" y2="71.70" stroke="#d83030" stroke-width="0.6"/>
<line x1="494.34" y1="67.70" x2="496.14" y2="67.70" stroke="#d83030" stroke-width="0.5"/>
<line x1="494.34" y1="71.70" x2="496.14" y2="71.70" stroke="#d83030" stroke-width="0.5"/>
<ellipse cx="495.24" cy="69.70" rx="0.90" ry="0.90" fill="#d83030" stroke="none" stroke-width="1"/>
<line x1="511.82" y1="58.74" x2="511.82" y2="62.74" stroke="#d83030" stroke-width="0.6"/>
<line x1="510.92" y1="58.74" x2="512.72" y2="58.74" stroke="#d83030" stroke-width="0.5"/>
<line x1="510.92" y1="62.74" x2="512.72" y2="62.74" stroke="#d83030" stroke-width="0.5"/>
<ellipse cx="511.82" cy="60.74" rx="0.90" ry="0.90" fill="#d83030" stroke="none" stroke-width="1"/>
<line x1="528.40" y1="42.10" x2="528.40" y2="46.10" stroke="#d83030" stroke-width="0.6"/>
<line x1="527.50" y1="42.10" x2="529.30" y2="42.10" stroke="#d83030" stroke-width="0.5"/>
<line x1="527.50" y1="46.10" x2="529.30" y2="46.10" stroke="#d83030" stroke-width="0.5"/>
<ellipse cx="528.40" cy="44.10" rx="0.90" ry="0.90" fill="#d83030" stroke="none" stroke-width="1"/>
<text class="Sb" x="489.2" y="120.3" font-size="7.0" text-anchor="middle" textLength="77.4" lengthAdjust="spacingAndGlyphs" fill="#111">Pb concentration (ppb)</text>
<text class="Sb" x="432.2" y="70.4" font-size="7.0" text-anchor="middle" transform="rotate(-90 432.2 70.4)" fill="#111">Peak current (μA)</text>
<rect x="443.30" y="126.60" width="92.10" height="67.80" fill="none" stroke="#2a2a2a" stroke-width="0.85"/>
<line x1="442.00" y1="190.30" x2="443.30" y2="190.30" stroke="#222" stroke-width="0.6"/>
<text class="Sb" x="441.0" y="192.05" font-size="4.9" text-anchor="end" fill="#111">0</text>
<line x1="442.00" y1="181.26" x2="443.30" y2="181.26" stroke="#222" stroke-width="0.6"/>
<text class="Sb" x="441.0" y="183.01000000000002" font-size="4.9" text-anchor="end" fill="#111">10</text>
<line x1="442.00" y1="172.22" x2="443.30" y2="172.22" stroke="#222" stroke-width="0.6"/>
<text class="Sb" x="441.0" y="173.97" font-size="4.9" text-anchor="end" fill="#111">20</text>
<line x1="442.00" y1="163.18" x2="443.30" y2="163.18" stroke="#222" stroke-width="0.6"/>
<text class="Sb" x="441.0" y="164.93" font-size="4.9" text-anchor="end" fill="#111">30</text>
<line x1="442.00" y1="154.14" x2="443.30" y2="154.14" stroke="#222" stroke-width="0.6"/>
<text class="Sb" x="441.0" y="155.89000000000001" font-size="4.9" text-anchor="end" fill="#111">40</text>
<line x1="442.00" y1="145.10" x2="443.30" y2="145.10" stroke="#222" stroke-width="0.6"/>
<text class="Sb" x="441.0" y="146.85000000000002" font-size="4.9" text-anchor="end" fill="#111">50</text>
<line x1="442.00" y1="136.06" x2="443.30" y2="136.06" stroke="#222" stroke-width="0.6"/>
<text class="Sb" x="441.0" y="137.81" font-size="4.9" text-anchor="end" fill="#111">60</text>
<line x1="442.00" y1="127.02" x2="443.30" y2="127.02" stroke="#222" stroke-width="0.6"/>
<text class="Sb" x="441.0" y="128.77" font-size="4.9" text-anchor="end" fill="#111">70</text>
<line x1="442.50" y1="185.78" x2="443.30" y2="185.78" stroke="#444" stroke-width="0.5"/>
<line x1="442.50" y1="176.74" x2="443.30" y2="176.74" stroke="#444" stroke-width="0.5"/>
<line x1="442.50" y1="167.70" x2="443.30" y2="167.70" stroke="#444" stroke-width="0.5"/>
<line x1="442.50" y1="158.66" x2="443.30" y2="158.66" stroke="#444" stroke-width="0.5"/>
<line x1="442.50" y1="149.62" x2="443.30" y2="149.62" stroke="#444" stroke-width="0.5"/>
<line x1="442.50" y1="140.58" x2="443.30" y2="140.58" stroke="#444" stroke-width="0.5"/>
<line x1="442.50" y1="131.54" x2="443.30" y2="131.54" stroke="#444" stroke-width="0.5"/>
<line x1="449.20" y1="194.40" x2="449.20" y2="195.70" stroke="#222" stroke-width="0.6"/>
<text class="Sb" x="449.2" y="200.95" font-size="4.9" text-anchor="middle" fill="#111">0</text>
<line x1="462.47" y1="194.40" x2="462.47" y2="195.70" stroke="#222" stroke-width="0.6"/>
<text class="Sb" x="462.466" y="200.95" font-size="4.9" text-anchor="middle" fill="#111">20</text>
<line x1="475.73" y1="194.40" x2="475.73" y2="195.70" stroke="#222" stroke-width="0.6"/>
<text class="Sb" x="475.73199999999997" y="200.95" font-size="4.9" text-anchor="middle" fill="#111">40</text>
<line x1="489.00" y1="194.40" x2="489.00" y2="195.70" stroke="#222" stroke-width="0.6"/>
<text class="Sb" x="488.998" y="200.95" font-size="4.9" text-anchor="middle" fill="#111">60</text>
<line x1="502.26" y1="194.40" x2="502.26" y2="195.70" stroke="#222" stroke-width="0.6"/>
<text class="Sb" x="502.264" y="200.95" font-size="4.9" text-anchor="middle" fill="#111">80</text>
<line x1="515.53" y1="194.40" x2="515.53" y2="195.70" stroke="#222" stroke-width="0.6"/>
<text class="Sb" x="515.53" y="200.95" font-size="4.9" text-anchor="middle" fill="#111">100</text>
<line x1="528.80" y1="194.40" x2="528.80" y2="195.70" stroke="#222" stroke-width="0.6"/>
<text class="Sb" x="528.796" y="200.95" font-size="4.9" text-anchor="middle" fill="#111">120</text>
<line x1="455.83" y1="194.40" x2="455.83" y2="195.20" stroke="#444" stroke-width="0.5"/>
<line x1="469.10" y1="194.40" x2="469.10" y2="195.20" stroke="#444" stroke-width="0.5"/>
<line x1="482.37" y1="194.40" x2="482.37" y2="195.20" stroke="#444" stroke-width="0.5"/>
<line x1="495.63" y1="194.40" x2="495.63" y2="195.20" stroke="#444" stroke-width="0.5"/>
<line x1="508.90" y1="194.40" x2="508.90" y2="195.20" stroke="#444" stroke-width="0.5"/>
<line x1="522.16" y1="194.40" x2="522.16" y2="195.20" stroke="#444" stroke-width="0.5"/>
<line x1="449.20" y1="190.03" x2="529.46" y2="133.80" stroke="#333" stroke-width="0.8" stroke-dasharray="2.6 1.8"/>
<line x1="449.20" y1="188.25" x2="449.20" y2="191.45" stroke="#d83030" stroke-width="0.6"/>
<ellipse cx="449.20" cy="189.85" rx="0.90" ry="0.90" fill="#d83030" stroke="none" stroke-width="1"/>
<line x1="450.53" y1="187.62" x2="450.53" y2="190.82" stroke="#d83030" stroke-width="0.6"/>
<ellipse cx="450.53" cy="189.22" rx="0.90" ry="0.90" fill="#d83030" stroke="none" stroke-width="1"/>
<line x1="452.52" y1="186.71" x2="452.52" y2="189.91" stroke="#d83030" stroke-width="0.6"/>
<ellipse cx="452.52" cy="188.31" rx="0.90" ry="0.90" fill="#d83030" stroke="none" stroke-width="1"/>
<line x1="455.83" y1="184.54" x2="455.83" y2="187.74" stroke="#d83030" stroke-width="0.6"/>
<ellipse cx="455.83" cy="186.14" rx="0.90" ry="0.90" fill="#d83030" stroke="none" stroke-width="1"/>
<line x1="462.47" y1="179.66" x2="462.47" y2="182.86" stroke="#d83030" stroke-width="0.6"/>
<ellipse cx="462.47" cy="181.26" rx="0.90" ry="0.90" fill="#d83030" stroke="none" stroke-width="1"/>
<line x1="475.73" y1="170.35" x2="475.73" y2="173.55" stroke="#d83030" stroke-width="0.6"/>
<ellipse cx="475.73" cy="171.95" rx="0.90" ry="0.90" fill="#d83030" stroke="none" stroke-width="1"/>
<line x1="489.00" y1="161.04" x2="489.00" y2="164.24" stroke="#d83030" stroke-width="0.6"/>
<ellipse cx="489.00" cy="162.64" rx="0.90" ry="0.90" fill="#d83030" stroke="none" stroke-width="1"/>
<line x1="502.26" y1="150.28" x2="502.26" y2="153.48" stroke="#d83030" stroke-width="0.6"/>
<ellipse cx="502.26" cy="151.88" rx="0.90" ry="0.90" fill="#d83030" stroke="none" stroke-width="1"/>
<line x1="515.53" y1="142.42" x2="515.53" y2="145.62" stroke="#d83030" stroke-width="0.6"/>
<ellipse cx="515.53" cy="144.02" rx="0.90" ry="0.90" fill="#d83030" stroke="none" stroke-width="1"/>
<line x1="528.80" y1="133.01" x2="528.80" y2="136.21" stroke="#d83030" stroke-width="0.6"/>
<ellipse cx="528.80" cy="134.61" rx="0.90" ry="0.90" fill="#d83030" stroke="none" stroke-width="1"/>
<text class="Sb" x="489.2" y="209.2" font-size="7.0" text-anchor="middle" textLength="77.4" lengthAdjust="spacingAndGlyphs" fill="#111">Pb concentration (ppb)</text>
<text class="Sb" x="432.2" y="160.5" font-size="7.0" text-anchor="middle" transform="rotate(-90 432.2 160.5)" fill="#111">Peak current (μA)</text>
<ellipse cx="66.70" cy="242.70" rx="1.65" ry="1.35" fill="#111" stroke="none" stroke-width="1"/>
<ellipse cx="71.60" cy="241.60" rx="1.65" ry="1.35" fill="#111" stroke="none" stroke-width="1"/>
<ellipse cx="76.50" cy="240.60" rx="1.65" ry="1.35" fill="#111" stroke="none" stroke-width="1"/>
<ellipse cx="81.20" cy="243.30" rx="1.65" ry="1.35" fill="#111" stroke="none" stroke-width="1"/>
<ellipse cx="86.00" cy="244.00" rx="1.65" ry="1.35" fill="#111" stroke="none" stroke-width="1"/>
<ellipse cx="66.40" cy="247.80" rx="1.65" ry="1.35" fill="#111" stroke="none" stroke-width="1"/>
<ellipse cx="71.80" cy="246.20" rx="1.65" ry="1.35" fill="#111" stroke="none" stroke-width="1"/>
<ellipse cx="78.10" cy="246.30" rx="1.65" ry="1.35" fill="#111" stroke="none" stroke-width="1"/>
<ellipse cx="83.60" cy="247.10" rx="1.65" ry="1.35" fill="#111" stroke="none" stroke-width="1"/>
<ellipse cx="88.60" cy="247.60" rx="1.65" ry="1.35" fill="#111" stroke="none" stroke-width="1"/>
<ellipse cx="69.40" cy="251.30" rx="1.65" ry="1.35" fill="#111" stroke="none" stroke-width="1"/>
<ellipse cx="74.50" cy="249.90" rx="1.65" ry="1.35" fill="#111" stroke="none" stroke-width="1"/>
<ellipse cx="81.30" cy="250.10" rx="1.65" ry="1.35" fill="#111" stroke="none" stroke-width="1"/>
<ellipse cx="85.80" cy="251.40" rx="1.65" ry="1.35" fill="#111" stroke="none" stroke-width="1"/>
<ellipse cx="77.50" cy="253.30" rx="1.65" ry="1.35" fill="#111" stroke="none" stroke-width="1"/>
<text class="Sb" x="53.8" y="249.0" font-size="5.0" text-anchor="middle" textLength="9.5" lengthAdjust="spacingAndGlyphs" fill="#1a1a1a">nBC</text>
<text class="Sb" x="77.3" y="263.6" font-size="7.0" text-anchor="middle" fill="#222">+</text>
<text class="Sb" x="43.0" y="270.2" font-size="5.0" textLength="25.7" lengthAdjust="spacingAndGlyphs" fill="#1a1a1a">Anti-MCLR</text>
<path d="M72.60,268.00 L76.60,272.30 L80.60,268.00 M76.60,272.30 L76.60,276.60" stroke="#2d3592" stroke-width="2.0" fill="none" stroke-linecap="round" stroke-linejoin="round"/>
<text class="Sb" x="111.2" y="253.2" font-size="5.0" text-anchor="middle" textLength="34.3" lengthAdjust="spacingAndGlyphs" fill="#1a1a1a">Paper dipping</text>
<line x1="93.60" y1="257.70" x2="122.00" y2="257.70" stroke="#1f3a78" stroke-width="1.9"/>
<polygon points="126.80,257.70 121.60,260.30 121.60,255.10" fill="#1f3a78" stroke="none" stroke-width="1"/>
<text class="Sb" x="110.2" y="265.0" font-size="5.0" text-anchor="middle" textLength="27.7" lengthAdjust="spacingAndGlyphs" fill="#1a1a1a">4°C  10 min</text>
<rect x="132.20" y="253.80" width="43.50" height="32.40" fill="#fbf1c4" stroke="none" stroke-width="1"/>
<path d="M137.6,233.0 Q136.4,233.2 136.6,234.5 L146.0,280.6 Q146.3,281.6 147.4,281.5 L158.8,280.6 Q159.9,280.4 159.7,279.3 L150.6,233.6 Q150.3,232.4 149.2,232.5 Z" stroke="#7a7a7a" stroke-width="0.7" fill="#fbfbf6"/>
<rect x="132.20" y="242.20" width="43.50" height="44.00" fill="none" stroke="#8b6a2c" stroke-width="1.3"/>
<text class="Sb" x="163.6" y="238.0" font-size="4.6" text-anchor="middle" textLength="24.5" lengthAdjust="spacingAndGlyphs" fill="#1a1a1a">Filter paper</text>
<ellipse cx="136.60" cy="260.00" rx="1.60" ry="1.45" fill="#111" stroke="none" stroke-width="1"/>
<ellipse cx="144.50" cy="259.60" rx="1.60" ry="1.45" fill="#111" stroke="none" stroke-width="1"/>
<ellipse cx="151.40" cy="259.60" rx="1.60" ry="1.45" fill="#111" stroke="none" stroke-width="1"/>
<ellipse cx="159.40" cy="260.40" rx="1.60" ry="1.45" fill="#111" stroke="none" stroke-width="1"/>
<ellipse cx="167.90" cy="259.30" rx="1.60" ry="1.45" fill="#111" stroke="none" stroke-width="1"/>
<ellipse cx="147.90" cy="266.20" rx="1.60" ry="1.45" fill="#111" stroke="none" stroke-width="1"/>
<ellipse cx="154.10" cy="266.20" rx="1.60" ry="1.45" fill="#111" stroke="none" stroke-width="1"/>
<ellipse cx="160.30" cy="265.90" rx="1.60" ry="1.45" fill="#111" stroke="none" stroke-width="1"/>
<ellipse cx="169.30" cy="265.50" rx="1.60" ry="1.45" fill="#111" stroke="none" stroke-width="1"/>
<ellipse cx="136.60" cy="269.70" rx="1.60" ry="1.45" fill="#111" stroke="none" stroke-width="1"/>
<ellipse cx="147.90" cy="271.70" rx="1.60" ry="1.45" fill="#111" stroke="none" stroke-width="1"/>
<ellipse cx="154.10" cy="271.40" rx="1.60" ry="1.45" fill="#111" stroke="none" stroke-width="1"/>
<ellipse cx="160.60" cy="271.70" rx="1.60" ry="1.45" fill="#111" stroke="none" stroke-width="1"/>
<ellipse cx="171.40" cy="272.40" rx="1.60" ry="1.45" fill="#111" stroke="none" stroke-width="1"/>
<ellipse cx="154.10" cy="276.60" rx="1.60" ry="1.45" fill="#111" stroke="none" stroke-width="1"/>
<ellipse cx="136.20" cy="280.00" rx="1.60" ry="1.45" fill="#111" stroke="none" stroke-width="1"/>
<ellipse cx="142.40" cy="280.00" rx="1.60" ry="1.45" fill="#111" stroke="none" stroke-width="1"/>
<ellipse cx="146.30" cy="281.10" rx="1.60" ry="1.45" fill="#111" stroke="none" stroke-width="1"/>
<ellipse cx="155.50" cy="281.40" rx="1.60" ry="1.45" fill="#111" stroke="none" stroke-width="1"/>
<ellipse cx="162.70" cy="281.10" rx="1.60" ry="1.45" fill="#111" stroke="none" stroke-width="1"/>
<ellipse cx="169.30" cy="280.30" rx="1.60" ry="1.45" fill="#111" stroke="none" stroke-width="1"/>
<path d="M137.80,267.00 L142.10,271.80 L146.40,267.00 M142.10,271.80 L142.10,276.60" stroke="#3438a4" stroke-width="1.8" fill="none" stroke-linecap="round" stroke-linejoin="round"/>
<path d="M159.50,267.40 L163.80,272.00 L168.10,267.40 M163.80,272.00 L163.80,276.60" stroke="#3438a4" stroke-width="1.8" fill="none" stroke-linecap="round" stroke-linejoin="round"/>
<text class="Sb" x="197.2" y="252.2" font-size="5.0" text-anchor="middle" textLength="15.9" lengthAdjust="spacingAndGlyphs" fill="#1a1a1a">Drying</text>
<line x1="180.00" y1="255.60" x2="212.00" y2="255.60" stroke="#1f3a78" stroke-width="1.9"/>
<polygon points="216.20,255.60 211.00,258.20 211.00,253.00" fill="#1f3a78" stroke="none" stroke-width="1"/>
<line x1="184.00" y1="260.00" x2="216.00" y2="260.00" stroke="#1f3a78" stroke-width="1.9"/>
<polygon points="179.80,260.00 185.00,257.40 185.00,262.60" fill="#1f3a78" stroke="none" stroke-width="1"/>
<text class="Sb" x="199.8" y="267.2" font-size="5.0" text-anchor="middle" textLength="22.5" lengthAdjust="spacingAndGlyphs" fill="#1a1a1a">Repeated</text>
<text class="Sb" x="199.6" y="273.3" font-size="5.0" text-anchor="middle" textLength="36.1" lengthAdjust="spacingAndGlyphs" fill="#1a1a1a">dipping-drying</text>
<polygon points="218.80,256.20 230.00,250.80 264.50,250.60 275.00,262.00 229.00,266.20" fill="#15110e" stroke="none" stroke-width="1"/>
<polygon points="222.50,256.00 231.50,252.00 263.00,252.00 270.50,261.00 230.00,263.80" fill="#2c1c12" stroke="none" stroke-width="1"/>
<path d="M218.80,246.00 L222.50,250.75 L226.20,246.00 M222.50,250.75 L222.50,255.50" stroke="#3a40c4" stroke-width="2.0" fill="none" stroke-linecap="round" stroke-linejoin="round"/>
<path d="M226.30,245.60 L230.00,250.35 L233.70,245.60 M230.00,250.35 L230.00,255.10" stroke="#3a40c4" stroke-width="2.0" fill="none" stroke-linecap="round" stroke-linejoin="round"/>
<path d="M233.80,245.40 L237.50,250.15 L241.20,245.40 M237.50,250.15 L237.50,254.90" stroke="#3a40c4" stroke-width="2.0" fill="none" stroke-linecap="round" stroke-linejoin="round"/>
<path d="M241.30,245.20 L245.00,249.95 L248.70,245.20 M245.00,249.95 L245.00,254.70" stroke="#3a40c4" stroke-width="2.0" fill="none" stroke-linecap="round" stroke-linejoin="round"/>
<path d="M248.80,245.40 L252.50,250.15 L256.20,245.40 M252.50,250.15 L252.50,254.90" stroke="#3a40c4" stroke-width="2.0" fill="none" stroke-linecap="round" stroke-linejoin="round"/>
<path d="M255.80,246.00 L259.50,250.75 L263.20,246.00 M259.50,250.75 L259.50,255.50" stroke="#3a40c4" stroke-width="2.0" fill="none" stroke-linecap="round" stroke-linejoin="round"/>
<path d="M223.30,251.00 L227.00,255.75 L230.70,251.00 M227.00,255.75 L227.00,260.50" stroke="#3a40c4" stroke-width="2.0" fill="none" stroke-linecap="round" stroke-linejoin="round"/>
<path d="M230.80,251.50 L234.50,256.25 L238.20,251.50 M234.50,256.25 L234.50,261.00" stroke="#3a40c4" stroke-width="2.0" fill="none" stroke-linecap="round" stroke-linejoin="round"/>
<path d="M238.30,251.00 L242.00,255.75 L245.70,251.00 M242.00,255.75 L242.00,260.50" stroke="#3a40c4" stroke-width="2.0" fill="none" stroke-linecap="round" stroke-linejoin="round"/>
<path d="M245.80,251.50 L249.50,256.25 L253.20,251.50 M249.50,256.25 L249.50,261.00" stroke="#3a40c4" stroke-width="2.0" fill="none" stroke-linecap="round" stroke-linejoin="round"/>
<path d="M253.30,251.20 L257.00,255.95 L260.70,251.20 M257.00,255.95 L257.00,260.70" stroke="#3a40c4" stroke-width="2.0" fill="none" stroke-linecap="round" stroke-linejoin="round"/>
<path d="M260.80,251.60 L264.50,256.35 L268.20,251.60 M264.50,256.35 L264.50,261.10" stroke="#3a40c4" stroke-width="2.0" fill="none" stroke-linecap="round" stroke-linejoin="round"/>
<text class="Sb" x="249.3" y="272.2" font-size="5.0" text-anchor="middle" textLength="45.9" lengthAdjust="spacingAndGlyphs" fill="#1a1a1a">nBC and anti-MCLR</text>
<text class="Sb" x="249.3" y="278.2" font-size="5.0" text-anchor="middle" textLength="30.5" lengthAdjust="spacingAndGlyphs" fill="#1a1a1a">coated paper</text>
<line x1="252.20" y1="286.00" x2="252.20" y2="311.00" stroke="#1f3a78" stroke-width="1.9"/>
<polygon points="252.20,315.30 249.60,310.10 254.80,310.10" fill="#1f3a78" stroke="none" stroke-width="1"/>
<text class="Sb" x="240.0" y="300.6" font-size="5.0" text-anchor="middle" textLength="20.6" lengthAdjust="spacingAndGlyphs" fill="#1a1a1a">Blocking</text>
<text class="Sb" x="260.2" y="301.2" font-size="5.0" text-anchor="middle" textLength="10.6" lengthAdjust="spacingAndGlyphs" fill="#1a1a1a">BSA</text>
<polygon points="258.90,287.40 259.68,289.72 262.00,290.50 259.68,291.28 258.90,293.60 258.12,291.28 255.80,290.50 258.12,289.72" fill="#f0b429" stroke="none" stroke-width="1"/>
<polygon points="213.80,330.30 226.00,324.50 266.00,324.00 276.40,339.60 224.60,341.80" fill="#111014" stroke="none" stroke-width="1"/>
<ellipse cx="232.55" cy="334.29" rx="0.90" ry="0.65" fill="#e0b028" stroke="none" stroke-width="1"/>
<ellipse cx="239.65" cy="334.88" rx="0.90" ry="0.65" fill="#e0b028" stroke="none" stroke-width="1"/>
<ellipse cx="250.80" cy="328.16" rx="0.90" ry="0.65" fill="#e0b028" stroke="none" stroke-width="1"/>
<ellipse cx="222.03" cy="338.04" rx="0.90" ry="0.65" fill="#e0b028" stroke="none" stroke-width="1"/>
<ellipse cx="232.42" cy="330.55" rx="0.90" ry="0.65" fill="#e0b028" stroke="none" stroke-width="1"/>
<ellipse cx="271.65" cy="332.65" rx="0.90" ry="0.65" fill="#e0b028" stroke="none" stroke-width="1"/>
<ellipse cx="263.40" cy="332.88" rx="0.90" ry="0.65" fill="#e0b028" stroke="none" stroke-width="1"/>
<ellipse cx="251.83" cy="329.17" rx="0.90" ry="0.65" fill="#e0b028" stroke="none" stroke-width="1"/>
<ellipse cx="254.48" cy="337.78" rx="0.90" ry="0.65" fill="#e0b028" stroke="none" stroke-width="1"/>
<ellipse cx="248.17" cy="336.37" rx="0.90" ry="0.65" fill="#e0b028" stroke="none" stroke-width="1"/>
<ellipse cx="253.17" cy="328.10" rx="0.90" ry="0.65" fill="#e0b028" stroke="none" stroke-width="1"/>
<ellipse cx="259.79" cy="334.33" rx="0.90" ry="0.65" fill="#e0b028" stroke="none" stroke-width="1"/>
<ellipse cx="233.79" cy="328.07" rx="0.90" ry="0.65" fill="#e0b028" stroke="none" stroke-width="1"/>
<ellipse cx="264.90" cy="332.81" rx="0.90" ry="0.65" fill="#e0b028" stroke="none" stroke-width="1"/>
<ellipse cx="258.89" cy="337.83" rx="0.90" ry="0.65" fill="#e0b028" stroke="none" stroke-width="1"/>
<ellipse cx="258.82" cy="338.34" rx="0.90" ry="0.65" fill="#e0b028" stroke="none" stroke-width="1"/>
<ellipse cx="241.74" cy="337.22" rx="0.90" ry="0.65" fill="#e0b028" stroke="none" stroke-width="1"/>
<ellipse cx="244.86" cy="338.78" rx="0.90" ry="0.65" fill="#e0b028" stroke="none" stroke-width="1"/>
<ellipse cx="264.09" cy="328.29" rx="0.90" ry="0.65" fill="#e0b028" stroke="none" stroke-width="1"/>
<ellipse cx="225.94" cy="330.47" rx="0.90" ry="0.65" fill="#e0b028" stroke="none" stroke-width="1"/>
<ellipse cx="269.95" cy="332.27" rx="0.90" ry="0.65" fill="#e0b028" stroke="none" stroke-width="1"/>
<ellipse cx="251.79" cy="330.99" rx="0.90" ry="0.65" fill="#e0b028" stroke="none" stroke-width="1"/>
<ellipse cx="245.92" cy="332.12" rx="0.90" ry="0.65" fill="#e0b028" stroke="none" stroke-width="1"/>
<ellipse cx="238.59" cy="334.67" rx="0.90" ry="0.65" fill="#e0b028" stroke="none" stroke-width="1"/>
<ellipse cx="252.00" cy="338.27" rx="0.90" ry="0.65" fill="#e0b028" stroke="none" stroke-width="1"/>
<ellipse cx="257.18" cy="338.47" rx="0.90" ry="0.65" fill="#e0b028" stroke="none" stroke-width="1"/>
<ellipse cx="266.50" cy="339.04" rx="0.90" ry="0.65" fill="#e0b028" stroke="none" stroke-width="1"/>
<ellipse cx="253.56" cy="329.29" rx="0.90" ry="0.65" fill="#e0b028" stroke="none" stroke-width="1"/>
<ellipse cx="266.61" cy="338.71" rx="0.90" ry="0.65" fill="#e0b028" stroke="none" stroke-width="1"/>
<ellipse cx="267.32" cy="333.92" rx="0.90" ry="0.65" fill="#e0b028" stroke="none" stroke-width="1"/>
<ellipse cx="255.96" cy="329.82" rx="0.90" ry="0.65" fill="#e0b028" stroke="none" stroke-width="1"/>
<ellipse cx="263.54" cy="334.05" rx="0.90" ry="0.65" fill="#e0b028" stroke="none" stroke-width="1"/>
<ellipse cx="233.07" cy="328.48" rx="0.90" ry="0.65" fill="#e0b028" stroke="none" stroke-width="1"/>
<ellipse cx="266.36" cy="339.02" rx="0.90" ry="0.65" fill="#e0b028" stroke="none" stroke-width="1"/>
<ellipse cx="225.81" cy="337.52" rx="0.90" ry="0.65" fill="#e0b028" stroke="none" stroke-width="1"/>
<ellipse cx="239.95" cy="329.40" rx="0.90" ry="0.65" fill="#e0b028" stroke="none" stroke-width="1"/>
<ellipse cx="236.36" cy="336.93" rx="0.90" ry="0.65" fill="#e0b028" stroke="none" stroke-width="1"/>
<ellipse cx="263.56" cy="327.66" rx="0.90" ry="0.65" fill="#e0b028" stroke="none" stroke-width="1"/>
<ellipse cx="250.14" cy="327.92" rx="0.90" ry="0.65" fill="#e0b028" stroke="none" stroke-width="1"/>
<ellipse cx="256.68" cy="331.25" rx="0.90" ry="0.65" fill="#e0b028" stroke="none" stroke-width="1"/>
<ellipse cx="267.73" cy="338.89" rx="0.90" ry="0.65" fill="#e0b028" stroke="none" stroke-width="1"/>
<ellipse cx="248.28" cy="339.48" rx="0.90" ry="0.65" fill="#e0b028" stroke="none" stroke-width="1"/>
<ellipse cx="234.41" cy="328.61" rx="0.90" ry="0.65" fill="#e0b028" stroke="none" stroke-width="1"/>
<ellipse cx="249.31" cy="327.78" rx="0.90" ry="0.65" fill="#e0b028" stroke="none" stroke-width="1"/>
<ellipse cx="229.90" cy="332.70" rx="0.90" ry="0.65" fill="#e0b028" stroke="none" stroke-width="1"/>
<ellipse cx="250.37" cy="329.26" rx="0.90" ry="0.65" fill="#e0b028" stroke="none" stroke-width="1"/>
<ellipse cx="223.68" cy="338.37" rx="0.90" ry="0.65" fill="#e0b028" stroke="none" stroke-width="1"/>
<ellipse cx="238.15" cy="339.19" rx="0.90" ry="0.65" fill="#e0b028" stroke="none" stroke-width="1"/>
<ellipse cx="266.14" cy="331.64" rx="0.90" ry="0.65" fill="#e0b028" stroke="none" stroke-width="1"/>
<ellipse cx="244.02" cy="333.78" rx="0.90" ry="0.65" fill="#e0b028" stroke="none" stroke-width="1"/>
<ellipse cx="253.86" cy="334.50" rx="0.90" ry="0.65" fill="#e0b028" stroke="none" stroke-width="1"/>
<ellipse cx="249.56" cy="334.88" rx="0.90" ry="0.65" fill="#e0b028" stroke="none" stroke-width="1"/>
<ellipse cx="268.94" cy="333.14" rx="0.90" ry="0.65" fill="#e0b028" stroke="none" stroke-width="1"/>
<ellipse cx="243.30" cy="336.21" rx="0.90" ry="0.65" fill="#e0b028" stroke="none" stroke-width="1"/>
<ellipse cx="231.56" cy="331.38" rx="0.90" ry="0.65" fill="#e0b028" stroke="none" stroke-width="1"/>
<ellipse cx="270.93" cy="333.28" rx="0.90" ry="0.65" fill="#e0b028" stroke="none" stroke-width="1"/>
<ellipse cx="246.56" cy="327.59" rx="0.90" ry="0.65" fill="#e0b028" stroke="none" stroke-width="1"/>
<ellipse cx="241.91" cy="334.54" rx="0.90" ry="0.65" fill="#e0b028" stroke="none" stroke-width="1"/>
<ellipse cx="221.51" cy="335.37" rx="0.90" ry="0.65" fill="#e0b028" stroke="none" stroke-width="1"/>
<ellipse cx="251.11" cy="328.09" rx="0.90" ry="0.65" fill="#e0b028" stroke="none" stroke-width="1"/>
<ellipse cx="252.49" cy="332.97" rx="0.90" ry="0.65" fill="#e0b028" stroke="none" stroke-width="1"/>
<ellipse cx="254.73" cy="331.55" rx="0.90" ry="0.65" fill="#e0b028" stroke="none" stroke-width="1"/>
<ellipse cx="257.71" cy="336.15" rx="0.90" ry="0.65" fill="#e0b028" stroke="none" stroke-width="1"/>
<ellipse cx="219.40" cy="328.70" rx="0.90" ry="0.65" fill="#e0b028" stroke="none" stroke-width="1"/>
<ellipse cx="257.01" cy="338.88" rx="0.90" ry="0.65" fill="#e0b028" stroke="none" stroke-width="1"/>
<ellipse cx="232.88" cy="333.22" rx="0.90" ry="0.65" fill="#e0b028" stroke="none" stroke-width="1"/>
<ellipse cx="250.10" cy="331.25" rx="0.90" ry="0.65" fill="#e0b028" stroke="none" stroke-width="1"/>
<ellipse cx="238.18" cy="331.39" rx="0.90" ry="0.65" fill="#e0b028" stroke="none" stroke-width="1"/>
<ellipse cx="239.58" cy="334.78" rx="0.90" ry="0.65" fill="#e0b028" stroke="none" stroke-width="1"/>
<ellipse cx="235.13" cy="332.23" rx="0.90" ry="0.65" fill="#e0b028" stroke="none" stroke-width="1"/>
<ellipse cx="258.27" cy="327.55" rx="0.90" ry="0.65" fill="#e0b028" stroke="none" stroke-width="1"/>
<ellipse cx="250.54" cy="336.25" rx="0.90" ry="0.65" fill="#e0b028" stroke="none" stroke-width="1"/>
<ellipse cx="235.01" cy="330.36" rx="0.90" ry="0.65" fill="#e0b028" stroke="none" stroke-width="1"/>
<ellipse cx="260.75" cy="330.06" rx="0.90" ry="0.65" fill="#e0b028" stroke="none" stroke-width="1"/>
<ellipse cx="229.49" cy="333.04" rx="0.90" ry="0.65" fill="#e0b028" stroke="none" stroke-width="1"/>
<ellipse cx="254.71" cy="328.52" rx="0.90" ry="0.65" fill="#e0b028" stroke="none" stroke-width="1"/>
<ellipse cx="236.08" cy="331.68" rx="0.90" ry="0.65" fill="#e0b028" stroke="none" stroke-width="1"/>
<ellipse cx="263.10" cy="332.43" rx="0.90" ry="0.65" fill="#e0b028" stroke="none" stroke-width="1"/>
<ellipse cx="263.16" cy="329.18" rx="0.90" ry="0.65" fill="#e0b028" stroke="none" stroke-width="1"/>
<ellipse cx="238.11" cy="335.47" rx="0.90" ry="0.65" fill="#e0b028" stroke="none" stroke-width="1"/>
<ellipse cx="265.82" cy="332.53" rx="0.90" ry="0.65" fill="#e0b028" stroke="none" stroke-width="1"/>
<ellipse cx="230.19" cy="329.23" rx="0.90" ry="0.65" fill="#e0b028" stroke="none" stroke-width="1"/>
<ellipse cx="246.30" cy="329.76" rx="0.90" ry="0.65" fill="#e0b028" stroke="none" stroke-width="1"/>
<ellipse cx="263.31" cy="337.25" rx="0.90" ry="0.65" fill="#e0b028" stroke="none" stroke-width="1"/>
<ellipse cx="228.66" cy="331.16" rx="0.90" ry="0.65" fill="#e0b028" stroke="none" stroke-width="1"/>
<ellipse cx="262.54" cy="334.90" rx="0.90" ry="0.65" fill="#e0b028" stroke="none" stroke-width="1"/>
<ellipse cx="261.31" cy="331.34" rx="0.90" ry="0.65" fill="#e0b028" stroke="none" stroke-width="1"/>
<ellipse cx="225.91" cy="331.37" rx="0.90" ry="0.65" fill="#e0b028" stroke="none" stroke-width="1"/>
<ellipse cx="260.37" cy="330.46" rx="0.90" ry="0.65" fill="#e0b028" stroke="none" stroke-width="1"/>
<ellipse cx="237.68" cy="332.66" rx="0.90" ry="0.65" fill="#e0b028" stroke="none" stroke-width="1"/>
<ellipse cx="241.47" cy="332.49" rx="0.90" ry="0.65" fill="#e0b028" stroke="none" stroke-width="1"/>
<ellipse cx="266.50" cy="328.95" rx="0.90" ry="0.65" fill="#e0b028" stroke="none" stroke-width="1"/>
<ellipse cx="222.02" cy="339.31" rx="0.90" ry="0.65" fill="#e0b028" stroke="none" stroke-width="1"/>
<ellipse cx="267.71" cy="338.96" rx="0.90" ry="0.65" fill="#e0b028" stroke="none" stroke-width="1"/>
<ellipse cx="244.39" cy="338.97" rx="0.90" ry="0.65" fill="#e0b028" stroke="none" stroke-width="1"/>
<ellipse cx="267.11" cy="329.74" rx="0.90" ry="0.65" fill="#e0b028" stroke="none" stroke-width="1"/>
<ellipse cx="260.11" cy="337.29" rx="0.90" ry="0.65" fill="#e0b028" stroke="none" stroke-width="1"/>
<ellipse cx="254.55" cy="333.57" rx="0.90" ry="0.65" fill="#e0b028" stroke="none" stroke-width="1"/>
<ellipse cx="234.39" cy="331.80" rx="0.90" ry="0.65" fill="#e0b028" stroke="none" stroke-width="1"/>
<ellipse cx="230.10" cy="328.59" rx="0.90" ry="0.65" fill="#e0b028" stroke="none" stroke-width="1"/>
<path d="M213.90,320.00 L217.50,324.50 L221.10,320.00 M217.50,324.50 L217.50,329.00" stroke="#2e3298" stroke-width="1.7" fill="none" stroke-linecap="round" stroke-linejoin="round"/>
<path d="M221.40,319.80 L225.00,324.30 L228.60,319.80 M225.00,324.30 L225.00,328.80" stroke="#2e3298" stroke-width="1.7" fill="none" stroke-linecap="round" stroke-linejoin="round"/>
<path d="M228.90,319.60 L232.50,324.10 L236.10,319.60 M232.50,324.10 L232.50,328.60" stroke="#2e3298" stroke-width="1.7" fill="none" stroke-linecap="round" stroke-linejoin="round"/>
<path d="M236.40,319.60 L240.00,324.10 L243.60,319.60 M240.00,324.10 L240.00,328.60" stroke="#2e3298" stroke-width="1.7" fill="none" stroke-linecap="round" stroke-linejoin="round"/>
<path d="M243.90,319.80 L247.50,324.30 L251.10,319.80 M247.50,324.30 L247.50,328.80" stroke="#2e3298" stroke-width="1.7" fill="none" stroke-linecap="round" stroke-linejoin="round"/>
<path d="M251.40,320.00 L255.00,324.50 L258.60,320.00 M255.00,324.50 L255.00,329.00" stroke="#2e3298" stroke-width="1.7" fill="none" stroke-linecap="round" stroke-linejoin="round"/>
<path d="M218.40,325.00 L222.00,329.50 L225.60,325.00 M222.00,329.50 L222.00,334.00" stroke="#2e3298" stroke-width="1.7" fill="none" stroke-linecap="round" stroke-linejoin="round"/>
<path d="M226.40,325.50 L230.00,330.00 L233.60,325.50 M230.00,330.00 L230.00,334.50" stroke="#2e3298" stroke-width="1.7" fill="none" stroke-linecap="round" stroke-linejoin="round"/>
<path d="M234.40,325.20 L238.00,329.70 L241.60,325.20 M238.00,329.70 L238.00,334.20" stroke="#2e3298" stroke-width="1.7" fill="none" stroke-linecap="round" stroke-linejoin="round"/>
<path d="M242.40,325.50 L246.00,330.00 L249.60,325.50 M246.00,330.00 L246.00,334.50" stroke="#2e3298" stroke-width="1.7" fill="none" stroke-linecap="round" stroke-linejoin="round"/>
<path d="M250.40,325.20 L254.00,329.70 L257.60,325.20 M254.00,329.70 L254.00,334.20" stroke="#2e3298" stroke-width="1.7" fill="none" stroke-linecap="round" stroke-linejoin="round"/>
<path d="M258.40,325.50 L262.00,330.00 L265.60,325.50 M262.00,330.00 L262.00,334.50" stroke="#2e3298" stroke-width="1.7" fill="none" stroke-linecap="round" stroke-linejoin="round"/>
<text class="Sb" x="246.1" y="348.1" font-size="5.0" text-anchor="middle" textLength="61.5" lengthAdjust="spacingAndGlyphs" fill="#1a1a1a">nBC-paper immunosensor</text>
<ellipse cx="194.30" cy="313.40" rx="3.30" ry="3.50" fill="#9c2c9c" stroke="#e23848" stroke-width="1.0"/>
<text class="Sb" x="198.35" y="323.0" font-size="5.0" text-anchor="middle" textLength="27.3" lengthAdjust="spacingAndGlyphs" fill="#1a1a1a">MCLR toxin</text>
<line x1="187.00" y1="328.10" x2="212.00" y2="328.10" stroke="#1f3a78" stroke-width="1.9"/>
<polygon points="182.60,328.10 187.80,325.50 187.80,330.70" fill="#1f3a78" stroke="none" stroke-width="1"/>
<polygon points="122.60,331.20 134.00,326.00 176.00,326.00 184.10,339.70 133.70,341.00" fill="#111014" stroke="none" stroke-width="1"/>
<ellipse cx="161.62" cy="337.55" rx="0.90" ry="0.65" fill="#e0b028" stroke="none" stroke-width="1"/>
<ellipse cx="171.18" cy="339.45" rx="0.90" ry="0.65" fill="#e0b028" stroke="none" stroke-width="1"/>
<ellipse cx="168.24" cy="339.26" rx="0.90" ry="0.65" fill="#e0b028" stroke="none" stroke-width="1"/>
<ellipse cx="129.91" cy="334.92" rx="0.90" ry="0.65" fill="#e0b028" stroke="none" stroke-width="1"/>
<ellipse cx="178.00" cy="336.67" rx="0.90" ry="0.65" fill="#e0b028" stroke="none" stroke-width="1"/>
<ellipse cx="174.19" cy="331.58" rx="0.90" ry="0.65" fill="#e0b028" stroke="none" stroke-width="1"/>
<ellipse cx="152.13" cy="332.84" rx="0.90" ry="0.65" fill="#e0b028" stroke="none" stroke-width="1"/>
<ellipse cx="157.00" cy="335.95" rx="0.90" ry="0.65" fill="#e0b028" stroke="none" stroke-width="1"/>
<ellipse cx="128.33" cy="332.56" rx="0.90" ry="0.65" fill="#e0b028" stroke="none" stroke-width="1"/>
<ellipse cx="144.28" cy="339.21" rx="0.90" ry="0.65" fill="#e0b028" stroke="none" stroke-width="1"/>
<ellipse cx="167.30" cy="332.02" rx="0.90" ry="0.65" fill="#e0b028" stroke="none" stroke-width="1"/>
<ellipse cx="168.87" cy="331.82" rx="0.90" ry="0.65" fill="#e0b028" stroke="none" stroke-width="1"/>
<ellipse cx="159.49" cy="331.70" rx="0.90" ry="0.65" fill="#e0b028" stroke="none" stroke-width="1"/>
<ellipse cx="129.71" cy="338.78" rx="0.90" ry="0.65" fill="#e0b028" stroke="none" stroke-width="1"/>
<ellipse cx="138.54" cy="332.55" rx="0.90" ry="0.65" fill="#e0b028" stroke="none" stroke-width="1"/>
<ellipse cx="180.70" cy="338.79" rx="0.90" ry="0.65" fill="#e0b028" stroke="none" stroke-width="1"/>
<ellipse cx="144.93" cy="339.63" rx="0.90" ry="0.65" fill="#e0b028" stroke="none" stroke-width="1"/>
<ellipse cx="157.07" cy="336.94" rx="0.90" ry="0.65" fill="#e0b028" stroke="none" stroke-width="1"/>
<ellipse cx="140.47" cy="339.44" rx="0.90" ry="0.65" fill="#e0b028" stroke="none" stroke-width="1"/>
<ellipse cx="165.81" cy="339.68" rx="0.90" ry="0.65" fill="#e0b028" stroke="none" stroke-width="1"/>
<ellipse cx="174.37" cy="333.34" rx="0.90" ry="0.65" fill="#e0b028" stroke="none" stroke-width="1"/>
<ellipse cx="146.28" cy="332.08" rx="0.90" ry="0.65" fill="#e0b028" stroke="none" stroke-width="1"/>
<ellipse cx="134.77" cy="331.12" rx="0.90" ry="0.65" fill="#e0b028" stroke="none" stroke-width="1"/>
<ellipse cx="144.48" cy="336.23" rx="0.90" ry="0.65" fill="#e0b028" stroke="none" stroke-width="1"/>
<ellipse cx="129.21" cy="336.94" rx="0.90" ry="0.65" fill="#e0b028" stroke="none" stroke-width="1"/>
<ellipse cx="145.50" cy="333.44" rx="0.90" ry="0.65" fill="#e0b028" stroke="none" stroke-width="1"/>
<ellipse cx="171.01" cy="335.07" rx="0.90" ry="0.65" fill="#e0b028" stroke="none" stroke-width="1"/>
<ellipse cx="144.86" cy="335.07" rx="0.90" ry="0.65" fill="#e0b028" stroke="none" stroke-width="1"/>
<ellipse cx="163.81" cy="331.04" rx="0.90" ry="0.65" fill="#e0b028" stroke="none" stroke-width="1"/>
<ellipse cx="177.77" cy="330.72" rx="0.90" ry="0.65" fill="#e0b028" stroke="none" stroke-width="1"/>
<ellipse cx="168.52" cy="338.53" rx="0.90" ry="0.65" fill="#e0b028" stroke="none" stroke-width="1"/>
<ellipse cx="130.30" cy="337.98" rx="0.90" ry="0.65" fill="#e0b028" stroke="none" stroke-width="1"/>
<ellipse cx="147.78" cy="336.00" rx="0.90" ry="0.65" fill="#e0b028" stroke="none" stroke-width="1"/>
<ellipse cx="127.61" cy="330.94" rx="0.90" ry="0.65" fill="#e0b028" stroke="none" stroke-width="1"/>
<ellipse cx="139.27" cy="339.57" rx="0.90" ry="0.65" fill="#e0b028" stroke="none" stroke-width="1"/>
<ellipse cx="139.49" cy="337.68" rx="0.90" ry="0.65" fill="#e0b028" stroke="none" stroke-width="1"/>
<ellipse cx="178.17" cy="339.45" rx="0.90" ry="0.65" fill="#e0b028" stroke="none" stroke-width="1"/>
<ellipse cx="145.97" cy="333.87" rx="0.90" ry="0.65" fill="#e0b028" stroke="none" stroke-width="1"/>
<ellipse cx="156.61" cy="337.87" rx="0.90" ry="0.65" fill="#e0b028" stroke="none" stroke-width="1"/>
<ellipse cx="134.86" cy="337.61" rx="0.90" ry="0.65" fill="#e0b028" stroke="none" stroke-width="1"/>
<ellipse cx="171.03" cy="338.67" rx="0.90" ry="0.65" fill="#e0b028" stroke="none" stroke-width="1"/>
<ellipse cx="131.74" cy="339.49" rx="0.90" ry="0.65" fill="#e0b028" stroke="none" stroke-width="1"/>
<ellipse cx="132.76" cy="333.74" rx="0.90" ry="0.65" fill="#e0b028" stroke="none" stroke-width="1"/>
<ellipse cx="161.52" cy="339.22" rx="0.90" ry="0.65" fill="#e0b028" stroke="none" stroke-width="1"/>
<ellipse cx="147.45" cy="339.28" rx="0.90" ry="0.65" fill="#e0b028" stroke="none" stroke-width="1"/>
<ellipse cx="156.28" cy="333.47" rx="0.90" ry="0.65" fill="#e0b028" stroke="none" stroke-width="1"/>
<ellipse cx="144.01" cy="332.19" rx="0.90" ry="0.65" fill="#e0b028" stroke="none" stroke-width="1"/>
<ellipse cx="131.51" cy="331.91" rx="0.90" ry="0.65" fill="#e0b028" stroke="none" stroke-width="1"/>
<ellipse cx="165.83" cy="339.97" rx="0.90" ry="0.65" fill="#e0b028" stroke="none" stroke-width="1"/>
<ellipse cx="135.55" cy="330.96" rx="0.90" ry="0.65" fill="#e0b028" stroke="none" stroke-width="1"/>
<ellipse cx="179.91" cy="335.57" rx="0.90" ry="0.65" fill="#e0b028" stroke="none" stroke-width="1"/>
<ellipse cx="148.82" cy="332.75" rx="0.90" ry="0.65" fill="#e0b028" stroke="none" stroke-width="1"/>
<ellipse cx="160.36" cy="338.35" rx="0.90" ry="0.65" fill="#e0b028" stroke="none" stroke-width="1"/>
<ellipse cx="151.96" cy="334.51" rx="0.90" ry="0.65" fill="#e0b028" stroke="none" stroke-width="1"/>
<ellipse cx="132.64" cy="339.20" rx="0.90" ry="0.65" fill="#e0b028" stroke="none" stroke-width="1"/>
<ellipse cx="130.18" cy="335.19" rx="0.90" ry="0.65" fill="#e0b028" stroke="none" stroke-width="1"/>
<ellipse cx="170.99" cy="331.74" rx="0.90" ry="0.65" fill="#e0b028" stroke="none" stroke-width="1"/>
<ellipse cx="167.90" cy="339.52" rx="0.90" ry="0.65" fill="#e0b028" stroke="none" stroke-width="1"/>
<ellipse cx="162.14" cy="337.99" rx="0.90" ry="0.65" fill="#e0b028" stroke="none" stroke-width="1"/>
<ellipse cx="133.85" cy="334.63" rx="0.90" ry="0.65" fill="#e0b028" stroke="none" stroke-width="1"/>
<ellipse cx="137.29" cy="338.52" rx="0.90" ry="0.65" fill="#e0b028" stroke="none" stroke-width="1"/>
<ellipse cx="143.69" cy="334.80" rx="0.90" ry="0.65" fill="#e0b028" stroke="none" stroke-width="1"/>
<ellipse cx="181.52" cy="338.60" rx="0.90" ry="0.65" fill="#e0b028" stroke="none" stroke-width="1"/>
<ellipse cx="179.11" cy="334.81" rx="0.90" ry="0.65" fill="#e0b028" stroke="none" stroke-width="1"/>
<ellipse cx="154.57" cy="337.43" rx="0.90" ry="0.65" fill="#e0b028" stroke="none" stroke-width="1"/>
<ellipse cx="152.78" cy="333.26" rx="0.90" ry="0.65" fill="#e0b028" stroke="none" stroke-width="1"/>
<ellipse cx="148.44" cy="331.89" rx="0.90" ry="0.65" fill="#e0b028" stroke="none" stroke-width="1"/>
<ellipse cx="149.57" cy="339.89" rx="0.90" ry="0.65" fill="#e0b028" stroke="none" stroke-width="1"/>
<ellipse cx="178.79" cy="336.46" rx="0.90" ry="0.65" fill="#e0b028" stroke="none" stroke-width="1"/>
<ellipse cx="153.98" cy="333.72" rx="0.90" ry="0.65" fill="#e0b028" stroke="none" stroke-width="1"/>
<ellipse cx="132.45" cy="333.09" rx="0.90" ry="0.65" fill="#e0b028" stroke="none" stroke-width="1"/>
<ellipse cx="170.27" cy="338.74" rx="0.90" ry="0.65" fill="#e0b028" stroke="none" stroke-width="1"/>
<ellipse cx="148.15" cy="337.97" rx="0.90" ry="0.65" fill="#e0b028" stroke="none" stroke-width="1"/>
<ellipse cx="169.38" cy="337.10" rx="0.90" ry="0.65" fill="#e0b028" stroke="none" stroke-width="1"/>
<ellipse cx="163.81" cy="337.72" rx="0.90" ry="0.65" fill="#e0b028" stroke="none" stroke-width="1"/>
<ellipse cx="148.01" cy="337.19" rx="0.90" ry="0.65" fill="#e0b028" stroke="none" stroke-width="1"/>
<ellipse cx="143.06" cy="335.11" rx="0.90" ry="0.65" fill="#e0b028" stroke="none" stroke-width="1"/>
<ellipse cx="169.10" cy="337.06" rx="0.90" ry="0.65" fill="#e0b028" stroke="none" stroke-width="1"/>
<ellipse cx="145.12" cy="339.48" rx="0.90" ry="0.65" fill="#e0b028" stroke="none" stroke-width="1"/>
<ellipse cx="162.53" cy="336.02" rx="0.90" ry="0.65" fill="#e0b028" stroke="none" stroke-width="1"/>
<ellipse cx="129.24" cy="335.70" rx="0.90" ry="0.65" fill="#e0b028" stroke="none" stroke-width="1"/>
<ellipse cx="142.05" cy="336.88" rx="0.90" ry="0.65" fill="#e0b028" stroke="none" stroke-width="1"/>
<ellipse cx="153.52" cy="338.26" rx="0.90" ry="0.65" fill="#e0b028" stroke="none" stroke-width="1"/>
<ellipse cx="163.06" cy="338.08" rx="0.90" ry="0.65" fill="#e0b028" stroke="none" stroke-width="1"/>
<ellipse cx="147.02" cy="336.62" rx="0.90" ry="0.65" fill="#e0b028" stroke="none" stroke-width="1"/>
<ellipse cx="167.85" cy="338.37" rx="0.90" ry="0.65" fill="#e0b028" stroke="none" stroke-width="1"/>
<ellipse cx="147.73" cy="338.51" rx="0.90" ry="0.65" fill="#e0b028" stroke="none" stroke-width="1"/>
<ellipse cx="174.30" cy="337.04" rx="0.90" ry="0.65" fill="#e0b028" stroke="none" stroke-width="1"/>
<ellipse cx="180.63" cy="339.59" rx="0.90" ry="0.65" fill="#e0b028" stroke="none" stroke-width="1"/>
<ellipse cx="155.53" cy="335.53" rx="0.90" ry="0.65" fill="#e0b028" stroke="none" stroke-width="1"/>
<path d="M122.50,323.00 L126.00,327.20 L129.50,323.00 M126.00,327.20 L126.00,331.40" stroke="#3238b0" stroke-width="1.9" fill="none" stroke-linecap="round" stroke-linejoin="round"/>
<path d="M130.50,322.50 L134.00,326.70 L137.50,322.50 M134.00,326.70 L134.00,330.90" stroke="#3238b0" stroke-width="1.9" fill="none" stroke-linecap="round" stroke-linejoin="round"/>
<path d="M138.50,322.50 L142.00,326.70 L145.50,322.50 M142.00,326.70 L142.00,330.90" stroke="#3238b0" stroke-width="1.9" fill="none" stroke-linecap="round" stroke-linejoin="round"/>
<path d="M146.50,322.80 L150.00,327.00 L153.50,322.80 M150.00,327.00 L150.00,331.20" stroke="#3238b0" stroke-width="1.9" fill="none" stroke-linecap="round" stroke-linejoin="round"/>
<path d="M154.50,322.50 L158.00,326.70 L161.50,322.50 M158.00,326.70 L158.00,330.90" stroke="#3238b0" stroke-width="1.9" fill="none" stroke-linecap="round" stroke-linejoin="round"/>
<path d="M162.50,322.50 L166.00,326.70 L169.50,322.50 M166.00,326.70 L166.00,330.90" stroke="#3238b0" stroke-width="1.9" fill="none" stroke-linecap="round" stroke-linejoin="round"/>
<path d="M170.50,323.00 L174.00,327.20 L177.50,323.00 M174.00,327.20 L174.00,331.40" stroke="#3238b0" stroke-width="1.9" fill="none" stroke-linecap="round" stroke-linejoin="round"/>
<path d="M126.50,328.00 L130.00,332.20 L133.50,328.00 M130.00,332.20 L130.00,336.40" stroke="#3238b0" stroke-width="1.9" fill="none" stroke-linecap="round" stroke-linejoin="round"/>
<path d="M134.50,328.50 L138.00,332.70 L141.50,328.50 M138.00,332.70 L138.00,336.90" stroke="#3238b0" stroke-width="1.9" fill="none" stroke-linecap="round" stroke-linejoin="round"/>
<path d="M142.50,328.00 L146.00,332.20 L149.50,328.00 M146.00,332.20 L146.00,336.40" stroke="#3238b0" stroke-width="1.9" fill="none" stroke-linecap="round" stroke-linejoin="round"/>
<path d="M150.50,328.50 L154.00,332.70 L157.50,328.50 M154.00,332.70 L154.00,336.90" stroke="#3238b0" stroke-width="1.9" fill="none" stroke-linecap="round" stroke-linejoin="round"/>
<path d="M158.50,328.00 L162.00,332.20 L165.50,328.00 M162.00,332.20 L162.00,336.40" stroke="#3238b0" stroke-width="1.9" fill="none" stroke-linecap="round" stroke-linejoin="round"/>
<path d="M166.50,328.50 L170.00,332.70 L173.50,328.50 M170.00,332.70 L170.00,336.90" stroke="#3238b0" stroke-width="1.9" fill="none" stroke-linecap="round" stroke-linejoin="round"/>
<path d="M174.50,329.00 L178.00,333.20 L181.50,329.00 M178.00,333.20 L178.00,337.40" stroke="#3238b0" stroke-width="1.9" fill="none" stroke-linecap="round" stroke-linejoin="round"/>
<ellipse cx="128.5" cy="320.0" rx="3.4" ry="4.6" transform="rotate(15 128.5 320.0)" fill="#9c2c9c" stroke="#e23848" stroke-width="1.0"/>
<ellipse cx="140.3" cy="327.3" rx="3.4" ry="4.6" transform="rotate(15 140.3 327.3)" fill="#9c2c9c" stroke="#e23848" stroke-width="1.0"/>
<ellipse cx="154.9" cy="318.1" rx="3.4" ry="4.6" transform="rotate(15 154.9 318.1)" fill="#9c2c9c" stroke="#e23848" stroke-width="1.0"/>
<ellipse cx="169.3" cy="324.0" rx="3.4" ry="4.6" transform="rotate(15 169.3 324.0)" fill="#9c2c9c" stroke="#e23848" stroke-width="1.0"/>
<text class="Sb" x="103.4" y="319.0" font-size="5.0" text-anchor="middle" textLength="37.1" lengthAdjust="spacingAndGlyphs" fill="#1a1a1a">Electrochemical</text>
<text class="Sb" x="103.5" y="324.9" font-size="5.0" text-anchor="middle" textLength="21.7" lengthAdjust="spacingAndGlyphs" fill="#1a1a1a">detection</text>
<line x1="92.00" y1="328.60" x2="119.00" y2="328.60" stroke="#1f3a78" stroke-width="1.9"/>
<polygon points="87.40,328.60 92.60,326.00 92.60,331.20" fill="#1f3a78" stroke="none" stroke-width="1"/>
<line x1="46.90" y1="306.50" x2="46.90" y2="345.40" stroke="#222" stroke-width="0.8"/>
<polygon points="46.90,304.00 48.00,306.40 45.80,306.40" fill="#222" stroke="none" stroke-width="1"/>
<line x1="46.90" y1="345.40" x2="83.00" y2="345.40" stroke="#222" stroke-width="0.8"/>
<polygon points="85.50,345.40 83.10,346.50 83.10,344.30" fill="#222" stroke="none" stroke-width="1"/>
<path d="M47.2,317.0 L61.0,317.0 C62.2,317.0 62.0,326 62.8,330 C64,336 68,339.2 74,339.3 L77.2,339.3" stroke="#e84848" stroke-width="1.15" fill="none"/>
<text class="Sb" x="59.0" y="314.8" font-size="4.6" text-anchor="middle" textLength="21.5" lengthAdjust="spacingAndGlyphs" fill="#1a1a1a">w/o toxin</text>
<text class="Sb" x="71.3" y="325.0" font-size="4.6" text-anchor="middle" textLength="18.2" lengthAdjust="spacingAndGlyphs" fill="#1a1a1a">w/ toxin</text>
<text class="Sb" x="43.6" y="325.6" font-size="4.8" text-anchor="middle" textLength="39.5" lengthAdjust="spacingAndGlyphs" transform="rotate(-90 43.6 325.6)" fill="#1a1a1a">Detection signal</text>
<polygon points="466.00,254.20 508.50,244.60 514.20,246.00 471.60,256.00" fill="#f6dcaa" stroke="none" stroke-width="1"/>
<polygon points="471.60,256.00 514.20,246.00 514.20,256.40 471.60,266.00" fill="#ebc487" stroke="none" stroke-width="1"/>
<polygon points="466.00,254.20 471.60,256.00 471.60,266.00 466.20,263.60" fill="#f2d29a" stroke="none" stroke-width="1"/>
<text class="S" x="440.0" y="251.8" font-size="4.1" textLength="25.9" lengthAdjust="spacingAndGlyphs" fill="#222" stroke="#444" stroke-width="0.12">Cut into pieces</text>
<line x1="463.60" y1="254.90" x2="445.00" y2="254.90" stroke="#a184d2" stroke-width="0.8"/>
<polygon points="441.50,254.90 446.00,253.30 446.00,256.50" fill="#a184d2" stroke="none" stroke-width="1"/>
<polygon points="436.35,258.27 408.51,251.59 410.14,244.78 437.99,251.46" fill="#f4eeb4" stroke="#cfc38a" stroke-width="0.3"/>
<polygon points="436.35,258.27 408.51,251.59 409.08,249.20 436.93,255.89" fill="#fbf8d8" stroke="none" stroke-width="1"/>
<polygon points="437.54,253.33 409.70,246.65 410.14,244.78 437.99,251.46" fill="#e4dc9c" stroke="none" stroke-width="1"/>
<ellipse cx="437.17" cy="254.87" rx="2.52" ry="3.50" fill="#f2eab0" stroke="#cfc38a" stroke-width="0.3"/>
<ellipse cx="437.27" cy="254.87" rx="1.96" ry="2.66" fill="#8c5a38" stroke="none" stroke-width="1"/>
<polygon points="432.73,263.85 409.24,258.21 410.87,251.40 434.36,257.04" fill="#f4eeb4" stroke="#cfc38a" stroke-width="0.3"/>
<polygon points="432.73,263.85 409.24,258.21 409.81,255.83 433.30,261.46" fill="#fbf8d8" stroke="none" stroke-width="1"/>
<polygon points="433.91,258.91 410.42,253.27 410.87,251.40 434.36,257.04" fill="#e4dc9c" stroke="none" stroke-width="1"/>
<ellipse cx="433.54" cy="260.44" rx="2.52" ry="3.50" fill="#f2eab0" stroke="#cfc38a" stroke-width="0.3"/>
<ellipse cx="433.64" cy="260.44" rx="1.96" ry="2.66" fill="#8c5a38" stroke="none" stroke-width="1"/>
<polygon points="430.74,269.83 402.58,263.07 404.21,256.27 432.38,263.03" fill="#f4eeb4" stroke="#cfc38a" stroke-width="0.3"/>
<polygon points="430.74,269.83 402.58,263.07 403.15,260.69 431.32,267.45" fill="#fbf8d8" stroke="none" stroke-width="1"/>
<polygon points="431.93,264.90 403.77,258.14 404.21,256.27 432.38,263.03" fill="#e4dc9c" stroke="none" stroke-width="1"/>
<ellipse cx="431.56" cy="266.43" rx="2.52" ry="3.50" fill="#f2eab0" stroke="#cfc38a" stroke-width="0.3"/>
<ellipse cx="431.66" cy="266.43" rx="1.96" ry="2.66" fill="#8c5a38" stroke="none" stroke-width="1"/>
<polygon points="429.75,252.36 407.78,247.09 409.42,240.28 431.39,245.55" fill="#f4eeb4" stroke="#cfc38a" stroke-width="0.3"/>
<polygon points="429.75,252.36 407.78,247.09 408.35,244.70 430.32,249.98" fill="#fbf8d8" stroke="none" stroke-width="1"/>
<polygon points="430.94,247.42 408.97,242.15 409.42,240.28 431.39,245.55" fill="#e4dc9c" stroke="none" stroke-width="1"/>
<ellipse cx="430.57" cy="248.96" rx="2.52" ry="3.50" fill="#f2eab0" stroke="#cfc38a" stroke-width="0.3"/>
<ellipse cx="430.67" cy="248.96" rx="1.96" ry="2.66" fill="#8c5a38" stroke="none" stroke-width="1"/>
<polygon points="430.18,258.94 404.65,252.81 406.29,246.01 431.81,252.13" fill="#f4eeb4" stroke="#cfc38a" stroke-width="0.3"/>
<polygon points="430.18,258.94 404.65,252.81 405.23,250.43 430.75,256.56" fill="#fbf8d8" stroke="none" stroke-width="1"/>
<polygon points="431.36,254.01 405.84,247.88 406.29,246.01 431.81,252.13" fill="#e4dc9c" stroke="none" stroke-width="1"/>
<ellipse cx="430.99" cy="255.54" rx="2.52" ry="3.50" fill="#f2eab0" stroke="#cfc38a" stroke-width="0.3"/>
<ellipse cx="431.09" cy="255.54" rx="1.96" ry="2.66" fill="#8c5a38" stroke="none" stroke-width="1"/>
<polygon points="429.60,265.27 404.51,259.25 406.14,252.44 431.24,258.47" fill="#f4eeb4" stroke="#cfc38a" stroke-width="0.3"/>
<polygon points="429.60,265.27 404.51,259.25 405.08,256.87 430.17,262.89" fill="#fbf8d8" stroke="none" stroke-width="1"/>
<polygon points="430.79,260.34 405.69,254.32 406.14,252.44 431.24,258.47" fill="#e4dc9c" stroke="none" stroke-width="1"/>
<ellipse cx="430.42" cy="261.87" rx="2.52" ry="3.50" fill="#f2eab0" stroke="#cfc38a" stroke-width="0.3"/>
<ellipse cx="430.52" cy="261.87" rx="1.96" ry="2.66" fill="#8c5a38" stroke="none" stroke-width="1"/>
<polygon points="424.60,270.51 397.14,263.92 398.77,257.11 426.23,263.70" fill="#f4eeb4" stroke="#cfc38a" stroke-width="0.3"/>
<polygon points="424.60,270.51 397.14,263.92 397.71,261.54 425.17,268.13" fill="#fbf8d8" stroke="none" stroke-width="1"/>
<polygon points="425.79,265.58 398.32,258.99 398.77,257.11 426.23,263.70" fill="#e4dc9c" stroke="none" stroke-width="1"/>
<ellipse cx="425.42" cy="267.11" rx="2.52" ry="3.50" fill="#f2eab0" stroke="#cfc38a" stroke-width="0.3"/>
<ellipse cx="425.52" cy="267.11" rx="1.96" ry="2.66" fill="#8c5a38" stroke="none" stroke-width="1"/>
<polygon points="431.29,248.46 404.89,242.13 406.52,235.32 432.92,241.66" fill="#f4eeb4" stroke="#cfc38a" stroke-width="0.3"/>
<polygon points="431.29,248.46 404.89,242.13 405.46,239.74 431.86,246.08" fill="#fbf8d8" stroke="none" stroke-width="1"/>
<polygon points="432.47,243.53 406.07,237.19 406.52,235.32 432.92,241.66" fill="#e4dc9c" stroke="none" stroke-width="1"/>
<ellipse cx="432.11" cy="245.06" rx="2.52" ry="3.50" fill="#f2eab0" stroke="#cfc38a" stroke-width="0.3"/>
<ellipse cx="432.21" cy="245.06" rx="1.96" ry="2.66" fill="#8c5a38" stroke="none" stroke-width="1"/>
<polygon points="427.82,254.08 405.35,248.69 406.98,241.88 429.45,247.27" fill="#f4eeb4" stroke="#cfc38a" stroke-width="0.3"/>
<polygon points="427.82,254.08 405.35,248.69 405.92,246.30 428.39,251.70" fill="#fbf8d8" stroke="none" stroke-width="1"/>
<polygon points="429.00,249.14 406.53,243.75 406.98,241.88 429.45,247.27" fill="#e4dc9c" stroke="none" stroke-width="1"/>
<ellipse cx="428.63" cy="250.68" rx="2.52" ry="3.50" fill="#f2eab0" stroke="#cfc38a" stroke-width="0.3"/>
<ellipse cx="428.73" cy="250.68" rx="1.96" ry="2.66" fill="#8c5a38" stroke="none" stroke-width="1"/>
<polygon points="424.92,259.84 401.70,254.26 403.33,247.46 426.55,253.03" fill="#f4eeb4" stroke="#cfc38a" stroke-width="0.3"/>
<polygon points="424.92,259.84 401.70,254.26 402.27,251.88 425.49,257.45" fill="#fbf8d8" stroke="none" stroke-width="1"/>
<polygon points="426.10,254.90 402.88,249.33 403.33,247.46 426.55,253.03" fill="#e4dc9c" stroke="none" stroke-width="1"/>
<ellipse cx="425.73" cy="256.43" rx="2.52" ry="3.50" fill="#f2eab0" stroke="#cfc38a" stroke-width="0.3"/>
<ellipse cx="425.83" cy="256.43" rx="1.96" ry="2.66" fill="#8c5a38" stroke="none" stroke-width="1"/>
<polygon points="423.07,265.86 397.86,259.81 399.49,253.00 424.70,259.05" fill="#f4eeb4" stroke="#cfc38a" stroke-width="0.3"/>
<polygon points="423.07,265.86 397.86,259.81 398.43,257.42 423.64,263.47" fill="#fbf8d8" stroke="none" stroke-width="1"/>
<polygon points="424.25,260.92 399.04,254.87 399.49,253.00 424.70,259.05" fill="#e4dc9c" stroke="none" stroke-width="1"/>
<ellipse cx="423.88" cy="262.45" rx="2.52" ry="3.50" fill="#f2eab0" stroke="#cfc38a" stroke-width="0.3"/>
<ellipse cx="423.98" cy="262.45" rx="1.96" ry="2.66" fill="#8c5a38" stroke="none" stroke-width="1"/>
<polygon points="420.75,271.76 392.56,264.99 394.20,258.19 422.39,264.95" fill="#f4eeb4" stroke="#cfc38a" stroke-width="0.3"/>
<polygon points="420.75,271.76 392.56,264.99 393.13,262.61 421.32,269.38" fill="#fbf8d8" stroke="none" stroke-width="1"/>
<polygon points="421.94,266.82 393.75,260.06 394.20,258.19 422.39,264.95" fill="#e4dc9c" stroke="none" stroke-width="1"/>
<ellipse cx="421.57" cy="268.36" rx="2.52" ry="3.50" fill="#f2eab0" stroke="#cfc38a" stroke-width="0.3"/>
<ellipse cx="421.67" cy="268.36" rx="1.96" ry="2.66" fill="#8c5a38" stroke="none" stroke-width="1"/>
<polygon points="424.85,249.07 400.78,243.29 402.41,236.48 426.48,242.26" fill="#f4eeb4" stroke="#cfc38a" stroke-width="0.3"/>
<polygon points="424.85,249.07 400.78,243.29 401.35,240.91 425.42,246.69" fill="#fbf8d8" stroke="none" stroke-width="1"/>
<polygon points="426.03,244.13 401.96,238.36 402.41,236.48 426.48,242.26" fill="#e4dc9c" stroke="none" stroke-width="1"/>
<ellipse cx="425.66" cy="245.66" rx="2.52" ry="3.50" fill="#f2eab0" stroke="#cfc38a" stroke-width="0.3"/>
<ellipse cx="425.76" cy="245.66" rx="1.96" ry="2.66" fill="#8c5a38" stroke="none" stroke-width="1"/>
<polygon points="420.69,254.52 399.11,249.34 400.75,242.53 422.33,247.71" fill="#f4eeb4" stroke="#cfc38a" stroke-width="0.3"/>
<polygon points="420.69,254.52 399.11,249.34 399.68,246.95 421.26,252.13" fill="#fbf8d8" stroke="none" stroke-width="1"/>
<polygon points="421.88,249.58 400.30,244.40 400.75,242.53 422.33,247.71" fill="#e4dc9c" stroke="none" stroke-width="1"/>
<ellipse cx="421.51" cy="251.11" rx="2.52" ry="3.50" fill="#f2eab0" stroke="#cfc38a" stroke-width="0.3"/>
<ellipse cx="421.61" cy="251.11" rx="1.96" ry="2.66" fill="#8c5a38" stroke="none" stroke-width="1"/>
<polygon points="419.42,260.68 397.87,255.50 399.50,248.70 421.06,253.87" fill="#f4eeb4" stroke="#cfc38a" stroke-width="0.3"/>
<polygon points="419.42,260.68 397.87,255.50 398.44,253.12 420.00,258.29" fill="#fbf8d8" stroke="none" stroke-width="1"/>
<polygon points="420.61,255.74 399.05,250.57 399.50,248.70 421.06,253.87" fill="#e4dc9c" stroke="none" stroke-width="1"/>
<ellipse cx="420.24" cy="257.27" rx="2.52" ry="3.50" fill="#f2eab0" stroke="#cfc38a" stroke-width="0.3"/>
<ellipse cx="420.34" cy="257.27" rx="1.96" ry="2.66" fill="#8c5a38" stroke="none" stroke-width="1"/>
<polygon points="419.31,267.12 396.68,261.69 398.31,254.89 420.94,260.32" fill="#f4eeb4" stroke="#cfc38a" stroke-width="0.3"/>
<polygon points="419.31,267.12 396.68,261.69 397.25,259.31 419.88,264.74" fill="#fbf8d8" stroke="none" stroke-width="1"/>
<polygon points="420.49,262.19 397.86,256.76 398.31,254.89 420.94,260.32" fill="#e4dc9c" stroke="none" stroke-width="1"/>
<ellipse cx="420.13" cy="263.72" rx="2.52" ry="3.50" fill="#f2eab0" stroke="#cfc38a" stroke-width="0.3"/>
<ellipse cx="420.23" cy="263.72" rx="1.96" ry="2.66" fill="#8c5a38" stroke="none" stroke-width="1"/>
<polygon points="420.53,250.20 396.97,244.55 398.61,237.74 422.17,243.39" fill="#f4eeb4" stroke="#cfc38a" stroke-width="0.3"/>
<polygon points="420.53,250.20 396.97,244.55 397.54,242.16 421.10,247.82" fill="#fbf8d8" stroke="none" stroke-width="1"/>
<polygon points="421.72,245.26 398.16,239.61 398.61,237.74 422.17,243.39" fill="#e4dc9c" stroke="none" stroke-width="1"/>
<ellipse cx="421.35" cy="246.80" rx="2.52" ry="3.50" fill="#f2eab0" stroke="#cfc38a" stroke-width="0.3"/>
<ellipse cx="421.45" cy="246.80" rx="1.96" ry="2.66" fill="#8c5a38" stroke="none" stroke-width="1"/>
<polygon points="417.62,255.95 395.29,250.60 396.93,243.79 419.25,249.15" fill="#f4eeb4" stroke="#cfc38a" stroke-width="0.3"/>
<polygon points="417.62,255.95 395.29,250.60 395.86,248.21 418.19,253.57" fill="#fbf8d8" stroke="none" stroke-width="1"/>
<polygon points="418.80,251.02 396.48,245.66 396.93,243.79 419.25,249.15" fill="#e4dc9c" stroke="none" stroke-width="1"/>
<ellipse cx="418.43" cy="252.55" rx="2.52" ry="3.50" fill="#f2eab0" stroke="#cfc38a" stroke-width="0.3"/>
<ellipse cx="418.53" cy="252.55" rx="1.96" ry="2.66" fill="#8c5a38" stroke="none" stroke-width="1"/>
<polygon points="418.13,262.56 391.32,256.12 392.95,249.31 419.77,255.75" fill="#f4eeb4" stroke="#cfc38a" stroke-width="0.3"/>
<polygon points="418.13,262.56 391.32,256.12 391.89,253.74 418.70,260.17" fill="#fbf8d8" stroke="none" stroke-width="1"/>
<polygon points="419.32,257.62 392.50,251.19 392.95,249.31 419.77,255.75" fill="#e4dc9c" stroke="none" stroke-width="1"/>
<ellipse cx="418.95" cy="259.15" rx="2.52" ry="3.50" fill="#f2eab0" stroke="#cfc38a" stroke-width="0.3"/>
<ellipse cx="419.05" cy="259.15" rx="1.96" ry="2.66" fill="#8c5a38" stroke="none" stroke-width="1"/>
<text class="S" x="380.3" y="272.6" font-size="3.9" text-anchor="middle" textLength="30.7" lengthAdjust="spacingAndGlyphs" transform="rotate(-30.7 380.3 272.6)" fill="#2a2a2a" stroke="#444" stroke-width="0.12">Pre-carbonization</text>
<line x1="391.80" y1="267.80" x2="376.50" y2="277.50" stroke="#a184d2" stroke-width="0.8"/>
<polygon points="372.80,279.80 375.38,276.40 376.98,278.94" fill="#a184d2" stroke="none" stroke-width="1"/>
<polygon points="374.35,298.01 346.78,291.39 348.46,284.39 376.03,291.00" fill="#858b86" stroke="#585e59" stroke-width="0.3"/>
<polygon points="374.35,298.01 346.78,291.39 347.37,288.94 374.94,295.55" fill="#9ba19c" stroke="none" stroke-width="1"/>
<polygon points="375.57,292.93 348.00,286.31 348.46,284.39 376.03,291.00" fill="#6a706b" stroke="none" stroke-width="1"/>
<ellipse cx="375.19" cy="294.50" rx="2.59" ry="3.60" fill="#6f7a8c" stroke="#585e59" stroke-width="0.3"/>
<ellipse cx="375.29" cy="294.50" rx="2.02" ry="2.74" fill="#525d70" stroke="none" stroke-width="1"/>
<polygon points="371.02,303.66 341.17,296.49 342.85,289.49 372.70,296.66" fill="#858b86" stroke="#585e59" stroke-width="0.3"/>
<polygon points="371.02,303.66 341.17,296.49 341.75,294.04 371.61,301.21" fill="#9ba19c" stroke="none" stroke-width="1"/>
<polygon points="372.24,298.58 342.38,291.42 342.85,289.49 372.70,296.66" fill="#6a706b" stroke="none" stroke-width="1"/>
<ellipse cx="371.86" cy="300.16" rx="2.59" ry="3.60" fill="#6f7a8c" stroke="#585e59" stroke-width="0.3"/>
<ellipse cx="371.96" cy="300.16" rx="2.02" ry="2.74" fill="#525d70" stroke="none" stroke-width="1"/>
<polygon points="371.81,310.33 347.31,304.45 348.99,297.45 373.49,303.33" fill="#858b86" stroke="#585e59" stroke-width="0.3"/>
<polygon points="371.81,310.33 347.31,304.45 347.89,302.00 372.40,307.88" fill="#9ba19c" stroke="none" stroke-width="1"/>
<polygon points="373.03,305.25 348.52,299.37 348.99,297.45 373.49,303.33" fill="#6a706b" stroke="none" stroke-width="1"/>
<ellipse cx="372.65" cy="306.83" rx="2.59" ry="3.60" fill="#6f7a8c" stroke="#585e59" stroke-width="0.3"/>
<ellipse cx="372.75" cy="306.83" rx="2.02" ry="2.74" fill="#525d70" stroke="none" stroke-width="1"/>
<polygon points="372.75,293.33 344.71,286.60 346.39,279.60 374.43,286.33" fill="#858b86" stroke="#585e59" stroke-width="0.3"/>
<polygon points="372.75,293.33 344.71,286.60 345.30,284.15 373.34,290.88" fill="#9ba19c" stroke="none" stroke-width="1"/>
<polygon points="373.97,288.26 345.93,281.53 346.39,279.60 374.43,286.33" fill="#6a706b" stroke="none" stroke-width="1"/>
<ellipse cx="373.59" cy="289.83" rx="2.59" ry="3.60" fill="#6f7a8c" stroke="#585e59" stroke-width="0.3"/>
<ellipse cx="373.69" cy="289.83" rx="2.02" ry="2.74" fill="#525d70" stroke="none" stroke-width="1"/>
<polygon points="369.97,299.12 344.81,293.08 346.49,286.08 371.65,292.12" fill="#858b86" stroke="#585e59" stroke-width="0.3"/>
<polygon points="369.97,299.12 344.81,293.08 345.40,290.63 370.56,296.67" fill="#9ba19c" stroke="none" stroke-width="1"/>
<polygon points="371.19,294.05 346.03,288.01 346.49,286.08 371.65,292.12" fill="#6a706b" stroke="none" stroke-width="1"/>
<ellipse cx="370.81" cy="295.62" rx="2.59" ry="3.60" fill="#6f7a8c" stroke="#585e59" stroke-width="0.3"/>
<ellipse cx="370.91" cy="295.62" rx="2.02" ry="2.74" fill="#525d70" stroke="none" stroke-width="1"/>
<polygon points="369.55,305.49 339.46,298.27 341.14,291.27 371.23,298.49" fill="#858b86" stroke="#585e59" stroke-width="0.3"/>
<polygon points="369.55,305.49 339.46,298.27 340.05,295.82 370.14,303.04" fill="#9ba19c" stroke="none" stroke-width="1"/>
<polygon points="370.77,300.42 340.68,293.20 341.14,291.27 371.23,298.49" fill="#6a706b" stroke="none" stroke-width="1"/>
<ellipse cx="370.39" cy="301.99" rx="2.59" ry="3.60" fill="#6f7a8c" stroke="#585e59" stroke-width="0.3"/>
<ellipse cx="370.49" cy="301.99" rx="2.02" ry="2.74" fill="#525d70" stroke="none" stroke-width="1"/>
<polygon points="365.70,311.01 342.12,305.36 343.80,298.35 367.38,304.01" fill="#858b86" stroke="#585e59" stroke-width="0.3"/>
<polygon points="365.70,311.01 342.12,305.36 342.71,302.91 366.28,308.56" fill="#9ba19c" stroke="none" stroke-width="1"/>
<polygon points="366.91,305.94 343.34,300.28 343.80,298.35 367.38,304.01" fill="#6a706b" stroke="none" stroke-width="1"/>
<ellipse cx="366.54" cy="307.51" rx="2.59" ry="3.60" fill="#6f7a8c" stroke="#585e59" stroke-width="0.3"/>
<ellipse cx="366.64" cy="307.51" rx="2.02" ry="2.74" fill="#525d70" stroke="none" stroke-width="1"/>
<polygon points="371.75,288.81 347.90,283.09 349.58,276.08 373.43,281.81" fill="#858b86" stroke="#585e59" stroke-width="0.3"/>
<polygon points="371.75,288.81 347.90,283.09 348.49,280.63 372.34,286.36" fill="#9ba19c" stroke="none" stroke-width="1"/>
<polygon points="372.97,283.73 349.12,278.01 349.58,276.08 373.43,281.81" fill="#6a706b" stroke="none" stroke-width="1"/>
<ellipse cx="372.59" cy="285.31" rx="2.59" ry="3.60" fill="#6f7a8c" stroke="#585e59" stroke-width="0.3"/>
<ellipse cx="372.69" cy="285.31" rx="2.02" ry="2.74" fill="#525d70" stroke="none" stroke-width="1"/>
<polygon points="371.30,295.17 344.31,288.70 345.99,281.69 372.98,288.17" fill="#858b86" stroke="#585e59" stroke-width="0.3"/>
<polygon points="371.30,295.17 344.31,288.70 344.90,286.24 371.89,292.72" fill="#9ba19c" stroke="none" stroke-width="1"/>
<polygon points="372.52,290.10 345.53,283.62 345.99,281.69 372.98,288.17" fill="#6a706b" stroke="none" stroke-width="1"/>
<ellipse cx="372.14" cy="291.67" rx="2.59" ry="3.60" fill="#6f7a8c" stroke="#585e59" stroke-width="0.3"/>
<ellipse cx="372.24" cy="291.67" rx="2.02" ry="2.74" fill="#525d70" stroke="none" stroke-width="1"/>
<polygon points="366.77,300.53 337.67,293.54 339.35,286.54 368.45,293.53" fill="#858b86" stroke="#585e59" stroke-width="0.3"/>
<polygon points="366.77,300.53 337.67,293.54 338.26,291.09 367.36,298.08" fill="#9ba19c" stroke="none" stroke-width="1"/>
<polygon points="367.99,295.45 338.89,288.47 339.35,286.54 368.45,293.53" fill="#6a706b" stroke="none" stroke-width="1"/>
<ellipse cx="367.61" cy="297.03" rx="2.59" ry="3.60" fill="#6f7a8c" stroke="#585e59" stroke-width="0.3"/>
<ellipse cx="367.71" cy="297.03" rx="2.02" ry="2.74" fill="#525d70" stroke="none" stroke-width="1"/>
<polygon points="366.19,306.86 339.18,300.38 340.86,293.38 367.87,299.86" fill="#858b86" stroke="#585e59" stroke-width="0.3"/>
<polygon points="366.19,306.86 339.18,300.38 339.77,297.93 366.78,304.41" fill="#9ba19c" stroke="none" stroke-width="1"/>
<polygon points="367.41,301.78 340.40,295.30 340.86,293.38 367.87,299.86" fill="#6a706b" stroke="none" stroke-width="1"/>
<ellipse cx="367.03" cy="303.36" rx="2.59" ry="3.60" fill="#6f7a8c" stroke="#585e59" stroke-width="0.3"/>
<ellipse cx="367.13" cy="303.36" rx="2.02" ry="2.74" fill="#525d70" stroke="none" stroke-width="1"/>
<polygon points="361.67,312.22 332.10,305.12 333.78,298.12 363.35,305.22" fill="#858b86" stroke="#585e59" stroke-width="0.3"/>
<polygon points="361.67,312.22 332.10,305.12 332.69,302.67 362.26,309.77" fill="#9ba19c" stroke="none" stroke-width="1"/>
<polygon points="362.89,307.14 333.32,300.05 333.78,298.12 363.35,305.22" fill="#6a706b" stroke="none" stroke-width="1"/>
<ellipse cx="362.51" cy="308.72" rx="2.59" ry="3.60" fill="#6f7a8c" stroke="#585e59" stroke-width="0.3"/>
<ellipse cx="362.61" cy="308.72" rx="2.02" ry="2.74" fill="#525d70" stroke="none" stroke-width="1"/>
<polygon points="368.29,290.15 341.25,283.66 342.93,276.66 369.97,283.15" fill="#858b86" stroke="#585e59" stroke-width="0.3"/>
<polygon points="368.29,290.15 341.25,283.66 341.84,281.21 368.88,287.70" fill="#9ba19c" stroke="none" stroke-width="1"/>
<polygon points="369.51,285.08 342.47,278.59 342.93,276.66 369.97,283.15" fill="#6a706b" stroke="none" stroke-width="1"/>
<ellipse cx="369.13" cy="286.65" rx="2.59" ry="3.60" fill="#6f7a8c" stroke="#585e59" stroke-width="0.3"/>
<ellipse cx="369.23" cy="286.65" rx="2.02" ry="2.74" fill="#525d70" stroke="none" stroke-width="1"/>
<polygon points="365.25,295.88 341.42,290.15 343.10,283.15 366.93,288.87" fill="#858b86" stroke="#585e59" stroke-width="0.3"/>
<polygon points="365.25,295.88 341.42,290.15 342.00,287.70 365.84,293.43" fill="#9ba19c" stroke="none" stroke-width="1"/>
<polygon points="366.47,290.80 342.63,285.08 343.10,283.15 366.93,288.87" fill="#6a706b" stroke="none" stroke-width="1"/>
<ellipse cx="366.09" cy="292.37" rx="2.59" ry="3.60" fill="#6f7a8c" stroke="#585e59" stroke-width="0.3"/>
<ellipse cx="366.19" cy="292.37" rx="2.02" ry="2.74" fill="#525d70" stroke="none" stroke-width="1"/>
<polygon points="363.24,301.85 333.07,294.61 334.75,287.61 364.92,294.85" fill="#858b86" stroke="#585e59" stroke-width="0.3"/>
<polygon points="363.24,301.85 333.07,294.61 333.66,292.16 363.83,299.40" fill="#9ba19c" stroke="none" stroke-width="1"/>
<polygon points="364.46,296.78 334.29,289.54 334.75,287.61 364.92,294.85" fill="#6a706b" stroke="none" stroke-width="1"/>
<ellipse cx="364.08" cy="298.35" rx="2.59" ry="3.60" fill="#6f7a8c" stroke="#585e59" stroke-width="0.3"/>
<ellipse cx="364.18" cy="298.35" rx="2.02" ry="2.74" fill="#525d70" stroke="none" stroke-width="1"/>
<polygon points="359.67,307.45 329.06,300.10 330.74,293.10 361.35,300.44" fill="#858b86" stroke="#585e59" stroke-width="0.3"/>
<polygon points="359.67,307.45 329.06,300.10 329.64,297.65 360.26,305.00" fill="#9ba19c" stroke="none" stroke-width="1"/>
<polygon points="360.89,302.37 330.27,295.02 330.74,293.10 361.35,300.44" fill="#6a706b" stroke="none" stroke-width="1"/>
<ellipse cx="360.51" cy="303.95" rx="2.59" ry="3.60" fill="#6f7a8c" stroke="#585e59" stroke-width="0.3"/>
<ellipse cx="360.61" cy="303.95" rx="2.02" ry="2.74" fill="#525d70" stroke="none" stroke-width="1"/>
<polygon points="363.43,291.15 335.50,284.44 337.18,277.44 365.11,284.15" fill="#858b86" stroke="#585e59" stroke-width="0.3"/>
<polygon points="363.43,291.15 335.50,284.44 336.08,281.99 364.02,288.70" fill="#9ba19c" stroke="none" stroke-width="1"/>
<polygon points="364.65,286.07 336.71,279.37 337.18,277.44 365.11,284.15" fill="#6a706b" stroke="none" stroke-width="1"/>
<ellipse cx="364.27" cy="287.65" rx="2.59" ry="3.60" fill="#6f7a8c" stroke="#585e59" stroke-width="0.3"/>
<ellipse cx="364.37" cy="287.65" rx="2.02" ry="2.74" fill="#525d70" stroke="none" stroke-width="1"/>
<polygon points="360.98,297.02 330.48,289.70 332.16,282.70 362.66,290.02" fill="#858b86" stroke="#585e59" stroke-width="0.3"/>
<polygon points="360.98,297.02 330.48,289.70 331.06,287.25 361.57,294.57" fill="#9ba19c" stroke="none" stroke-width="1"/>
<polygon points="362.20,291.94 331.69,284.62 332.16,282.70 362.66,290.02" fill="#6a706b" stroke="none" stroke-width="1"/>
<ellipse cx="361.82" cy="293.52" rx="2.59" ry="3.60" fill="#6f7a8c" stroke="#585e59" stroke-width="0.3"/>
<ellipse cx="361.92" cy="293.52" rx="2.02" ry="2.74" fill="#525d70" stroke="none" stroke-width="1"/>
<polygon points="359.54,303.14 335.44,297.35 337.12,290.35 361.22,296.14" fill="#858b86" stroke="#585e59" stroke-width="0.3"/>
<polygon points="359.54,303.14 335.44,297.35 336.03,294.90 360.13,300.69" fill="#9ba19c" stroke="none" stroke-width="1"/>
<polygon points="360.76,298.06 336.66,292.28 337.12,290.35 361.22,296.14" fill="#6a706b" stroke="none" stroke-width="1"/>
<ellipse cx="360.38" cy="299.64" rx="2.59" ry="3.60" fill="#6f7a8c" stroke="#585e59" stroke-width="0.3"/>
<ellipse cx="360.48" cy="299.64" rx="2.02" ry="2.74" fill="#525d70" stroke="none" stroke-width="1"/>
<text class="S" x="386.3" y="307.3" font-size="4.0" text-anchor="middle" textLength="17.4" lengthAdjust="spacingAndGlyphs" transform="rotate(22.3 386.3 307.3)" fill="#2a2a2a" stroke="#444" stroke-width="0.12">Activation</text>
<line x1="377.00" y1="307.40" x2="394.00" y2="313.80" stroke="#a184d2" stroke-width="0.8"/>
<polygon points="397.70,315.20 393.43,315.19 394.49,312.39" fill="#a184d2" stroke="none" stroke-width="1"/>
<polygon points="440.84,320.00 416.70,314.21 418.38,307.21 442.52,313.00" fill="#505164" stroke="#2e2f40" stroke-width="0.3"/>
<polygon points="440.84,320.00 416.70,314.21 417.29,311.76 441.43,317.55" fill="#626376" stroke="none" stroke-width="1"/>
<polygon points="442.06,314.93 417.92,309.13 418.38,307.21 442.52,313.00" fill="#404152" stroke="none" stroke-width="1"/>
<ellipse cx="441.68" cy="316.50" rx="2.59" ry="3.60" fill="#4c4d62" stroke="#2e2f40" stroke-width="0.3"/>
<ellipse cx="441.78" cy="316.50" rx="2.02" ry="2.74" fill="#353648" stroke="none" stroke-width="1"/>
<polygon points="441.91,326.74 412.34,319.65 414.02,312.65 443.59,319.74" fill="#505164" stroke="#2e2f40" stroke-width="0.3"/>
<polygon points="441.91,326.74 412.34,319.65 412.93,317.20 442.50,324.29" fill="#626376" stroke="none" stroke-width="1"/>
<polygon points="443.13,321.67 413.56,314.57 414.02,312.65 443.59,319.74" fill="#404152" stroke="none" stroke-width="1"/>
<ellipse cx="442.75" cy="323.24" rx="2.59" ry="3.60" fill="#4c4d62" stroke="#2e2f40" stroke-width="0.3"/>
<ellipse cx="442.85" cy="323.24" rx="2.02" ry="2.74" fill="#353648" stroke="none" stroke-width="1"/>
<polygon points="436.25,331.82 405.70,324.49 407.38,317.49 437.93,324.82" fill="#505164" stroke="#2e2f40" stroke-width="0.3"/>
<polygon points="436.25,331.82 405.70,324.49 406.29,322.04 436.84,329.37" fill="#626376" stroke="none" stroke-width="1"/>
<polygon points="437.47,326.74 406.92,319.41 407.38,317.49 437.93,324.82" fill="#404152" stroke="none" stroke-width="1"/>
<ellipse cx="437.09" cy="328.32" rx="2.59" ry="3.60" fill="#4c4d62" stroke="#2e2f40" stroke-width="0.3"/>
<ellipse cx="437.19" cy="328.32" rx="2.02" ry="2.74" fill="#353648" stroke="none" stroke-width="1"/>
<polygon points="439.38,315.36 414.83,309.47 416.51,302.47 441.06,308.36" fill="#505164" stroke="#2e2f40" stroke-width="0.3"/>
<polygon points="439.38,315.36 414.83,309.47 415.42,307.02 439.96,312.91" fill="#626376" stroke="none" stroke-width="1"/>
<polygon points="440.59,310.29 416.05,304.40 416.51,302.47 441.06,308.36" fill="#404152" stroke="none" stroke-width="1"/>
<ellipse cx="440.22" cy="311.86" rx="2.59" ry="3.60" fill="#4c4d62" stroke="#2e2f40" stroke-width="0.3"/>
<ellipse cx="440.32" cy="311.86" rx="2.02" ry="2.74" fill="#353648" stroke="none" stroke-width="1"/>
<polygon points="438.93,321.73 413.86,315.71 415.54,308.71 440.61,314.73" fill="#505164" stroke="#2e2f40" stroke-width="0.3"/>
<polygon points="438.93,321.73 413.86,315.71 414.45,313.26 439.51,319.28" fill="#626376" stroke="none" stroke-width="1"/>
<polygon points="440.14,316.65 415.08,310.64 415.54,308.71 440.61,314.73" fill="#404152" stroke="none" stroke-width="1"/>
<ellipse cx="439.77" cy="318.23" rx="2.59" ry="3.60" fill="#4c4d62" stroke="#2e2f40" stroke-width="0.3"/>
<ellipse cx="439.87" cy="318.23" rx="2.02" ry="2.74" fill="#353648" stroke="none" stroke-width="1"/>
<polygon points="437.00,327.73 407.38,320.62 409.06,313.62 438.68,320.72" fill="#505164" stroke="#2e2f40" stroke-width="0.3"/>
<polygon points="437.00,327.73 407.38,320.62 407.97,318.17 437.58,325.28" fill="#626376" stroke="none" stroke-width="1"/>
<polygon points="438.21,322.65 408.60,315.54 409.06,313.62 438.68,320.72" fill="#404152" stroke="none" stroke-width="1"/>
<ellipse cx="437.84" cy="324.23" rx="2.59" ry="3.60" fill="#4c4d62" stroke="#2e2f40" stroke-width="0.3"/>
<ellipse cx="437.94" cy="324.23" rx="2.02" ry="2.74" fill="#353648" stroke="none" stroke-width="1"/>
<polygon points="435.00,333.71 410.99,327.95 412.67,320.94 436.68,326.71" fill="#505164" stroke="#2e2f40" stroke-width="0.3"/>
<polygon points="435.00,333.71 410.99,327.95 411.58,325.50 435.59,331.26" fill="#626376" stroke="none" stroke-width="1"/>
<polygon points="436.22,328.63 412.21,322.87 412.67,320.94 436.68,326.71" fill="#404152" stroke="none" stroke-width="1"/>
<ellipse cx="435.84" cy="330.21" rx="2.59" ry="3.60" fill="#4c4d62" stroke="#2e2f40" stroke-width="0.3"/>
<ellipse cx="435.94" cy="330.21" rx="2.02" ry="2.74" fill="#353648" stroke="none" stroke-width="1"/>
<polygon points="435.54,310.14 409.08,303.79 410.76,296.79 437.22,303.14" fill="#505164" stroke="#2e2f40" stroke-width="0.3"/>
<polygon points="435.54,310.14 409.08,303.79 409.66,301.34 436.13,307.69" fill="#626376" stroke="none" stroke-width="1"/>
<polygon points="436.76,305.06 410.29,298.71 410.76,296.79 437.22,303.14" fill="#404152" stroke="none" stroke-width="1"/>
<ellipse cx="436.38" cy="306.64" rx="2.59" ry="3.60" fill="#4c4d62" stroke="#2e2f40" stroke-width="0.3"/>
<ellipse cx="436.48" cy="306.64" rx="2.02" ry="2.74" fill="#353648" stroke="none" stroke-width="1"/>
<polygon points="435.58,316.62 410.09,310.51 411.77,303.50 437.26,309.62" fill="#505164" stroke="#2e2f40" stroke-width="0.3"/>
<polygon points="435.58,316.62 410.09,310.51 410.68,308.06 436.17,314.17" fill="#626376" stroke="none" stroke-width="1"/>
<polygon points="436.80,311.55 411.31,305.43 411.77,303.50 437.26,309.62" fill="#404152" stroke="none" stroke-width="1"/>
<ellipse cx="436.42" cy="313.12" rx="2.59" ry="3.60" fill="#4c4d62" stroke="#2e2f40" stroke-width="0.3"/>
<ellipse cx="436.52" cy="313.12" rx="2.02" ry="2.74" fill="#353648" stroke="none" stroke-width="1"/>
<polygon points="434.62,322.86 409.77,316.90 411.46,309.90 436.30,315.86" fill="#505164" stroke="#2e2f40" stroke-width="0.3"/>
<polygon points="434.62,322.86 409.77,316.90 410.36,314.45 435.21,320.41" fill="#626376" stroke="none" stroke-width="1"/>
<polygon points="435.84,317.79 410.99,311.82 411.46,309.90 436.30,315.86" fill="#404152" stroke="none" stroke-width="1"/>
<ellipse cx="435.46" cy="319.36" rx="2.59" ry="3.60" fill="#4c4d62" stroke="#2e2f40" stroke-width="0.3"/>
<ellipse cx="435.56" cy="319.36" rx="2.02" ry="2.74" fill="#353648" stroke="none" stroke-width="1"/>
<polygon points="431.43,328.55 402.87,321.69 404.55,314.69 433.11,321.55" fill="#505164" stroke="#2e2f40" stroke-width="0.3"/>
<polygon points="431.43,328.55 402.87,321.69 403.46,319.24 432.02,326.10" fill="#626376" stroke="none" stroke-width="1"/>
<polygon points="432.65,323.47 404.09,316.62 404.55,314.69 433.11,321.55" fill="#404152" stroke="none" stroke-width="1"/>
<ellipse cx="432.27" cy="325.05" rx="2.59" ry="3.60" fill="#4c4d62" stroke="#2e2f40" stroke-width="0.3"/>
<ellipse cx="432.37" cy="325.05" rx="2.02" ry="2.74" fill="#353648" stroke="none" stroke-width="1"/>
<polygon points="430.79,334.86 400.72,327.65 402.40,320.65 432.47,327.86" fill="#505164" stroke="#2e2f40" stroke-width="0.3"/>
<polygon points="430.79,334.86 400.72,327.65 401.31,325.20 431.38,332.41" fill="#626376" stroke="none" stroke-width="1"/>
<polygon points="432.01,329.79 401.94,322.57 402.40,320.65 432.47,327.86" fill="#404152" stroke="none" stroke-width="1"/>
<ellipse cx="431.63" cy="331.36" rx="2.59" ry="3.60" fill="#4c4d62" stroke="#2e2f40" stroke-width="0.3"/>
<ellipse cx="431.73" cy="331.36" rx="2.02" ry="2.74" fill="#353648" stroke="none" stroke-width="1"/>
<polygon points="431.57,311.36 407.41,305.56 409.09,298.56 433.25,304.35" fill="#505164" stroke="#2e2f40" stroke-width="0.3"/>
<polygon points="431.57,311.36 407.41,305.56 408.00,303.11 432.16,308.91" fill="#626376" stroke="none" stroke-width="1"/>
<polygon points="432.79,306.28 408.63,300.48 409.09,298.56 433.25,304.35" fill="#404152" stroke="none" stroke-width="1"/>
<ellipse cx="432.41" cy="307.85" rx="2.59" ry="3.60" fill="#4c4d62" stroke="#2e2f40" stroke-width="0.3"/>
<ellipse cx="432.51" cy="307.85" rx="2.02" ry="2.74" fill="#353648" stroke="none" stroke-width="1"/>
<polygon points="430.00,317.44 401.78,310.67 403.46,303.67 431.68,310.44" fill="#505164" stroke="#2e2f40" stroke-width="0.3"/>
<polygon points="430.00,317.44 401.78,310.67 402.37,308.22 430.59,314.99" fill="#626376" stroke="none" stroke-width="1"/>
<polygon points="431.22,312.37 403.00,305.59 403.46,303.67 431.68,310.44" fill="#404152" stroke="none" stroke-width="1"/>
<ellipse cx="430.84" cy="313.94" rx="2.59" ry="3.60" fill="#4c4d62" stroke="#2e2f40" stroke-width="0.3"/>
<ellipse cx="430.94" cy="313.94" rx="2.02" ry="2.74" fill="#353648" stroke="none" stroke-width="1"/>
<polygon points="428.71,323.60 403.99,317.67 405.67,310.66 430.39,316.60" fill="#505164" stroke="#2e2f40" stroke-width="0.3"/>
<polygon points="428.71,323.60 403.99,317.67 404.58,315.22 429.30,321.15" fill="#626376" stroke="none" stroke-width="1"/>
<polygon points="429.93,318.52 405.21,312.59 405.67,310.66 430.39,316.60" fill="#404152" stroke="none" stroke-width="1"/>
<ellipse cx="429.55" cy="320.10" rx="2.59" ry="3.60" fill="#4c4d62" stroke="#2e2f40" stroke-width="0.3"/>
<ellipse cx="429.65" cy="320.10" rx="2.02" ry="2.74" fill="#353648" stroke="none" stroke-width="1"/>
<polygon points="426.67,329.57 401.00,323.41 402.68,316.41 428.35,322.57" fill="#505164" stroke="#2e2f40" stroke-width="0.3"/>
<polygon points="426.67,329.57 401.00,323.41 401.59,320.96 427.26,327.12" fill="#626376" stroke="none" stroke-width="1"/>
<polygon points="427.89,324.49 402.22,318.33 402.68,316.41 428.35,322.57" fill="#404152" stroke="none" stroke-width="1"/>
<ellipse cx="427.51" cy="326.07" rx="2.59" ry="3.60" fill="#4c4d62" stroke="#2e2f40" stroke-width="0.3"/>
<ellipse cx="427.61" cy="326.07" rx="2.02" ry="2.74" fill="#353648" stroke="none" stroke-width="1"/>
<polygon points="429.80,313.12 399.82,305.92 401.50,298.92 431.48,306.12" fill="#505164" stroke="#2e2f40" stroke-width="0.3"/>
<polygon points="429.80,313.12 399.82,305.92 400.41,303.47 430.39,310.67" fill="#626376" stroke="none" stroke-width="1"/>
<polygon points="431.02,308.04 401.04,300.84 401.50,298.92 431.48,306.12" fill="#404152" stroke="none" stroke-width="1"/>
<ellipse cx="430.64" cy="309.62" rx="2.59" ry="3.60" fill="#4c4d62" stroke="#2e2f40" stroke-width="0.3"/>
<ellipse cx="430.74" cy="309.62" rx="2.02" ry="2.74" fill="#353648" stroke="none" stroke-width="1"/>
<polygon points="426.31,318.73 402.28,312.96 403.96,305.96 427.99,311.73" fill="#505164" stroke="#2e2f40" stroke-width="0.3"/>
<polygon points="426.31,318.73 402.28,312.96 402.87,310.51 426.90,316.28" fill="#626376" stroke="none" stroke-width="1"/>
<polygon points="427.53,313.65 403.50,307.88 403.96,305.96 427.99,311.73" fill="#404152" stroke="none" stroke-width="1"/>
<ellipse cx="427.15" cy="315.23" rx="2.59" ry="3.60" fill="#4c4d62" stroke="#2e2f40" stroke-width="0.3"/>
<ellipse cx="427.25" cy="315.23" rx="2.02" ry="2.74" fill="#353648" stroke="none" stroke-width="1"/>
<polygon points="426.18,325.17 398.39,318.50 400.07,311.50 427.86,318.17" fill="#505164" stroke="#2e2f40" stroke-width="0.3"/>
<polygon points="426.18,325.17 398.39,318.50 398.98,316.05 426.77,322.72" fill="#626376" stroke="none" stroke-width="1"/>
<polygon points="427.40,320.10 399.61,313.43 400.07,311.50 427.86,318.17" fill="#404152" stroke="none" stroke-width="1"/>
<ellipse cx="427.02" cy="321.67" rx="2.59" ry="3.60" fill="#4c4d62" stroke="#2e2f40" stroke-width="0.3"/>
<ellipse cx="427.12" cy="321.67" rx="2.02" ry="2.74" fill="#353648" stroke="none" stroke-width="1"/>
<text class="S" x="452.1" y="312.1" font-size="4.1" textLength="22.7" lengthAdjust="spacingAndGlyphs" fill="#222" stroke="#444" stroke-width="0.12">Drop-coating</text>
<line x1="452.70" y1="315.60" x2="470.50" y2="315.60" stroke="#a184d2" stroke-width="0.8"/>
<polygon points="474.20,315.60 469.70,317.20 469.70,314.00" fill="#a184d2" stroke="none" stroke-width="1"/>
<polygon points="482.90,314.50 492.80,309.90 513.00,321.10 503.10,324.40" fill="#1fa383" stroke="none" stroke-width="1"/>
<line x1="486.50" y1="314.20" x2="506.50" y2="322.80" stroke="#6cc8ac" stroke-width="0.35"/>
<line x1="489.00" y1="312.80" x2="509.00" y2="321.50" stroke="#6cc8ac" stroke-width="0.35"/>
<line x1="481.60" y1="308.60" x2="486.00" y2="311.20" stroke="#222" stroke-width="0.9"/>
<line x1="483.80" y1="307.50" x2="488.20" y2="310.10" stroke="#222" stroke-width="0.9"/>
<line x1="486.00" y1="306.40" x2="490.40" y2="309.00" stroke="#222" stroke-width="0.9"/>
<ellipse cx="505.20" cy="321.00" rx="3.20" ry="1.60" fill="#111" stroke="none" stroke-width="1"/>
<path d="M505.2,313.0 C506.0,315.5 507.2,317 507.2,318.4 C507.2,319.8 503.2,319.8 503.2,318.4 C503.2,317 504.4,315.5 505.2,313.0 Z" stroke="#5a9ad0" stroke-width="0.3" fill="#a8d4f0"/>
</svg>
</body></html>
